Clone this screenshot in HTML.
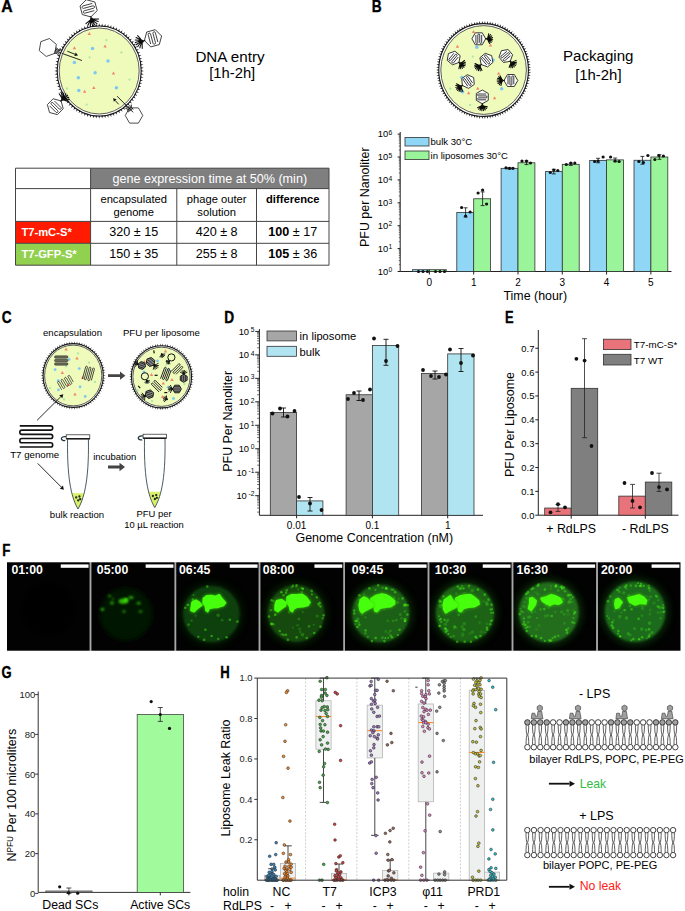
<!DOCTYPE html>
<html><head><meta charset="utf-8"><style>
html,body{margin:0;padding:0;background:#fff;overflow:hidden;}
svg{display:block;font-family:"Liberation Sans", sans-serif;}
</style></head><body>
<svg width="685" height="911" viewBox="0 0 685 911">
<rect width="685" height="911" fill="#fff"/>
<text x="0" y="0" font-size="15.8" font-weight="bold" stroke="#000" stroke-width="0.35" transform="translate(1.20 12.4) scale(0.999 1)">A</text>
<ellipse cx="99.2" cy="71" rx="40.0" ry="43.0" fill="#effbbb"/>
<ellipse cx="99.2" cy="71" rx="40.0" ry="43.0" fill="none" stroke="#4a4a4a" stroke-width="0.9"/>
<ellipse cx="99.2" cy="71" rx="42.0" ry="45.0" fill="none" stroke="#1a1a1a" stroke-width="1.1"/>
<path d="M141.20 71.75L143.90 71.00L141.20 70.25ZM141.05 74.82L143.80 74.26L141.15 73.32ZM140.71 77.87L143.48 77.50L140.91 76.38ZM140.17 80.89L142.97 80.70L140.47 79.42ZM139.44 83.86L142.24 83.87L139.84 82.42ZM138.52 86.78L141.32 86.97L139.03 85.36ZM137.42 89.62L140.20 90.00L138.02 88.24ZM136.15 92.37L138.89 92.95L136.84 91.04ZM134.70 95.02L137.39 95.78L135.48 93.74ZM133.08 97.56L135.72 98.51L133.95 96.34ZM131.31 99.98L133.87 101.10L132.25 98.82ZM129.38 102.26L131.87 103.56L130.41 101.17ZM127.32 104.40L129.71 105.86L128.42 103.38ZM125.12 106.38L127.41 108.00L126.29 105.43ZM122.81 108.20L124.98 109.97L124.03 107.33ZM120.38 109.84L122.43 111.76L121.66 109.06ZM117.86 111.30L119.76 113.35L119.19 110.61ZM115.24 112.57L117.01 114.75L116.62 111.98ZM112.56 113.65L114.17 115.95L113.97 113.15ZM109.81 114.53L111.26 116.93L111.25 114.13ZM107.01 115.21L108.29 117.70L108.48 114.91ZM104.18 115.68L105.29 118.26L105.66 115.48ZM101.32 115.95L102.25 118.59L102.81 115.84ZM98.45 116.00L99.20 118.70L99.95 116.00ZM95.59 115.84L96.15 118.59L97.08 115.95ZM92.74 115.48L93.11 118.26L94.22 115.68ZM89.92 114.91L90.11 117.70L91.39 115.21ZM87.15 114.13L87.14 116.93L88.59 114.53ZM84.43 113.15L84.23 115.95L85.84 113.65ZM81.78 111.98L81.39 114.75L83.16 112.57ZM79.21 110.61L78.64 113.35L80.54 111.30ZM76.74 109.06L75.97 111.76L78.02 109.84ZM74.37 107.33L73.42 109.97L75.59 108.20ZM72.11 105.43L70.99 108.00L73.28 106.38ZM69.98 103.38L68.69 105.86L71.08 104.40ZM67.99 101.17L66.53 103.56L69.02 102.26ZM66.15 98.82L64.53 101.10L67.09 99.98ZM64.45 96.34L62.68 98.51L65.32 97.56ZM62.92 93.74L61.01 95.78L63.70 95.02ZM61.56 91.04L59.51 92.95L62.25 92.37ZM60.38 88.24L58.20 90.00L60.98 89.62ZM59.37 85.36L57.08 86.97L59.88 86.78ZM58.56 82.42L56.16 83.87L58.96 83.86ZM57.93 79.42L55.43 80.70L58.23 80.89ZM57.49 76.38L54.92 77.50L57.69 77.87ZM57.25 73.32L54.60 74.26L57.35 74.82ZM57.20 70.25L54.50 71.00L57.20 71.75ZM57.35 67.18L54.60 67.74L57.25 68.68ZM57.69 64.13L54.92 64.50L57.49 65.62ZM58.23 61.11L55.43 61.30L57.93 62.58ZM58.96 58.14L56.16 58.13L58.56 59.58ZM59.88 55.22L57.08 55.03L59.37 56.64ZM60.98 52.38L58.20 52.00L60.38 53.76ZM62.25 49.63L59.51 49.05L61.56 50.96ZM63.70 46.98L61.01 46.22L62.92 48.26ZM65.32 44.44L62.68 43.49L64.45 45.66ZM67.09 42.02L64.53 40.90L66.15 43.18ZM69.02 39.74L66.53 38.44L67.99 40.83ZM71.08 37.60L68.69 36.14L69.98 38.62ZM73.28 35.62L70.99 34.00L72.11 36.57ZM75.59 33.80L73.42 32.03L74.37 34.67ZM78.02 32.16L75.97 30.24L76.74 32.94ZM80.54 30.70L78.64 28.65L79.21 31.39ZM83.16 29.43L81.39 27.25L81.78 30.02ZM85.84 28.35L84.23 26.05L84.43 28.85ZM88.59 27.47L87.14 25.07L87.15 27.87ZM91.39 26.79L90.11 24.30L89.92 27.09ZM94.22 26.32L93.11 23.74L92.74 26.52ZM97.08 26.05L96.15 23.41L95.59 26.16ZM99.95 26.00L99.20 23.30L98.45 26.00ZM102.81 26.16L102.25 23.41L101.32 26.05ZM105.66 26.52L105.29 23.74L104.18 26.32ZM108.48 27.09L108.29 24.30L107.01 26.79ZM111.25 27.87L111.26 25.07L109.81 27.47ZM113.97 28.85L114.17 26.05L112.56 28.35ZM116.62 30.02L117.01 27.25L115.24 29.43ZM119.19 31.39L119.76 28.65L117.86 30.70ZM121.66 32.94L122.43 30.24L120.38 32.16ZM124.03 34.67L124.98 32.03L122.81 33.80ZM126.29 36.57L127.41 34.00L125.12 35.62ZM128.42 38.62L129.71 36.14L127.32 37.60ZM130.41 40.83L131.87 38.44L129.38 39.74ZM132.25 43.18L133.87 40.90L131.31 42.02ZM133.95 45.66L135.72 43.49L133.08 44.44ZM135.48 48.26L137.39 46.22L134.70 46.98ZM136.84 50.96L138.89 49.05L136.15 49.63ZM138.02 53.76L140.20 52.00L137.42 52.38ZM139.03 56.64L141.32 55.03L138.52 55.22ZM139.84 59.58L142.24 58.13L139.44 58.14ZM140.47 62.58L142.97 61.30L140.17 61.11ZM140.91 65.62L143.48 64.50L140.71 64.13ZM141.15 68.68L143.80 67.74L141.05 67.18Z" fill="#151515"/>
<circle cx="92.5" cy="48.6" r="1.75" fill="#7dc8f2"/><circle cx="74.4" cy="62.5" r="1.75" fill="#7dc8f2"/><circle cx="108.0" cy="61.0" r="1.75" fill="#7dc8f2"/><circle cx="95.1" cy="72.8" r="1.75" fill="#7dc8f2"/><circle cx="78.3" cy="77.8" r="1.75" fill="#7dc8f2"/><circle cx="78.8" cy="90.6" r="1.75" fill="#7dc8f2"/><circle cx="116.4" cy="87.8" r="1.75" fill="#7dc8f2"/><circle cx="106.4" cy="40.2" r="1.15" fill="#a9e8ab"/><circle cx="121.4" cy="52.5" r="1.15" fill="#a9e8ab"/><circle cx="89.6" cy="57.3" r="1.15" fill="#a9e8ab"/><circle cx="129.5" cy="79.6" r="1.15" fill="#a9e8ab"/><circle cx="67.0" cy="88.5" r="1.15" fill="#a9e8ab"/><circle cx="86.7" cy="104.6" r="1.15" fill="#a9e8ab"/><path d="M87.6 35.0L91.0 35.0L89.3 32.0Z" fill="#f0876c"/><path d="M72.7 49.2L76.1 49.2L74.4 46.2Z" fill="#f0876c"/><path d="M103.4 47.6L106.8 47.6L105.1 44.6Z" fill="#f0876c"/><path d="M111.8 74.4L115.2 74.4L113.5 71.4Z" fill="#f0876c"/><path d="M92.1 88.9L95.5 88.9L93.8 85.9Z" fill="#f0876c"/><path d="M82.9 92.8L86.3 92.8L84.6 89.8Z" fill="#f0876c"/>
<polygon points="90.90,16.90 82.31,14.59 80.00,6.00 86.30,-0.30 94.89,2.01 97.20,10.60" fill="#fff" stroke="#222" stroke-width="0.85"/>
<path d="M92.36 3.42L82.90 5.96A1.25 1.25 0 0 0 83.55 8.36L93.01 5.83A1.25 1.25 0 0 1 93.65 8.24L84.19 10.77A1.25 1.25 0 0 0 84.84 13.18L94.30 10.64" stroke="#222" stroke-width="0.85" fill="none"/>
<path d="M90.79 16.47L91.48 19.05M91.48 19.05Q94.49 19.20 98.67 19.05M91.48 19.05Q94.28 20.43 98.23 21.50M91.48 19.05Q93.65 21.51 96.98 23.67M91.48 19.05Q92.70 22.31 95.07 25.27M91.48 19.05Q91.52 22.74 92.73 26.12M91.48 19.05Q90.28 22.74 90.23 26.12M91.48 19.05Q89.10 22.31 87.89 25.27M91.48 19.05Q88.15 21.51 85.97 23.67" stroke="#0a0a0a" stroke-width="1.05" fill="none" stroke-linecap="round"/>
<circle cx="91.48" cy="19.05" r="1.51" fill="#111"/>
<polygon points="144.40,40.60 146.71,32.01 155.30,29.70 161.60,36.00 159.29,44.59 150.70,46.90" fill="#fff" stroke="#222" stroke-width="0.85"/>
<path d="M157.88 42.06L155.34 32.60A1.25 1.25 0 0 0 152.94 33.25L155.47 42.71A1.25 1.25 0 0 1 153.06 43.35L150.53 33.89A1.25 1.25 0 0 0 148.12 34.54L150.66 44.00" stroke="#222" stroke-width="0.85" fill="none"/>
<path d="M144.83 40.49L142.25 41.18M142.25 41.18Q142.10 44.19 142.25 48.37M142.25 41.18Q140.87 43.98 139.80 47.93M142.25 41.18Q139.79 43.35 137.63 46.68M142.25 41.18Q138.99 42.40 136.03 44.77M142.25 41.18Q138.56 41.22 135.18 42.43M142.25 41.18Q138.56 39.98 135.18 39.93M142.25 41.18Q138.99 38.80 136.03 37.59M142.25 41.18Q139.79 37.85 137.63 35.67" stroke="#0a0a0a" stroke-width="1.05" fill="none" stroke-linecap="round"/>
<circle cx="142.25" cy="41.18" r="1.51" fill="#111"/>
<polygon points="61.10,100.90 63.22,108.82 57.42,114.62 49.50,112.50 47.38,104.58 53.18,98.78" fill="#fff" stroke="#222" stroke-width="0.85"/>
<path d="M49.68 105.95L56.05 112.32A1.15 1.15 0 0 0 57.68 110.70L51.30 104.32A1.15 1.15 0 0 1 52.92 102.70L59.30 109.08A1.15 1.15 0 0 0 60.92 107.45L54.55 101.08" stroke="#222" stroke-width="0.85" fill="none"/>
<path d="M60.81 101.19L62.55 99.45M62.55 99.45Q61.32 97.01 59.24 93.72M62.55 99.45Q62.40 96.62 61.40 92.93M62.55 99.45Q63.55 96.62 63.70 92.93M62.55 99.45Q64.63 97.01 65.86 93.72M62.55 99.45Q65.51 97.75 67.62 95.20M62.55 99.45Q66.08 98.74 68.77 97.19M62.55 99.45Q66.28 99.88 69.17 99.45M62.55 99.45Q66.08 101.01 68.77 101.72" stroke="#0a0a0a" stroke-width="1.05" fill="none" stroke-linecap="round"/>
<circle cx="62.55" cy="99.45" r="1.39" fill="#111"/>
<polygon points="46.22,56.46 39.25,50.61 40.83,41.65 49.38,38.54 56.35,44.39 54.77,53.35" fill="#fff" stroke="#222" stroke-width="0.8"/>
<polygon points="142.80,115.50 138.40,123.12 129.60,123.12 125.20,115.50 129.60,107.88 138.40,107.88" fill="#fff" stroke="#222" stroke-width="0.8"/>
<path d="M55.98 47.70Q58.33 50.60 61.01 48.85M55.49 49.05Q58.16 51.05 60.41 50.50M54.99 50.41Q58.00 51.50 59.80 52.16M54.50 51.76Q57.84 51.95 59.20 53.81M54.01 53.11Q57.67 52.40 58.60 55.46" stroke="#111" stroke-width="0.9" fill="none"/>
<path d="M128.41 112.21Q128.47 108.48 125.29 108.10M129.65 111.49Q128.88 108.24 126.82 107.22M130.90 110.77Q129.30 108.00 128.34 106.34M132.15 110.05Q129.72 107.76 129.86 105.46M133.39 109.33Q130.13 107.52 131.39 104.58" stroke="#111" stroke-width="0.9" fill="none"/>
<line x1="61.7" y1="53.3" x2="81.9" y2="60.5" stroke="#111" stroke-width="0.9"/>
<line x1="67.3" y1="51.2" x2="75.03" y2="54.31" stroke="#111" stroke-width="0.9"/>
<path d="M78.00 55.50L74.32 56.07L75.74 52.54Z" fill="#111"/>
<line x1="133.1" y1="112.3" x2="117.1" y2="96.2" stroke="#111" stroke-width="0.9"/>
<line x1="118.7" y1="104.3" x2="115.26" y2="100.56" stroke="#111" stroke-width="0.9"/>
<path d="M113.10 98.20L116.66 99.27L113.86 101.84Z" fill="#111"/>
<text x="230.00" y="62.00" font-size="15.2" text-anchor="middle" fill="#000">DNA entry</text>
<text x="232.20" y="77.80" font-size="14.8" text-anchor="middle" fill="#000">[1h-2h]</text>
<rect x="90.6" y="168.2" width="238.4" height="20.400000000000006" fill="#7f7f7f"/>
<rect x="15.5" y="221.4" width="75.1" height="21.900000000000006" fill="#ff1a00"/>
<rect x="15.5" y="243.3" width="75.1" height="21.899999999999977" fill="#92d050"/>
<path d="M15.5 168.2H329M15.5 188.6H329M15.5 221.4H329M15.5 243.3H329M15.5 265.2H329M15.5 168.2V265.2M329 168.2V265.2M90.6 168.2V265.2M176.8 188.6V265.2M256.5 188.6V265.2" stroke="#444" stroke-width="1" fill="none"/>
<text x="209.80" y="183.20" font-size="12.6" text-anchor="middle" fill="#fff">gene expression time at 50% (min)</text>
<text x="133.70" y="203.00" font-size="11.2" text-anchor="middle" fill="#000">encapsulated</text>
<text x="133.70" y="215.50" font-size="11.2" text-anchor="middle" fill="#000">genome</text>
<text x="216.65" y="203.00" font-size="11.2" text-anchor="middle" fill="#000">phage outer</text>
<text x="216.65" y="215.50" font-size="11.2" text-anchor="middle" fill="#000">solution</text>
<text x="292.75" y="203.00" font-size="11.2" text-anchor="middle" fill="#000" font-weight="bold">difference</text>
<text x="21.40" y="236.30" font-size="11.2" text-anchor="start" fill="#fff" font-weight="bold">T7-mC-S*</text>
<text x="21.40" y="258.10" font-size="11.2" text-anchor="start" fill="#fff" font-weight="bold">T7-GFP-S*</text>
<text x="133.70" y="235.90" font-size="12.6" text-anchor="middle" fill="#000">320 ± 15</text>
<text x="216.65" y="235.90" font-size="12.6" text-anchor="middle" fill="#000">420 ± 8</text>
<text x="292.8" y="235.9" font-size="12.6" text-anchor="middle"><tspan font-weight="bold">100</tspan> ± 17</text>
<text x="133.70" y="257.70" font-size="12.6" text-anchor="middle" fill="#000">150 ± 35</text>
<text x="216.65" y="257.70" font-size="12.6" text-anchor="middle" fill="#000">255 ± 8</text>
<text x="292.8" y="257.7" font-size="12.6" text-anchor="middle"><tspan font-weight="bold">105</tspan> ± 36</text>
<text x="0" y="0" font-size="15.8" font-weight="bold" stroke="#000" stroke-width="0.35" transform="translate(371.70 12.4) scale(0.867 1)">B</text>
<ellipse cx="483.6" cy="70" rx="42.8" ry="44.4" fill="#effbbb"/>
<ellipse cx="483.6" cy="70" rx="42.8" ry="44.4" fill="none" stroke="#4a4a4a" stroke-width="0.9"/>
<ellipse cx="483.6" cy="70" rx="44.8" ry="46.4" fill="none" stroke="#1a1a1a" stroke-width="1.1"/>
<path d="M528.40 70.75L531.10 70.00L528.40 69.25ZM528.28 73.40L531.02 72.80L528.37 71.90ZM528.02 76.03L530.79 75.60L528.19 74.54ZM527.62 78.65L530.40 78.37L527.87 77.17ZM527.07 81.24L529.87 81.12L527.41 79.78ZM526.37 83.79L529.18 83.83L526.80 82.35ZM525.54 86.30L528.34 86.50L526.05 84.89ZM524.57 88.75L527.35 89.11L525.16 87.37ZM523.47 91.15L526.23 91.66L524.13 89.80ZM522.24 93.47L524.96 94.14L522.98 92.16ZM520.88 95.72L523.56 96.55L521.69 94.45ZM519.40 97.88L522.03 98.86L520.28 96.67ZM517.81 99.95L520.37 101.08L518.76 98.79ZM516.10 101.93L518.60 103.20L517.11 100.82ZM514.28 103.80L516.70 105.21L515.36 102.75ZM512.37 105.56L514.71 107.11L513.50 104.58ZM510.36 107.20L512.61 108.88L511.55 106.29ZM508.27 108.73L510.41 110.53L509.51 107.88ZM506.09 110.12L508.13 112.05L507.38 109.35ZM503.84 111.39L505.77 113.43L505.17 110.69ZM501.53 112.52L503.33 114.66L502.89 111.90ZM499.15 113.51L500.83 115.75L500.55 112.97ZM496.73 114.36L498.28 116.70L498.16 113.90ZM494.26 115.07L495.68 117.49L495.71 114.68ZM491.76 115.62L493.03 118.12L493.23 115.33ZM489.23 116.03L490.36 118.60L490.72 115.82ZM486.69 116.29L487.66 118.92L488.18 116.17ZM484.13 116.40L484.96 119.08L485.63 116.36ZM481.57 116.36L482.24 119.08L483.07 116.40ZM479.02 116.17L479.54 118.92L480.51 116.29ZM476.48 115.82L476.84 118.60L477.97 116.03ZM473.97 115.33L474.17 118.12L475.44 115.62ZM471.49 114.68L471.52 117.49L472.94 115.07ZM469.04 113.90L468.92 116.70L470.47 114.36ZM466.65 112.97L466.37 115.75L468.05 113.51ZM464.31 111.90L463.87 114.66L465.67 112.52ZM462.03 110.69L461.43 113.43L463.36 111.39ZM459.82 109.35L459.07 112.05L461.11 110.12ZM457.69 107.88L456.79 110.53L458.93 108.73ZM455.65 106.29L454.59 108.88L456.84 107.20ZM453.70 104.58L452.49 107.11L454.83 105.56ZM451.84 102.75L450.50 105.21L452.92 103.80ZM450.09 100.82L448.60 103.20L451.10 101.93ZM448.44 98.79L446.83 101.08L449.39 99.95ZM446.92 96.67L445.17 98.86L447.80 97.88ZM445.51 94.45L443.64 96.55L446.32 95.72ZM444.22 92.16L442.24 94.14L444.96 93.47ZM443.07 89.80L440.97 91.66L443.73 91.15ZM442.04 87.37L439.85 89.11L442.63 88.75ZM441.15 84.89L438.86 86.50L441.66 86.30ZM440.40 82.35L438.02 83.83L440.83 83.79ZM439.79 79.78L437.33 81.12L440.13 81.24ZM439.33 77.17L436.80 78.37L439.58 78.65ZM439.01 74.54L436.41 75.60L439.18 76.03ZM438.83 71.90L436.18 72.80L438.92 73.40ZM438.80 69.25L436.10 70.00L438.80 70.75ZM438.92 66.60L436.18 67.20L438.83 68.10ZM439.18 63.97L436.41 64.40L439.01 65.46ZM439.58 61.35L436.80 61.63L439.33 62.83ZM440.13 58.76L437.33 58.88L439.79 60.22ZM440.83 56.21L438.02 56.17L440.40 57.65ZM441.66 53.70L438.86 53.50L441.15 55.11ZM442.63 51.25L439.85 50.89L442.04 52.63ZM443.73 48.85L440.97 48.34L443.07 50.20ZM444.96 46.53L442.24 45.86L444.22 47.84ZM446.32 44.28L443.64 43.45L445.51 45.55ZM447.80 42.12L445.17 41.14L446.92 43.33ZM449.39 40.05L446.83 38.92L448.44 41.21ZM451.10 38.07L448.60 36.80L450.09 39.18ZM452.92 36.20L450.50 34.79L451.84 37.25ZM454.83 34.44L452.49 32.89L453.70 35.42ZM456.84 32.80L454.59 31.12L455.65 33.71ZM458.93 31.27L456.79 29.47L457.69 32.12ZM461.11 29.88L459.07 27.95L459.82 30.65ZM463.36 28.61L461.43 26.57L462.03 29.31ZM465.67 27.48L463.87 25.34L464.31 28.10ZM468.05 26.49L466.37 24.25L466.65 27.03ZM470.47 25.64L468.92 23.30L469.04 26.10ZM472.94 24.93L471.52 22.51L471.49 25.32ZM475.44 24.38L474.17 21.88L473.97 24.67ZM477.97 23.97L476.84 21.40L476.48 24.18ZM480.51 23.71L479.54 21.08L479.02 23.83ZM483.07 23.60L482.24 20.92L481.57 23.64ZM485.63 23.64L484.96 20.92L484.13 23.60ZM488.18 23.83L487.66 21.08L486.69 23.71ZM490.72 24.18L490.36 21.40L489.23 23.97ZM493.23 24.67L493.03 21.88L491.76 24.38ZM495.71 25.32L495.68 22.51L494.26 24.93ZM498.16 26.10L498.28 23.30L496.73 25.64ZM500.55 27.03L500.83 24.25L499.15 26.49ZM502.89 28.10L503.33 25.34L501.53 27.48ZM505.17 29.31L505.77 26.57L503.84 28.61ZM507.38 30.65L508.13 27.95L506.09 29.88ZM509.51 32.12L510.41 29.47L508.27 31.27ZM511.55 33.71L512.61 31.12L510.36 32.80ZM513.50 35.42L514.71 32.89L512.37 34.44ZM515.36 37.25L516.70 34.79L514.28 36.20ZM517.11 39.18L518.60 36.80L516.10 38.07ZM518.76 41.21L520.37 38.92L517.81 40.05ZM520.28 43.33L522.03 41.14L519.40 42.12ZM521.69 45.55L523.56 43.45L520.88 44.28ZM522.98 47.84L524.96 45.86L522.24 46.53ZM524.13 50.20L526.23 48.34L523.47 48.85ZM525.16 52.63L527.35 50.89L524.57 51.25ZM526.05 55.11L528.34 53.50L525.54 53.70ZM526.80 57.65L529.18 56.17L526.37 56.21ZM527.41 60.22L529.87 58.88L527.07 58.76ZM527.87 62.83L530.40 61.63L527.62 61.35ZM528.19 65.46L530.79 64.40L528.02 63.97ZM528.37 68.10L531.02 67.20L528.28 66.60Z" fill="#151515"/>
<circle cx="476.8" cy="47.2" r="1.75" fill="#7dc8f2"/><circle cx="457.2" cy="61.1" r="1.75" fill="#7dc8f2"/><circle cx="493.2" cy="60.1" r="1.75" fill="#7dc8f2"/><circle cx="461.9" cy="77.4" r="1.75" fill="#7dc8f2"/><circle cx="462.5" cy="91.7" r="1.75" fill="#7dc8f2"/><circle cx="501.7" cy="88.7" r="1.75" fill="#7dc8f2"/><circle cx="472.7" cy="56.6" r="1.15" fill="#a9e8ab"/><circle cx="450.2" cy="88.7" r="1.15" fill="#a9e8ab"/><circle cx="470.1" cy="105.0" r="1.15" fill="#a9e8ab"/><circle cx="490.5" cy="38.6" r="1.15" fill="#a9e8ab"/><path d="M471.8 32.9L475.2 32.9L473.5 29.9Z" fill="#f0876c"/><path d="M455.7 47.8L459.1 47.8L457.4 44.8Z" fill="#f0876c"/><path d="M488.8 46.6L492.2 46.6L490.5 43.6Z" fill="#f0876c"/><path d="M497.0 74.8L500.4 74.8L498.7 71.8Z" fill="#f0876c"/><path d="M476.1 89.7L479.5 89.7L477.8 86.7Z" fill="#f0876c"/><path d="M466.9 94.2L470.3 94.2L468.6 91.2Z" fill="#f0876c"/><path d="M492.9 99.3L496.3 99.3L494.6 96.3Z" fill="#f0876c"/>
<polygon points="485.70,38.80 482.25,44.78 475.35,44.78 471.90,38.80 475.35,32.82 482.25,32.82" fill="#fff" stroke="#222" stroke-width="0.9"/>
<path d="M475.90 35.00L475.90 42.59A0.97 0.97 0 0 0 477.83 42.59L477.83 35.00A0.97 0.97 0 0 1 479.77 35.00L479.77 42.59A0.97 0.97 0 0 0 481.70 42.59L481.70 35.00" stroke="#222" stroke-width="0.9" fill="none"/>
<path d="M485.36 38.80L487.43 38.80M487.43 38.80Q488.10 36.87 488.78 33.73M487.43 38.80Q488.93 37.25 490.43 34.50M487.43 38.80Q489.57 37.90 491.72 35.79M487.43 38.80Q489.96 38.72 492.49 37.44M487.43 38.80Q490.04 39.63 492.65 39.26M487.43 38.80Q489.80 40.51 492.18 41.02M487.43 38.80Q489.28 41.25 491.13 42.51M487.43 38.80Q488.53 41.78 489.64 43.55" stroke="#0a0a0a" stroke-width="1.05" fill="none" stroke-linecap="round"/>
<circle cx="487.43" cy="38.80" r="1.17" fill="#111"/>
<polygon points="458.99,62.44 452.50,64.80 447.22,60.36 448.41,53.56 454.90,51.20 460.18,55.64" fill="#fff" stroke="#222" stroke-width="0.9"/>
<path d="M453.92 53.23L449.04 59.04A0.97 0.97 0 0 0 450.52 60.29L455.40 54.47A0.97 0.97 0 0 1 456.88 55.71L452.00 61.53A0.97 0.97 0 0 0 453.48 62.77L458.36 56.96" stroke="#222" stroke-width="0.9" fill="none"/>
<path d="M458.72 62.21L460.31 63.54M460.31 63.54Q462.07 62.50 464.60 60.54M460.31 63.54Q462.45 63.33 465.37 62.19M460.31 63.54Q462.53 64.23 465.53 64.00M460.31 63.54Q462.30 65.11 465.06 65.76M460.31 63.54Q461.78 65.86 464.02 67.25M460.31 63.54Q461.03 66.38 462.52 68.30M460.31 63.54Q460.15 66.62 460.76 68.77M460.31 63.54Q459.24 66.54 458.95 68.61" stroke="#0a0a0a" stroke-width="1.05" fill="none" stroke-linecap="round"/>
<circle cx="460.31" cy="63.54" r="1.17" fill="#111"/>
<polygon points="481.11,64.54 479.92,57.74 485.20,53.30 491.69,55.66 492.88,62.46 487.60,66.90" fill="#fff" stroke="#222" stroke-width="0.9"/>
<path d="M491.06 61.14L486.18 55.33A0.97 0.97 0 0 0 484.70 56.57L489.58 62.39A0.97 0.97 0 0 1 488.10 63.63L483.22 57.81A0.97 0.97 0 0 0 481.74 59.06L486.62 64.87" stroke="#222" stroke-width="0.9" fill="none"/>
<path d="M481.38 64.31L479.79 65.64M479.79 65.64Q480.52 67.56 482.01 70.40M479.79 65.64Q479.64 67.80 480.25 70.87M479.79 65.64Q478.73 67.72 478.44 70.71M479.79 65.64Q477.90 67.33 476.79 69.94M479.79 65.64Q477.26 66.69 475.50 68.65M479.79 65.64Q476.87 65.86 474.73 67.00M479.79 65.64Q476.80 64.96 474.57 65.19M479.79 65.64Q477.03 64.08 475.04 63.43" stroke="#0a0a0a" stroke-width="1.05" fill="none" stroke-linecap="round"/>
<circle cx="479.79" cy="65.64" r="1.17" fill="#111"/>
<polygon points="510.24,61.29 503.44,62.48 499.00,57.20 501.36,50.71 508.16,49.52 512.60,54.80" fill="#fff" stroke="#222" stroke-width="0.9"/>
<path d="M506.84 51.34L501.03 56.22A0.97 0.97 0 0 0 502.27 57.70L508.09 52.82A0.97 0.97 0 0 1 509.33 54.30L503.51 59.18A0.97 0.97 0 0 0 504.76 60.66L510.57 55.78" stroke="#222" stroke-width="0.9" fill="none"/>
<path d="M510.01 61.02L511.34 62.61M511.34 62.61Q513.26 61.88 516.10 60.39M511.34 62.61Q513.50 62.76 516.57 62.15M511.34 62.61Q513.42 63.67 516.41 63.96M511.34 62.61Q513.03 64.50 515.64 65.61M511.34 62.61Q512.39 65.14 514.35 66.90M511.34 62.61Q511.56 65.53 512.70 67.67M511.34 62.61Q510.66 65.60 510.89 67.83M511.34 62.61Q509.78 65.37 509.13 67.36" stroke="#0a0a0a" stroke-width="1.05" fill="none" stroke-linecap="round"/>
<circle cx="511.34" cy="62.61" r="1.17" fill="#111"/>
<polygon points="462.35,85.46 461.75,78.58 467.40,74.63 473.65,77.54 474.25,84.42 468.60,88.37" fill="#fff" stroke="#222" stroke-width="0.9"/>
<path d="M472.55 82.95L468.20 76.73A0.97 0.97 0 0 0 466.61 77.84L470.97 84.05A0.97 0.97 0 0 1 469.39 85.16L465.03 78.95A0.97 0.97 0 0 0 463.45 80.05L467.80 86.27" stroke="#222" stroke-width="0.9" fill="none"/>
<path d="M462.63 85.26L460.93 86.45M460.93 86.45Q461.49 88.42 462.73 91.37M460.93 86.45Q460.59 88.58 460.93 91.69M460.93 86.45Q459.69 88.42 459.14 91.37M460.93 86.45Q458.91 87.96 457.56 90.46M460.93 86.45Q458.32 87.27 456.39 89.07M460.93 86.45Q458.01 86.41 455.77 87.36M460.93 86.45Q458.01 85.50 455.77 85.54M460.93 86.45Q458.32 84.64 456.39 83.83" stroke="#0a0a0a" stroke-width="1.05" fill="none" stroke-linecap="round"/>
<circle cx="460.93" cy="86.45" r="1.17" fill="#111"/>
<polygon points="504.00,80.50 507.45,74.52 514.35,74.52 517.80,80.50 514.35,86.48 507.45,86.48" fill="#fff" stroke="#222" stroke-width="0.9"/>
<path d="M513.80 84.30L513.80 76.70A0.97 0.97 0 0 0 511.87 76.70L511.87 84.30A0.97 0.97 0 0 1 509.93 84.30L509.93 76.70A0.97 0.97 0 0 0 508.00 76.70L508.00 84.30" stroke="#222" stroke-width="0.9" fill="none"/>
<path d="M504.34 80.50L502.27 80.50M502.27 80.50Q501.60 82.43 500.92 85.57M502.27 80.50Q500.77 82.05 499.27 84.80M502.27 80.50Q500.13 81.40 497.98 83.51M502.27 80.50Q499.74 80.58 497.21 81.86M502.27 80.50Q499.66 79.67 497.05 80.04M502.27 80.50Q499.90 78.79 497.52 78.28M502.27 80.50Q500.42 78.05 498.57 76.79M502.27 80.50Q501.17 77.52 500.06 75.75" stroke="#0a0a0a" stroke-width="1.05" fill="none" stroke-linecap="round"/>
<circle cx="502.27" cy="80.50" r="1.17" fill="#111"/>
<polygon points="482.30,103.80 476.32,100.35 476.32,93.45 482.30,90.00 488.28,93.45 488.28,100.35" fill="#fff" stroke="#222" stroke-width="0.9"/>
<path d="M486.10 94.00L478.50 94.00A0.97 0.97 0 0 0 478.50 95.93L486.10 95.93A0.97 0.97 0 0 1 486.10 97.87L478.50 97.87A0.97 0.97 0 0 0 478.50 99.80L486.10 99.80" stroke="#222" stroke-width="0.9" fill="none"/>
<path d="M482.30 103.46L482.30 105.53M482.30 105.53Q484.23 106.20 487.37 106.88M482.30 105.53Q483.85 107.03 486.60 108.53M482.30 105.53Q483.20 107.67 485.31 109.82M482.30 105.53Q482.38 108.06 483.66 110.59M482.30 105.53Q481.47 108.14 481.84 110.75M482.30 105.53Q480.59 107.90 480.08 110.28M482.30 105.53Q479.85 107.38 478.59 109.23M482.30 105.53Q479.32 106.63 477.55 107.74" stroke="#0a0a0a" stroke-width="1.05" fill="none" stroke-linecap="round"/>
<circle cx="482.30" cy="105.53" r="1.17" fill="#111"/>
<text x="598.20" y="60.80" font-size="15.1" text-anchor="middle" fill="#000">Packaging</text>
<text x="598.35" y="80.20" font-size="14.9" text-anchor="middle" fill="#000">[1h-2h]</text>
<path d="M400.2 132V271.5H671.5" stroke="#222" stroke-width="1" fill="none"/>
<line x1="397.59999999999997" y1="271.5" x2="400.2" y2="271.5" stroke="#222" stroke-width="1"/>
<text x="392.3" y="274.80" font-size="9.4" text-anchor="end">10<tspan font-size="6.7" dx="0.3" dy="-2.6">0</tspan></text>
<path d="M398.8 264.61H400.2M398.8 260.57H400.2M398.8 257.71H400.2M398.8 255.49H400.2M398.8 253.68H400.2M398.8 252.15H400.2M398.8 250.82H400.2M398.8 249.65H400.2" stroke="#222" stroke-width="0.6"/>
<line x1="397.59999999999997" y1="248.6" x2="400.2" y2="248.6" stroke="#222" stroke-width="1"/>
<text x="392.3" y="251.90" font-size="9.4" text-anchor="end">10<tspan font-size="6.7" dx="0.3" dy="-2.6">1</tspan></text>
<path d="M398.8 241.71H400.2M398.8 237.67H400.2M398.8 234.81H400.2M398.8 232.59H400.2M398.8 230.78H400.2M398.8 229.25H400.2M398.8 227.92H400.2M398.8 226.75H400.2" stroke="#222" stroke-width="0.6"/>
<line x1="397.59999999999997" y1="225.7" x2="400.2" y2="225.7" stroke="#222" stroke-width="1"/>
<text x="392.3" y="229.00" font-size="9.4" text-anchor="end">10<tspan font-size="6.7" dx="0.3" dy="-2.6">2</tspan></text>
<path d="M398.8 218.81H400.2M398.8 214.77H400.2M398.8 211.91H400.2M398.8 209.69H400.2M398.8 207.88H400.2M398.8 206.35H400.2M398.8 205.02H400.2M398.8 203.85H400.2" stroke="#222" stroke-width="0.6"/>
<line x1="397.59999999999997" y1="202.8" x2="400.2" y2="202.8" stroke="#222" stroke-width="1"/>
<text x="392.3" y="206.10" font-size="9.4" text-anchor="end">10<tspan font-size="6.7" dx="0.3" dy="-2.6">3</tspan></text>
<path d="M398.8 195.91H400.2M398.8 191.87H400.2M398.8 189.01H400.2M398.8 186.79H400.2M398.8 184.98H400.2M398.8 183.45H400.2M398.8 182.12H400.2M398.8 180.95H400.2" stroke="#222" stroke-width="0.6"/>
<line x1="397.59999999999997" y1="179.9" x2="400.2" y2="179.9" stroke="#222" stroke-width="1"/>
<text x="392.3" y="183.20" font-size="9.4" text-anchor="end">10<tspan font-size="6.7" dx="0.3" dy="-2.6">4</tspan></text>
<path d="M398.8 173.01H400.2M398.8 168.97H400.2M398.8 166.11H400.2M398.8 163.89H400.2M398.8 162.08H400.2M398.8 160.55H400.2M398.8 159.22H400.2M398.8 158.05H400.2" stroke="#222" stroke-width="0.6"/>
<line x1="397.59999999999997" y1="157.0" x2="400.2" y2="157.0" stroke="#222" stroke-width="1"/>
<text x="392.3" y="160.30" font-size="9.4" text-anchor="end">10<tspan font-size="6.7" dx="0.3" dy="-2.6">5</tspan></text>
<path d="M398.8 150.11H400.2M398.8 146.07H400.2M398.8 143.21H400.2M398.8 140.99H400.2M398.8 139.18H400.2M398.8 137.65H400.2M398.8 136.32H400.2M398.8 135.15H400.2" stroke="#222" stroke-width="0.6"/>
<line x1="397.59999999999997" y1="134.10000000000002" x2="400.2" y2="134.10000000000002" stroke="#222" stroke-width="1"/>
<text x="392.3" y="137.40" font-size="9.4" text-anchor="end">10<tspan font-size="6.7" dx="0.3" dy="-2.6">6</tspan></text>
<rect x="412.50" y="269.69" width="16.9" height="1.81" fill="#8fd7f5" stroke="#333" stroke-width="0.8"/>
<rect x="429.40" y="269.69" width="16.9" height="1.81" fill="#9af59a" stroke="#333" stroke-width="0.8"/>
<line x1="429.4" y1="271.5" x2="429.4" y2="274.5" stroke="#222"/>
<text x="429.40" y="285.50" font-size="10" text-anchor="middle" fill="#000">0</text>
<rect x="456.80" y="212.42" width="16.9" height="59.08" fill="#8fd7f5" stroke="#333" stroke-width="0.8"/>
<rect x="473.70" y="198.77" width="16.9" height="72.73" fill="#9af59a" stroke="#333" stroke-width="0.8"/>
<line x1="473.7" y1="271.5" x2="473.7" y2="274.5" stroke="#222"/>
<text x="473.70" y="285.50" font-size="10" text-anchor="middle" fill="#000">1</text>
<rect x="501.10" y="168.33" width="16.9" height="103.17" fill="#8fd7f5" stroke="#333" stroke-width="0.8"/>
<rect x="518.00" y="162.77" width="16.9" height="108.73" fill="#9af59a" stroke="#333" stroke-width="0.8"/>
<line x1="518.0" y1="271.5" x2="518.0" y2="274.5" stroke="#222"/>
<text x="518.00" y="285.50" font-size="10" text-anchor="middle" fill="#000">2</text>
<rect x="545.40" y="171.62" width="16.9" height="99.88" fill="#8fd7f5" stroke="#333" stroke-width="0.8"/>
<rect x="562.30" y="164.30" width="16.9" height="107.20" fill="#9af59a" stroke="#333" stroke-width="0.8"/>
<line x1="562.3" y1="271.5" x2="562.3" y2="274.5" stroke="#222"/>
<text x="562.30" y="285.50" font-size="10" text-anchor="middle" fill="#000">3</text>
<rect x="589.70" y="160.55" width="16.9" height="110.95" fill="#8fd7f5" stroke="#333" stroke-width="0.8"/>
<rect x="606.60" y="159.86" width="16.9" height="111.64" fill="#9af59a" stroke="#333" stroke-width="0.8"/>
<line x1="606.5999999999999" y1="271.5" x2="606.5999999999999" y2="274.5" stroke="#222"/>
<text x="606.60" y="285.50" font-size="10" text-anchor="middle" fill="#000">4</text>
<rect x="634.00" y="160.27" width="16.9" height="111.23" fill="#8fd7f5" stroke="#333" stroke-width="0.8"/>
<rect x="650.90" y="157.00" width="16.9" height="114.50" fill="#9af59a" stroke="#333" stroke-width="0.8"/>
<line x1="650.9" y1="271.5" x2="650.9" y2="274.5" stroke="#222"/>
<text x="650.90" y="285.50" font-size="10" text-anchor="middle" fill="#000">5</text>
<circle cx="418.5" cy="271.5" r="1.6" fill="#111"/>
<circle cx="423.0" cy="271.5" r="1.6" fill="#111"/>
<circle cx="427.5" cy="271.5" r="1.6" fill="#111"/>
<circle cx="435.5" cy="271.5" r="1.6" fill="#111"/>
<circle cx="440.0" cy="271.5" r="1.6" fill="#111"/>
<circle cx="444.5" cy="271.5" r="1.6" fill="#111"/>
<path d="M465.6 207.8V217.0M463.6 207.8H467.6M463.6 217.0H467.6" stroke="#111" stroke-width="0.8" fill="none"/>
<path d="M482.6 191.9V205.6M480.6 191.9H484.6M480.6 205.6H484.6" stroke="#111" stroke-width="0.8" fill="none"/>
<circle cx="461.6" cy="207.5" r="1.6" fill="#111"/>
<circle cx="465.6" cy="216.0" r="1.6" fill="#111"/>
<circle cx="470.1" cy="212.0" r="1.6" fill="#111"/>
<circle cx="478.1" cy="193.0" r="1.6" fill="#111"/>
<circle cx="482.6" cy="190.0" r="1.6" fill="#111"/>
<circle cx="486.6" cy="204.0" r="1.6" fill="#111"/>
<path d="M509.5 167.6V169.0M507.5 167.6H511.5M507.5 169.0H511.5" stroke="#111" stroke-width="0.8" fill="none"/>
<path d="M526.5 160.9V164.6M524.5 160.9H528.5M524.5 164.6H528.5" stroke="#111" stroke-width="0.8" fill="none"/>
<circle cx="506.0" cy="167.8" r="1.6" fill="#111"/>
<circle cx="509.5" cy="168.3" r="1.6" fill="#111"/>
<circle cx="513.0" cy="168.3" r="1.6" fill="#111"/>
<circle cx="522.0" cy="161.0" r="1.6" fill="#111"/>
<circle cx="526.5" cy="161.0" r="1.6" fill="#111"/>
<circle cx="530.5" cy="163.0" r="1.6" fill="#111"/>
<path d="M553.8 169.3V173.9M551.8 169.3H555.8M551.8 173.9H555.8" stroke="#111" stroke-width="0.8" fill="none"/>
<path d="M570.8 163.2V165.4M568.8 163.2H572.8M568.8 165.4H572.8" stroke="#111" stroke-width="0.8" fill="none"/>
<circle cx="550.3" cy="172.5" r="1.6" fill="#111"/>
<circle cx="553.8" cy="170.0" r="1.6" fill="#111"/>
<circle cx="557.8" cy="170.5" r="1.6" fill="#111"/>
<circle cx="566.3" cy="164.5" r="1.6" fill="#111"/>
<circle cx="570.8" cy="163.0" r="1.6" fill="#111"/>
<circle cx="574.8" cy="163.0" r="1.6" fill="#111"/>
<path d="M598.0999999999999 158.3V162.8M596.0999999999999 158.3H600.0999999999999M596.0999999999999 162.8H600.0999999999999" stroke="#111" stroke-width="0.8" fill="none"/>
<path d="M615.0999999999999 158.0V161.7M613.0999999999999 158.0H617.0999999999999M613.0999999999999 161.7H617.0999999999999" stroke="#111" stroke-width="0.8" fill="none"/>
<circle cx="594.6" cy="161.5" r="1.6" fill="#111"/>
<circle cx="598.1" cy="161.0" r="1.6" fill="#111"/>
<circle cx="603.1" cy="157.0" r="1.6" fill="#111"/>
<circle cx="610.6" cy="157.0" r="1.6" fill="#111"/>
<circle cx="615.1" cy="161.0" r="1.6" fill="#111"/>
<circle cx="619.1" cy="161.5" r="1.6" fill="#111"/>
<path d="M642.4 156.4V164.2M640.4 156.4H644.4M640.4 164.2H644.4" stroke="#111" stroke-width="0.8" fill="none"/>
<path d="M659.4 154.7V159.3M657.4 154.7H661.4M657.4 159.3H661.4" stroke="#111" stroke-width="0.8" fill="none"/>
<circle cx="638.9" cy="161.5" r="1.6" fill="#111"/>
<circle cx="643.4" cy="162.5" r="1.6" fill="#111"/>
<circle cx="647.9" cy="155.5" r="1.6" fill="#111"/>
<circle cx="654.9" cy="159.5" r="1.6" fill="#111"/>
<circle cx="658.9" cy="155.5" r="1.6" fill="#111"/>
<circle cx="663.4" cy="156.0" r="1.6" fill="#111"/>
<rect x="405" y="137.4" width="24" height="8.6" fill="#8fd7f5" stroke="#333" stroke-width="0.8"/>
<rect x="405" y="151" width="24" height="8.6" fill="#9af59a" stroke="#333" stroke-width="0.8"/>
<text x="430.50" y="145.20" font-size="9.6" text-anchor="start" fill="#000">bulk 30°C</text>
<text x="430.50" y="158.80" font-size="9.6" text-anchor="start" fill="#000">in liposomes 30°C</text>
<text x="535.30" y="300.00" font-size="12.4" text-anchor="middle" fill="#000">Time (hour)</text>
<text x="368.80" y="197.20" font-size="12.45" text-anchor="middle" fill="#000" transform="rotate(-90 368.8 197.2)">PFU per Nanoliter</text>
<text x="0" y="0" font-size="15.8" font-weight="bold" stroke="#000" stroke-width="0.35" transform="translate(1.80 323.3) scale(0.867 1)">C</text>
<text x="72.50" y="335.90" font-size="9.56" text-anchor="middle" fill="#000">encapsulation</text>
<text x="161.40" y="335.80" font-size="9.62" text-anchor="middle" fill="#000">PFU per liposome</text>
<ellipse cx="73.2" cy="375.5" rx="28.6" ry="30.4" fill="#effbbb"/>
<ellipse cx="73.2" cy="375.5" rx="28.6" ry="30.4" fill="none" stroke="#4a4a4a" stroke-width="0.9"/>
<ellipse cx="73.2" cy="375.5" rx="30.1" ry="31.9" fill="none" stroke="#1a1a1a" stroke-width="1.1"/>
<path d="M103.30 376.05L105.60 375.50L103.30 374.95ZM103.16 378.62L105.49 378.25L103.25 377.52ZM102.82 381.16L105.18 380.99L103.00 380.07ZM102.29 383.67L104.66 383.68L102.56 382.60ZM101.58 386.12L103.93 386.33L101.93 385.08ZM100.68 388.51L103.01 388.91L101.11 387.50ZM99.60 390.81L101.89 391.39L100.11 389.84ZM98.35 393.01L100.58 393.78L98.93 392.08ZM96.93 395.10L99.10 396.05L97.59 394.22ZM95.37 397.07L97.45 398.18L96.09 396.24ZM93.65 398.89L95.64 400.17L94.45 398.13ZM91.81 400.56L93.69 401.99L92.66 399.86ZM89.85 402.07L91.61 403.65L90.75 401.44ZM87.77 403.40L89.40 405.12L88.73 402.85ZM85.61 404.56L87.09 406.40L86.60 404.08ZM83.36 405.52L84.69 407.48L84.39 405.13ZM81.05 406.29L82.21 408.35L82.10 405.99ZM78.68 406.87L79.68 409.01L79.76 406.65ZM76.28 407.23L77.11 409.45L77.37 407.10ZM73.86 407.40L74.50 409.67L74.96 407.35ZM71.44 407.35L71.90 409.67L72.54 407.40ZM69.03 407.10L69.29 409.45L70.12 407.23ZM66.64 406.65L66.72 409.01L67.72 406.87ZM64.30 405.99L64.19 408.35L65.35 406.29ZM62.01 405.13L61.71 407.48L63.04 405.52ZM59.80 404.08L59.31 406.40L60.79 404.56ZM57.67 402.85L57.00 405.12L58.63 403.40ZM55.65 401.44L54.79 403.65L56.55 402.07ZM53.74 399.86L52.71 401.99L54.59 400.56ZM51.95 398.13L50.76 400.17L52.75 398.89ZM50.31 396.24L48.95 398.18L51.03 397.07ZM48.81 394.22L47.30 396.05L49.47 395.10ZM47.47 392.08L45.82 393.78L48.05 393.01ZM46.29 389.84L44.51 391.39L46.80 390.81ZM45.29 387.50L43.39 388.91L45.72 388.51ZM44.47 385.08L42.47 386.33L44.82 386.12ZM43.84 382.60L41.74 383.68L44.11 383.67ZM43.40 380.07L41.22 380.99L43.58 381.16ZM43.15 377.52L40.91 378.25L43.24 378.62ZM43.10 374.95L40.80 375.50L43.10 376.05ZM43.24 372.38L40.91 372.75L43.15 373.48ZM43.58 369.84L41.22 370.01L43.40 370.93ZM44.11 367.33L41.74 367.32L43.84 368.40ZM44.82 364.88L42.47 364.67L44.47 365.92ZM45.72 362.49L43.39 362.09L45.29 363.50ZM46.80 360.19L44.51 359.61L46.29 361.16ZM48.05 357.99L45.82 357.22L47.47 358.92ZM49.47 355.90L47.30 354.95L48.81 356.78ZM51.03 353.93L48.95 352.82L50.31 354.76ZM52.75 352.11L50.76 350.83L51.95 352.87ZM54.59 350.44L52.71 349.01L53.74 351.14ZM56.55 348.93L54.79 347.35L55.65 349.56ZM58.63 347.60L57.00 345.88L57.67 348.15ZM60.79 346.44L59.31 344.60L59.80 346.92ZM63.04 345.48L61.71 343.52L62.01 345.87ZM65.35 344.71L64.19 342.65L64.30 345.01ZM67.72 344.13L66.72 341.99L66.64 344.35ZM70.12 343.77L69.29 341.55L69.03 343.90ZM72.54 343.60L71.90 341.33L71.44 343.65ZM74.96 343.65L74.50 341.33L73.86 343.60ZM77.37 343.90L77.11 341.55L76.28 343.77ZM79.76 344.35L79.68 341.99L78.68 344.13ZM82.10 345.01L82.21 342.65L81.05 344.71ZM84.39 345.87L84.69 343.52L83.36 345.48ZM86.60 346.92L87.09 344.60L85.61 346.44ZM88.73 348.15L89.40 345.88L87.77 347.60ZM90.75 349.56L91.61 347.35L89.85 348.93ZM92.66 351.14L93.69 349.01L91.81 350.44ZM94.45 352.87L95.64 350.83L93.65 352.11ZM96.09 354.76L97.45 352.82L95.37 353.93ZM97.59 356.78L99.10 354.95L96.93 355.90ZM98.93 358.92L100.58 357.22L98.35 357.99ZM100.11 361.16L101.89 359.61L99.60 360.19ZM101.11 363.50L103.01 362.09L100.68 362.49ZM101.93 365.92L103.93 364.67L101.58 364.88ZM102.56 368.40L104.66 367.32L102.29 367.33ZM103.00 370.93L105.18 370.01L102.82 369.84ZM103.25 373.48L105.49 372.75L103.16 372.38Z" fill="#151515"/>
<circle cx="69.1" cy="359.4" r="1.4" fill="#7dc8f2"/><circle cx="55.1" cy="369.6" r="1.4" fill="#7dc8f2"/><circle cx="79.3" cy="368.6" r="1.4" fill="#7dc8f2"/><circle cx="58.2" cy="380.7" r="1.4" fill="#7dc8f2"/><circle cx="58.4" cy="389.9" r="1.4" fill="#7dc8f2"/><circle cx="80.1" cy="386.8" r="1.4" fill="#7dc8f2"/><circle cx="85.2" cy="396.5" r="1.4" fill="#7dc8f2"/><circle cx="78.0" cy="353.5" r="1.15" fill="#a9e8ab"/><circle cx="89.0" cy="362.7" r="1.15" fill="#a9e8ab"/><circle cx="66.1" cy="366.4" r="1.15" fill="#a9e8ab"/><circle cx="50.0" cy="387.8" r="1.15" fill="#a9e8ab"/><circle cx="95.0" cy="381.9" r="1.15" fill="#a9e8ab"/><circle cx="64.0" cy="399.5" r="1.15" fill="#a9e8ab"/><path d="M64.4 350.6L67.8 350.6L66.1 347.6Z" fill="#f0876c"/><path d="M75.3 359.6L78.7 359.6L77.0 356.6Z" fill="#f0876c"/><path d="M60.6 374.1L64.0 374.1L62.3 371.1Z" fill="#f0876c"/><path d="M73.3 395.4L76.7 395.4L75.0 392.4Z" fill="#f0876c"/><path d="M66.9 385.9L70.3 385.9L68.6 382.9Z" fill="#f0876c"/><path d="M81.0 378.7L84.4 378.7L82.7 375.7Z" fill="#f0876c"/>
<rect x="54.5" y="355.80" width="13.5" height="2.4" rx="1.2" fill="#6b6b58" stroke="#222" stroke-width="0.5"/>
<rect x="54.5" y="359.30" width="13.5" height="2.4" rx="1.2" fill="#6b6b58" stroke="#222" stroke-width="0.5"/>
<rect x="54.5" y="362.80" width="13.5" height="2.4" rx="1.2" fill="#6b6b58" stroke="#222" stroke-width="0.5"/>
<path d="M58.50 386.90L58.50 378.90A1.00 1.00 0 0 1 60.50 378.90L60.50 385.90A1.00 1.00 0 0 0 62.50 385.90L62.50 378.90A1.00 1.00 0 0 1 64.50 378.90L64.50 385.90A1.00 1.00 0 0 0 66.50 385.90L66.50 378.90A1.00 1.00 0 0 1 68.50 378.90L68.50 385.90A1.00 1.00 0 0 0 70.50 385.90L70.50 378.90A1.00 1.00 0 0 1 72.50 378.90L72.50 385.90" fill="none" stroke="#222" stroke-width="0.65" transform="rotate(-30 65.5 382.4)"/>
<path d="M84.00 380.45L84.00 367.85A0.90 0.90 0 0 1 85.80 367.85L85.80 379.55A0.90 0.90 0 0 0 87.60 379.55L87.60 367.85A0.90 0.90 0 0 1 89.40 367.85L89.40 379.55A0.90 0.90 0 0 0 91.20 379.55L91.20 367.85A0.90 0.90 0 0 1 93.00 367.85L93.00 379.55" fill="none" stroke="#222" stroke-width="0.75" transform="rotate(15 88.5 373.7)"/>
<line x1="37.1" y1="420.3" x2="60.75" y2="396.74" stroke="#111" stroke-width="0.9"/>
<path d="M63.30 394.20L62.30 398.30L59.20 395.18Z" fill="#111"/>
<ellipse cx="161.5" cy="376.8" rx="28.6" ry="29.6" fill="#effbbb"/>
<ellipse cx="161.5" cy="376.8" rx="28.6" ry="29.6" fill="none" stroke="#4a4a4a" stroke-width="0.9"/>
<ellipse cx="161.5" cy="376.8" rx="30.1" ry="31.1" fill="none" stroke="#1a1a1a" stroke-width="1.1"/>
<path d="M191.60 377.35L193.90 376.80L191.60 376.25ZM191.46 379.85L193.79 379.49L191.55 378.75ZM191.12 382.33L193.48 382.16L191.30 381.25ZM190.59 384.78L192.96 384.79L190.86 383.71ZM189.88 387.17L192.23 387.38L190.23 386.13ZM188.98 389.50L191.31 389.89L189.41 388.48ZM187.90 391.74L190.19 392.32L188.41 390.77ZM186.65 393.89L188.88 394.65L187.23 392.96ZM185.23 395.92L187.40 396.86L185.89 395.04ZM183.67 397.83L185.75 398.95L184.39 397.01ZM181.95 399.61L183.94 400.89L182.75 398.85ZM180.11 401.24L181.99 402.67L180.96 400.54ZM178.15 402.71L179.91 404.29L179.05 402.08ZM176.07 404.01L177.70 405.73L177.03 403.46ZM173.91 405.13L175.39 406.98L174.90 404.66ZM171.66 406.07L172.99 408.03L172.69 405.68ZM169.35 406.83L170.51 408.88L170.40 406.52ZM166.98 407.38L167.98 409.53L168.06 407.16ZM164.58 407.74L165.41 409.96L165.67 407.61ZM162.16 407.90L162.80 410.17L163.26 407.85ZM159.74 407.85L160.20 410.17L160.84 407.90ZM157.33 407.61L157.59 409.96L158.42 407.74ZM154.94 407.16L155.02 409.53L156.02 407.38ZM152.60 406.52L152.49 408.88L153.65 406.83ZM150.31 405.68L150.01 408.03L151.34 406.07ZM148.10 404.66L147.61 406.98L149.09 405.13ZM145.97 403.46L145.30 405.73L146.93 404.01ZM143.95 402.08L143.09 404.29L144.85 402.71ZM142.04 400.54L141.01 402.67L142.89 401.24ZM140.25 398.85L139.06 400.89L141.05 399.61ZM138.61 397.01L137.25 398.95L139.33 397.83ZM137.11 395.04L135.60 396.86L137.77 395.92ZM135.77 392.96L134.12 394.65L136.35 393.89ZM134.59 390.77L132.81 392.32L135.10 391.74ZM133.59 388.48L131.69 389.89L134.02 389.50ZM132.77 386.13L130.77 387.38L133.12 387.17ZM132.14 383.71L130.04 384.79L132.41 384.78ZM131.70 381.25L129.52 382.16L131.88 382.33ZM131.45 378.75L129.21 379.49L131.54 379.85ZM131.40 376.25L129.10 376.80L131.40 377.35ZM131.54 373.75L129.21 374.11L131.45 374.85ZM131.88 371.27L129.52 371.44L131.70 372.35ZM132.41 368.82L130.04 368.81L132.14 369.89ZM133.12 366.43L130.77 366.22L132.77 367.47ZM134.02 364.10L131.69 363.71L133.59 365.12ZM135.10 361.86L132.81 361.28L134.59 362.83ZM136.35 359.71L134.12 358.95L135.77 360.64ZM137.77 357.68L135.60 356.74L137.11 358.56ZM139.33 355.77L137.25 354.65L138.61 356.59ZM141.05 353.99L139.06 352.71L140.25 354.75ZM142.89 352.36L141.01 350.93L142.04 353.06ZM144.85 350.89L143.09 349.31L143.95 351.52ZM146.93 349.59L145.30 347.87L145.97 350.14ZM149.09 348.47L147.61 346.62L148.10 348.94ZM151.34 347.53L150.01 345.57L150.31 347.92ZM153.65 346.77L152.49 344.72L152.60 347.08ZM156.02 346.22L155.02 344.07L154.94 346.44ZM158.42 345.86L157.59 343.64L157.33 345.99ZM160.84 345.70L160.20 343.43L159.74 345.75ZM163.26 345.75L162.80 343.43L162.16 345.70ZM165.67 345.99L165.41 343.64L164.58 345.86ZM168.06 346.44L167.98 344.07L166.98 346.22ZM170.40 347.08L170.51 344.72L169.35 346.77ZM172.69 347.92L172.99 345.57L171.66 347.53ZM174.90 348.94L175.39 346.62L173.91 348.47ZM177.03 350.14L177.70 347.87L176.07 349.59ZM179.05 351.52L179.91 349.31L178.15 350.89ZM180.96 353.06L181.99 350.93L180.11 352.36ZM182.75 354.75L183.94 352.71L181.95 353.99ZM184.39 356.59L185.75 354.65L183.67 355.77ZM185.89 358.56L187.40 356.74L185.23 357.68ZM187.23 360.64L188.88 358.95L186.65 359.71ZM188.41 362.83L190.19 361.28L187.90 361.86ZM189.41 365.12L191.31 363.71L188.98 364.10ZM190.23 367.47L192.23 366.22L189.88 366.43ZM190.86 369.89L192.96 368.81L190.59 368.82ZM191.30 372.35L193.48 371.44L191.12 371.27ZM191.55 374.85L193.79 374.11L191.46 373.75Z" fill="#151515"/>
<circle cx="157.5" cy="361.0" r="1.4" fill="#7dc8f2"/><circle cx="144.0" cy="372.0" r="1.4" fill="#7dc8f2"/><circle cx="168.5" cy="370.0" r="1.4" fill="#7dc8f2"/><circle cx="147.0" cy="382.0" r="1.4" fill="#7dc8f2"/><circle cx="168.2" cy="387.3" r="1.4" fill="#7dc8f2"/><circle cx="173.5" cy="398.5" r="1.4" fill="#7dc8f2"/><circle cx="146.5" cy="392.5" r="1.4" fill="#7dc8f2"/><circle cx="137.5" cy="390.5" r="1.15" fill="#a9e8ab"/><circle cx="166.5" cy="364.5" r="1.15" fill="#a9e8ab"/><circle cx="152.0" cy="401.0" r="1.15" fill="#a9e8ab"/><circle cx="184.5" cy="384.0" r="1.15" fill="#a9e8ab"/><path d="M142.6 362.9L146.0 362.9L144.3 359.9Z" fill="#f0876c"/><path d="M149.8 376.1L153.2 376.1L151.5 373.1Z" fill="#f0876c"/><path d="M170.3 380.9L173.7 380.9L172.0 377.9Z" fill="#f0876c"/><path d="M161.6 384.6L165.0 384.6L163.3 381.6Z" fill="#f0876c"/><path d="M160.8 397.9L164.2 397.9L162.5 394.9Z" fill="#f0876c"/><path d="M163.8 352.4L167.2 352.4L165.5 349.4Z" fill="#f0876c"/>
<polygon points="138.04,364.13 141.11,361.56 144.86,362.93 145.56,366.87 142.49,369.44 138.74,368.07" fill="#888" stroke="#111" stroke-width="0.9"/>
<path d="M143.75 368.34l-5.26 -1.92M144.43 366.46l-5.26 -1.92M145.12 364.58l-5.26 -1.92" stroke="#111" stroke-width="0.8"/>
<path d="M137.67 364.00l-2.55 2.55M137.67 364.00l-3.48 0.93M137.67 364.00l-3.55 -0.63M137.67 364.00l-2.95 -2.06M137.67 364.00l-1.80 -3.12M137.67 364.00l-0.31 -3.59" stroke="#111" stroke-width="0.9" stroke-linecap="round"/>
<circle cx="137.67" cy="364.00" r="1.08" fill="#111"/>
<polygon points="154.02,364.96 149.70,366.53 146.18,363.57 146.98,359.04 151.30,357.47 154.82,360.43" fill="#888" stroke="#111" stroke-width="0.9"/>
<path d="M149.51 358.17l4.93 4.14M148.03 359.93l4.93 4.14M146.55 361.69l4.93 4.14" stroke="#111" stroke-width="0.8"/>
<path d="M154.38 365.25l3.75 -1.75M154.38 365.25l4.12 0.36M154.38 365.25l3.59 2.07M154.38 365.25l2.37 3.39M154.38 365.25l0.72 4.08M154.38 365.25l-1.07 4.00" stroke="#111" stroke-width="0.9" stroke-linecap="round"/>
<circle cx="154.38" cy="365.25" r="1.24" fill="#111"/>
<polygon points="183.70,374.30 187.16,376.30 187.16,380.30 183.70,382.30 180.24,380.30 180.24,376.30" fill="#888" stroke="#111" stroke-width="0.9"/>
<path d="M181.70 381.10l-0.00 -5.60M183.70 381.10l-0.00 -5.60M185.70 381.10l-0.00 -5.60" stroke="#111" stroke-width="0.8"/>
<path d="M183.70 373.90l-3.26 -1.52M183.70 373.90l-2.06 -2.95M183.70 373.90l-0.63 -3.55M183.70 373.90l0.93 -3.48M183.70 373.90l2.31 -2.76M183.70 373.90l3.26 -1.52" stroke="#111" stroke-width="0.9" stroke-linecap="round"/>
<circle cx="183.70" cy="373.90" r="1.08" fill="#111"/>
<polygon points="172.60,389.00 174.80,385.19 179.20,385.19 181.40,389.00 179.20,392.81 174.80,392.81" fill="#888" stroke="#111" stroke-width="0.9"/>
<path d="M180.08 391.20l-6.16 0.00M180.08 389.00l-6.16 0.00M180.08 386.80l-6.16 0.00" stroke="#111" stroke-width="0.8"/>
<path d="M172.16 389.00l-1.67 3.59M172.16 389.00l-3.24 2.27M172.16 389.00l-3.90 0.69M172.16 389.00l-3.83 -1.02M172.16 389.00l-3.03 -2.55M172.16 389.00l-1.67 -3.59" stroke="#111" stroke-width="0.9" stroke-linecap="round"/>
<circle cx="172.16" cy="389.00" r="1.19" fill="#111"/>
<polygon points="145.37,395.70 146.13,391.37 150.26,389.87 153.63,392.70 152.87,397.03 148.74,398.53" fill="#888" stroke="#111" stroke-width="0.9"/>
<path d="M153.15 395.21l-5.79 2.11M152.39 393.15l-5.79 2.11M151.64 391.08l-5.79 2.11" stroke="#111" stroke-width="0.8"/>
<path d="M144.95 395.86l-0.35 3.94M144.95 395.86l-2.27 3.24M144.95 395.86l-3.43 1.98M144.95 395.86l-3.94 0.35M144.95 395.86l-3.72 -1.35M144.95 395.86l-2.80 -2.80" stroke="#111" stroke-width="0.9" stroke-linecap="round"/>
<circle cx="144.95" cy="395.86" r="1.19" fill="#111"/>
<circle cx="171.4" cy="357.4" r="3.6" fill="none" stroke="#111" stroke-width="1"/>
<path d="M168.90 361.30l0.96 2.63M168.90 361.30l-0.49 2.76M168.90 361.30l-1.61 2.29M168.90 361.30l-2.42 1.40M168.90 361.30l-2.79 0.24M168.90 361.30l-2.63 -0.96" stroke="#111" stroke-width="0.9" stroke-linecap="round"/>
<circle cx="168.90" cy="361.30" r="0.84" fill="#111"/>
<circle cx="144.9" cy="376.3" r="3.6" fill="none" stroke="#111" stroke-width="1"/>
<path d="M146.90 380.60l2.79 0.24M146.90 380.60l2.29 1.61M146.90 380.60l1.40 2.42M146.90 380.60l0.24 2.79M146.90 380.60l-0.96 2.63M146.90 380.60l-1.98 1.98" stroke="#111" stroke-width="0.9" stroke-linecap="round"/>
<circle cx="146.90" cy="380.60" r="0.84" fill="#111"/>
<path d="M161.70 354.30l3.19 -0.28M161.70 354.30l2.90 1.35M161.70 354.30l2.06 2.45M161.70 354.30l0.83 3.09M161.70 354.30l-0.56 3.15M161.70 354.30l-1.84 2.62" stroke="#111" stroke-width="0.9" stroke-linecap="round"/>
<circle cx="161.70" cy="354.30" r="0.96" fill="#111"/>
<path d="M166.80 399.30l-2.47 2.47M166.80 399.30l-3.38 0.91M166.80 399.30l-3.45 -0.61M166.80 399.30l-2.87 -2.01M166.80 399.30l-1.75 -3.03M166.80 399.30l-0.31 -3.49" stroke="#111" stroke-width="0.9" stroke-linecap="round"/>
<circle cx="166.80" cy="399.30" r="1.05" fill="#111"/>
<path d="M162.50 380.25L162.50 368.62A0.88 0.88 0 0 1 164.25 368.62L164.25 379.38A0.88 0.88 0 0 0 166.00 379.38L166.00 368.62A0.88 0.88 0 0 1 167.75 368.62L167.75 379.38A0.88 0.88 0 0 0 169.50 379.38L169.50 368.62" fill="none" stroke="#222" stroke-width="0.9" transform="rotate(20 166.0 374.0)"/>
<path d="M174.55 374.70L174.55 364.62A0.92 0.92 0 0 1 176.38 364.62L176.38 373.78A0.92 0.92 0 0 0 178.22 373.78L178.22 364.62A0.92 0.92 0 0 1 180.05 364.62L180.05 373.78" fill="none" stroke="#222" stroke-width="0.9" transform="rotate(45 177.3 369.2)"/>
<path d="M154.25 391.75L154.25 381.17A0.92 0.92 0 0 1 156.08 381.17L156.08 390.83A0.92 0.92 0 0 0 157.92 390.83L157.92 381.17A0.92 0.92 0 0 1 159.75 381.17L159.75 390.83" fill="none" stroke="#222" stroke-width="0.9" transform="rotate(-45 157.0 386.0)"/>
<rect x="154.6" y="374.7" width="3" height="1.2" fill="#111" transform="rotate(0 156.1 375.3)"/>
<rect x="137.7" y="386.4" width="3" height="1.2" fill="#111" transform="rotate(50 139.2 387)"/>
<rect x="164.3" y="392.0" width="3" height="1.2" fill="#111" transform="rotate(0 165.8 392.6)"/>
<rect x="152.5" y="351.2" width="3" height="1.2" fill="#111" transform="rotate(80 154 351.8)"/>
<path d="M108 374.3H120V371.6L125.4 375.7L120 379.8V377.1H108Z" fill="#444"/>
<path d="M19.8 425.90H50.59A2.11 2.11 0 0 1 50.59 430.12H21.91A2.11 2.11 0 0 0 21.91 434.34H50.59A2.11 2.11 0 0 1 50.59 438.56H21.91A2.11 2.11 0 0 0 21.91 442.78H50.59A2.11 2.11 0 0 1 50.59 447.00H21.91H19.8" fill="none" stroke="#111" stroke-width="1.6"/>
<text x="34.70" y="457.90" font-size="9.7" text-anchor="middle" fill="#000">T7 genome</text>
<line x1="37.7" y1="463.4" x2="61.36" y2="487.15" stroke="#111" stroke-width="0.9"/>
<path d="M63.90 489.70L59.80 488.70L62.92 485.60Z" fill="#111"/>
<rect x="66.20" y="434.80" width="23.60" height="4.0" fill="#fff" stroke="#222" stroke-width="0.7"/>
<line x1="66.20" y1="438.80" x2="89.80" y2="438.80" stroke="#111" stroke-width="1.4"/>
<path d="M66.00 436.70c-2.4 -0.6 -5 0.6 -4.6 2.2c0.3 1.4 2.4 1.9 3.9 1.5" fill="none" stroke="#1c3340" stroke-width="1.3"/>
<clipPath id="tc1"><path d="M67.60 439.20C66.80 483.20 72.80 500.00 78.00 509.00C83.20 500.00 89.20 483.20 88.40 439.20Z"/></clipPath>
<rect x="65.4" y="493.2" width="25.19999999999999" height="17.80000000000001" fill="#d8f06a" clip-path="url(#tc1)"/>
<path d="M67.60 439.20C66.80 483.20 72.80 500.00 78.00 509.00C83.20 500.00 89.20 483.20 88.40 439.20" fill="none" stroke="#2c3c46" stroke-width="0.85"/>
<circle cx="76.2" cy="497.4" r="1.15" fill="#222"/>
<circle cx="79.4" cy="496.5" r="1.15" fill="#222"/>
<circle cx="78.2" cy="500.4" r="1.15" fill="#222"/>
<circle cx="80.2" cy="499.2" r="1.15" fill="#222"/>
<rect x="143.10" y="434.20" width="23.30" height="4.0" fill="#fff" stroke="#222" stroke-width="0.7"/>
<line x1="143.10" y1="438.20" x2="166.40" y2="438.20" stroke="#111" stroke-width="1.4"/>
<path d="M142.90 436.10c-2.4 -0.6 -5 0.6 -4.6 2.2c0.3 1.4 2.4 1.9 3.9 1.5" fill="none" stroke="#1c3340" stroke-width="1.3"/>
<clipPath id="tc2"><path d="M144.50 438.60C143.70 482.60 149.55 498.60 154.75 507.60C159.95 498.60 165.80 482.60 165.00 438.60Z"/></clipPath>
<rect x="142.3" y="491.8" width="24.899999999999977" height="17.80000000000001" fill="#d8f06a" clip-path="url(#tc2)"/>
<path d="M144.50 438.60C143.70 482.60 149.55 498.60 154.75 507.60C159.95 498.60 165.80 482.60 165.00 438.60" fill="none" stroke="#2c3c46" stroke-width="0.85"/>
<circle cx="152.9" cy="496.0" r="1.15" fill="#222"/>
<circle cx="156.2" cy="495.1" r="1.15" fill="#222"/>
<circle cx="154.9" cy="499.0" r="1.15" fill="#222"/>
<circle cx="156.9" cy="497.8" r="1.15" fill="#222"/>
<text x="77.00" y="518.00" font-size="9.58" text-anchor="middle" fill="#000">bulk reaction</text>
<text x="114.80" y="460.00" font-size="9.48" text-anchor="middle" fill="#000">incubation</text>
<path d="M108 465.4H119.5V462.8L125 467L119.5 471.2V468.6H108Z" fill="#444"/>
<text x="154.00" y="517.20" font-size="9.43" text-anchor="middle" fill="#000">PFU per</text>
<text x="154.00" y="527.70" font-size="9.41" text-anchor="middle" fill="#000">10 µL reaction</text>
<text x="0" y="0" font-size="15.8" font-weight="bold" stroke="#000" stroke-width="0.35" transform="translate(224.20 323.4) scale(0.867 1)">D</text>
<path d="M259.4 329V515.3H483" stroke="#222" stroke-width="1" fill="none"/>
<path d="M257.0 512.10H259.4M257.0 507.97H259.4M257.0 505.04H259.4M257.0 502.77H259.4M257.0 500.91H259.4M257.0 499.34H259.4M257.0 497.97H259.4M257.0 496.77H259.4M257.0 488.63H259.4M257.0 484.50H259.4M257.0 481.57H259.4M257.0 479.30H259.4M257.0 477.44H259.4M257.0 475.87H259.4M257.0 474.50H259.4M257.0 473.30H259.4M257.0 465.16H259.4M257.0 461.03H259.4M257.0 458.10H259.4M257.0 455.83H259.4M257.0 453.97H259.4M257.0 452.40H259.4M257.0 451.03H259.4M257.0 449.83H259.4M257.0 441.69H259.4M257.0 437.56H259.4M257.0 434.63H259.4M257.0 432.36H259.4M257.0 430.50H259.4M257.0 428.93H259.4M257.0 427.56H259.4M257.0 426.36H259.4M257.0 418.22H259.4M257.0 414.09H259.4M257.0 411.16H259.4M257.0 408.89H259.4M257.0 407.03H259.4M257.0 405.46H259.4M257.0 404.09H259.4M257.0 402.89H259.4M257.0 394.75H259.4M257.0 390.62H259.4M257.0 387.69H259.4M257.0 385.42H259.4M257.0 383.56H259.4M257.0 381.99H259.4M257.0 380.62H259.4M257.0 379.42H259.4M257.0 371.28H259.4M257.0 367.15H259.4M257.0 364.22H259.4M257.0 361.95H259.4M257.0 360.09H259.4M257.0 358.52H259.4M257.0 357.15H259.4M257.0 355.95H259.4M257.0 347.81H259.4M257.0 343.68H259.4M257.0 340.75H259.4M257.0 338.48H259.4M257.0 336.62H259.4M257.0 335.05H259.4M257.0 333.68H259.4M257.0 332.48H259.4" stroke="#222" stroke-width="0.6"/>
<line x1="255.2" y1="495.70" x2="259.4" y2="495.70" stroke="#222" stroke-width="1"/>
<text x="254.39999999999998" y="499.30" font-size="9.4" text-anchor="end">10<tspan font-size="6.7" dx="1.6" dy="-2.9">-2</tspan></text>
<line x1="255.2" y1="472.23" x2="259.4" y2="472.23" stroke="#222" stroke-width="1"/>
<text x="254.39999999999998" y="475.83" font-size="9.4" text-anchor="end">10<tspan font-size="6.7" dx="1.6" dy="-2.9">-1</tspan></text>
<line x1="255.2" y1="448.76" x2="259.4" y2="448.76" stroke="#222" stroke-width="1"/>
<text x="254.39999999999998" y="452.36" font-size="9.4" text-anchor="end">10<tspan font-size="6.7" dx="1.6" dy="-2.9">0</tspan></text>
<line x1="255.2" y1="425.29" x2="259.4" y2="425.29" stroke="#222" stroke-width="1"/>
<text x="254.39999999999998" y="428.89" font-size="9.4" text-anchor="end">10<tspan font-size="6.7" dx="1.6" dy="-2.9">1</tspan></text>
<line x1="255.2" y1="401.82" x2="259.4" y2="401.82" stroke="#222" stroke-width="1"/>
<text x="254.39999999999998" y="405.42" font-size="9.4" text-anchor="end">10<tspan font-size="6.7" dx="1.6" dy="-2.9">2</tspan></text>
<line x1="255.2" y1="378.35" x2="259.4" y2="378.35" stroke="#222" stroke-width="1"/>
<text x="254.39999999999998" y="381.95" font-size="9.4" text-anchor="end">10<tspan font-size="6.7" dx="1.6" dy="-2.9">3</tspan></text>
<line x1="255.2" y1="354.88" x2="259.4" y2="354.88" stroke="#222" stroke-width="1"/>
<text x="254.39999999999998" y="358.48" font-size="9.4" text-anchor="end">10<tspan font-size="6.7" dx="1.6" dy="-2.9">4</tspan></text>
<line x1="255.2" y1="331.41" x2="259.4" y2="331.41" stroke="#222" stroke-width="1"/>
<text x="254.39999999999998" y="335.01" font-size="9.4" text-anchor="end">10<tspan font-size="6.7" dx="1.6" dy="-2.9">5</tspan></text>
<rect x="270.30" y="412.52" width="26.3" height="102.78" fill="#a6a6a6" stroke="#333" stroke-width="0.8"/>
<rect x="296.60" y="500.91" width="26.3" height="14.39" fill="#b1e4f1" stroke="#333" stroke-width="0.8"/>
<line x1="296.6" y1="515.3" x2="296.6" y2="518.3" stroke="#222"/>
<rect x="346.10" y="394.75" width="26.3" height="120.55" fill="#a6a6a6" stroke="#333" stroke-width="0.8"/>
<rect x="372.40" y="345.54" width="26.3" height="169.76" fill="#b1e4f1" stroke="#333" stroke-width="0.8"/>
<line x1="372.4" y1="515.3" x2="372.4" y2="518.3" stroke="#222"/>
<rect x="421.40" y="373.56" width="26.3" height="141.74" fill="#a6a6a6" stroke="#333" stroke-width="0.8"/>
<rect x="447.70" y="353.91" width="26.3" height="161.39" fill="#b1e4f1" stroke="#333" stroke-width="0.8"/>
<line x1="447.7" y1="515.3" x2="447.7" y2="518.3" stroke="#222"/>
<text x="296.60" y="528.80" font-size="10" text-anchor="middle" fill="#000">0.01</text>
<text x="372.40" y="528.80" font-size="10" text-anchor="middle" fill="#000">0.1</text>
<text x="447.70" y="528.80" font-size="10" text-anchor="middle" fill="#000">1</text>
<path d="M283.5 408.0V417.0M281.0 408.0H286.0M281.0 417.0H286.0" stroke="#111" stroke-width="0.9" fill="none"/>
<circle cx="272.5" cy="413.5" r="1.9" fill="#111"/>
<circle cx="280.0" cy="408.5" r="1.9" fill="#111"/>
<circle cx="287.5" cy="416.5" r="1.9" fill="#111"/>
<circle cx="294.5" cy="411.0" r="1.9" fill="#111"/>
<path d="M310 497.5V511.0M307.5 497.5H312.5M307.5 511.0H312.5" stroke="#111" stroke-width="0.9" fill="none"/>
<circle cx="299.0" cy="497.0" r="1.9" fill="#111"/>
<circle cx="310.0" cy="503.5" r="1.9" fill="#111"/>
<circle cx="321.5" cy="510.0" r="1.9" fill="#111"/>
<path d="M359 391.0V400.5M356.5 391.0H361.5M356.5 400.5H361.5" stroke="#111" stroke-width="0.9" fill="none"/>
<circle cx="348.0" cy="399.0" r="1.9" fill="#111"/>
<circle cx="354.0" cy="393.0" r="1.9" fill="#111"/>
<circle cx="363.0" cy="400.0" r="1.9" fill="#111"/>
<circle cx="370.0" cy="389.5" r="1.9" fill="#111"/>
<path d="M386 339.3V365.3M383.5 339.3H388.5M383.5 365.3H388.5" stroke="#111" stroke-width="0.9" fill="none"/>
<circle cx="374.0" cy="338.5" r="1.9" fill="#111"/>
<circle cx="386.0" cy="361.0" r="1.9" fill="#111"/>
<circle cx="397.5" cy="346.0" r="1.9" fill="#111"/>
<path d="M435 371.0V379.0M432.5 371.0H437.5M432.5 379.0H437.5" stroke="#111" stroke-width="0.9" fill="none"/>
<circle cx="423.0" cy="370.0" r="1.9" fill="#111"/>
<circle cx="431.0" cy="376.0" r="1.9" fill="#111"/>
<circle cx="439.0" cy="377.0" r="1.9" fill="#111"/>
<circle cx="446.0" cy="374.5" r="1.9" fill="#111"/>
<path d="M461 348.5V371.5M458.5 348.5H463.5M458.5 371.5H463.5" stroke="#111" stroke-width="0.9" fill="none"/>
<circle cx="450.0" cy="349.5" r="1.9" fill="#111"/>
<circle cx="461.0" cy="363.0" r="1.9" fill="#111"/>
<circle cx="473.0" cy="355.5" r="1.9" fill="#111"/>
<rect x="267" y="331" width="29.5" height="9.9" fill="#a6a6a6" stroke="#333" stroke-width="0.8"/>
<rect x="267" y="346.3" width="29.5" height="10" fill="#b1e4f1" stroke="#333" stroke-width="0.8"/>
<text x="299.60" y="340.00" font-size="11.2" text-anchor="start" fill="#000">in liposome</text>
<text x="299.60" y="355.50" font-size="11.2" text-anchor="start" fill="#000">bulk</text>
<text x="374.30" y="541.80" font-size="12.45" text-anchor="middle" fill="#000">Genome Concentration (nM)</text>
<text x="232.40" y="421.30" font-size="12.45" text-anchor="middle" fill="#000" transform="rotate(-90 232.4 421.3)">PFU Per Nanoliter</text>
<text x="0" y="0" font-size="15.8" font-weight="bold" stroke="#000" stroke-width="0.35" transform="translate(505.10 323.4) scale(0.815 1)">E</text>
<path d="M538.3 330V515.2H678.5" stroke="#222" stroke-width="1" fill="none"/>
<line x1="535.3" y1="515.20" x2="538.3" y2="515.20" stroke="#222" stroke-width="1"/>
<text x="534.40" y="518.60" font-size="9.4" text-anchor="end" fill="#000">0.0</text>
<line x1="535.3" y1="491.35" x2="538.3" y2="491.35" stroke="#222" stroke-width="1"/>
<text x="534.40" y="494.75" font-size="9.4" text-anchor="end" fill="#000">0.1</text>
<line x1="535.3" y1="467.50" x2="538.3" y2="467.50" stroke="#222" stroke-width="1"/>
<text x="534.40" y="470.90" font-size="9.4" text-anchor="end" fill="#000">0.2</text>
<line x1="535.3" y1="443.65" x2="538.3" y2="443.65" stroke="#222" stroke-width="1"/>
<text x="534.40" y="447.05" font-size="9.4" text-anchor="end" fill="#000">0.3</text>
<line x1="535.3" y1="419.80" x2="538.3" y2="419.80" stroke="#222" stroke-width="1"/>
<text x="534.40" y="423.20" font-size="9.4" text-anchor="end" fill="#000">0.4</text>
<line x1="535.3" y1="395.95" x2="538.3" y2="395.95" stroke="#222" stroke-width="1"/>
<text x="534.40" y="399.35" font-size="9.4" text-anchor="end" fill="#000">0.5</text>
<line x1="535.3" y1="372.10" x2="538.3" y2="372.10" stroke="#222" stroke-width="1"/>
<text x="534.40" y="375.50" font-size="9.4" text-anchor="end" fill="#000">0.6</text>
<line x1="535.3" y1="348.25" x2="538.3" y2="348.25" stroke="#222" stroke-width="1"/>
<text x="534.40" y="351.65" font-size="9.4" text-anchor="end" fill="#000">0.7</text>
<rect x="544.70" y="508.05" width="26.5" height="7.15" fill="#e8737a" stroke="#333" stroke-width="0.8"/>
<rect x="571.20" y="388.32" width="26.5" height="126.88" fill="#7f7f7f" stroke="#333" stroke-width="0.8"/>
<line x1="571.2" y1="515.2" x2="571.2" y2="518.7" stroke="#222"/>
<rect x="618.80" y="496.12" width="26.5" height="19.08" fill="#e8737a" stroke="#333" stroke-width="0.8"/>
<rect x="645.30" y="482.05" width="26.5" height="33.15" fill="#7f7f7f" stroke="#333" stroke-width="0.8"/>
<line x1="645.3" y1="515.2" x2="645.3" y2="518.7" stroke="#222"/>
<path d="M558 504.5V511.4M555.5 504.5H560.5M555.5 511.4H560.5" stroke="#222" stroke-width="0.8" fill="none"/>
<circle cx="550.5" cy="512.3" r="1.9" fill="#111"/>
<circle cx="558.0" cy="504.2" r="1.9" fill="#111"/>
<circle cx="565.0" cy="507.3" r="1.9" fill="#111"/>
<path d="M584.5 338.7V437.7M582.0 338.7H587.0M582.0 437.7H587.0" stroke="#222" stroke-width="0.8" fill="none"/>
<circle cx="576.4" cy="358.8" r="1.9" fill="#111"/>
<circle cx="584.6" cy="360.6" r="1.9" fill="#111"/>
<circle cx="591.5" cy="446.0" r="1.9" fill="#111"/>
<path d="M632.5 484.4V508.0M630.0 484.4H635.0M630.0 508.0H635.0" stroke="#222" stroke-width="0.8" fill="none"/>
<circle cx="624.5" cy="483.0" r="1.9" fill="#111"/>
<circle cx="632.5" cy="500.9" r="1.9" fill="#111"/>
<circle cx="640.0" cy="507.3" r="1.9" fill="#111"/>
<path d="M659 473.2V491.4M656.5 473.2H661.5M656.5 491.4H661.5" stroke="#222" stroke-width="0.8" fill="none"/>
<circle cx="652.0" cy="473.0" r="1.9" fill="#111"/>
<circle cx="659.0" cy="487.1" r="1.9" fill="#111"/>
<circle cx="667.0" cy="489.4" r="1.9" fill="#111"/>
<rect x="603.4" y="339.2" width="27.6" height="10.4" fill="#e8737a" stroke="#333" stroke-width="0.8"/>
<rect x="603.4" y="354.3" width="27.6" height="10.7" fill="#7f7f7f" stroke="#333" stroke-width="0.8"/>
<text x="633.80" y="348.20" font-size="9.8" text-anchor="start" fill="#000">T7-mC-S*</text>
<text x="633.80" y="363.60" font-size="9.8" text-anchor="start" fill="#000">T7 WT</text>
<text x="571.20" y="532.50" font-size="12.36" text-anchor="middle" fill="#000">+ RdLPS</text>
<text x="645.30" y="532.50" font-size="12.36" text-anchor="middle" fill="#000">- RdLPS</text>
<text x="513.80" y="424.55" font-size="12.45" text-anchor="middle" fill="#000" transform="rotate(-90 513.8 424.55)">PFU Per Liposome</text>
<text x="0" y="0" font-size="15.8" font-weight="bold" stroke="#000" stroke-width="0.35" transform="translate(2.30 555.7) scale(0.840 1)">F</text>
<defs><filter id="b1" x="-50%" y="-50%" width="200%" height="200%"><feGaussianBlur stdDeviation="0.7"/></filter><filter id="b2" x="-50%" y="-50%" width="200%" height="200%"><feGaussianBlur stdDeviation="1.6"/></filter><filter id="b3" x="-50%" y="-50%" width="200%" height="200%"><feGaussianBlur stdDeviation="2.6"/></filter><filter id="b4" x="-50%" y="-50%" width="200%" height="200%"><feGaussianBlur stdDeviation="4"/></filter><filter id="b15" x="-50%" y="-50%" width="200%" height="200%"><feGaussianBlur stdDeviation="1.3"/></filter></defs>
<rect x="7" y="562.2" width="673.6" height="88.59999999999991" fill="#a8a8a8"/>
<clipPath id="fc0"><rect x="7" y="562.2" width="82.75" height="88.59999999999991"/></clipPath>
<g clip-path="url(#fc0)"><rect x="7" y="562.2" width="82.75" height="88.59999999999991" fill="#010201"/>
<circle cx="48.2" cy="609" r="27" fill="#020602" filter="url(#b3)"/>
</g>
<text x="11.40" y="574.30" font-size="12.3" text-anchor="start" fill="#fff" font-weight="bold">01:00</text>
<rect x="60.75" y="564.4" width="27.8" height="3.4" fill="#fff"/>
<clipPath id="fc1"><rect x="91.25" y="562.2" width="83.4" height="88.59999999999991"/></clipPath>
<g clip-path="url(#fc1)"><rect x="91.25" y="562.2" width="83.4" height="88.59999999999991" fill="#010201"/>
<circle cx="126" cy="614.1" r="26.7" fill="#061306" filter="url(#b3)"/>
<ellipse cx="123.5" cy="601.2" rx="4.95" ry="2.75" fill="#46ff0a" opacity="0.68" filter="url(#b15)"/>
<ellipse cx="126" cy="599.5" rx="2.20" ry="1.65" fill="#46ff0a" opacity="0.77" filter="url(#b15)"/>
<ellipse cx="131" cy="597.5" rx="2.75" ry="1.87" fill="#46ff0a" opacity="0.51" filter="url(#b15)"/>
<ellipse cx="112" cy="603" rx="2.20" ry="1.65" fill="#46ff0a" opacity="0.51" filter="url(#b15)"/>
<ellipse cx="109.5" cy="596" rx="1.76" ry="1.43" fill="#46ff0a" opacity="0.42" filter="url(#b15)"/>
<ellipse cx="102.4" cy="609.2" rx="1.98" ry="1.54" fill="#46ff0a" opacity="0.59" filter="url(#b15)"/>
<ellipse cx="138.6" cy="603.2" rx="2.20" ry="1.43" fill="#46ff0a" opacity="0.51" filter="url(#b15)"/>
<ellipse cx="140.5" cy="611.5" rx="1.98" ry="1.54" fill="#46ff0a" opacity="0.42" filter="url(#b15)"/>
<ellipse cx="124" cy="611.5" rx="1.65" ry="1.65" fill="#46ff0a" opacity="0.42" filter="url(#b15)"/>
<ellipse cx="113" cy="599" rx="1.32" ry="1.32" fill="#46ff0a" opacity="0.34" filter="url(#b15)"/>
</g>
<text x="96.80" y="574.30" font-size="12.3" text-anchor="start" fill="#fff" font-weight="bold">05:00</text>
<rect x="145.65" y="564.4" width="27.8" height="3.4" fill="#fff"/>
<clipPath id="fc2"><rect x="176.15" y="562.2" width="82.6" height="88.59999999999991"/></clipPath>
<g clip-path="url(#fc2)"><rect x="176.15" y="562.2" width="82.6" height="88.59999999999991" fill="#010201"/>
<circle cx="211.4" cy="614.1" r="31.2" fill="#11400d" opacity="0.45" filter="url(#b4)"/>
<circle cx="211.4" cy="614.1" r="28.2" fill="#11400d" filter="url(#b15)"/>
<g filter="url(#b1)"><circle cx="191.56" cy="620.64" r="1.15" fill="#3fd020" opacity="0.33"/><circle cx="217.48" cy="607.58" r="1.56" fill="#3fd020" opacity="0.29"/><circle cx="218.15" cy="615.21" r="1.79" fill="#3fd020" opacity="0.33"/><circle cx="204.47" cy="598.69" r="1.12" fill="#3fd020" opacity="0.35"/><circle cx="222.10" cy="620.27" r="1.40" fill="#3fd020" opacity="0.28"/><circle cx="195.72" cy="615.82" r="1.13" fill="#3fd020" opacity="0.31"/><circle cx="193.52" cy="595.02" r="1.02" fill="#46f018" opacity="0.33"/><circle cx="198.35" cy="636.83" r="1.15" fill="#46f018" opacity="0.52"/><circle cx="188.57" cy="624.66" r="1.35" fill="#46f018" opacity="0.35"/><circle cx="218.24" cy="639.02" r="1.22" fill="#46f018" opacity="0.43"/><circle cx="187.76" cy="605.07" r="1.23" fill="#46f018" opacity="0.57"/></g>
<polygon points="203.50,598.41 206.64,595.90 211.66,595.65 215.43,596.53 219.20,594.89 221.71,598.41 225.48,602.80 223.59,605.31 217.94,607.20 211.66,607.83 209.15,608.45 207.65,611.59 206.02,610.34 205.39,605.94 203.13,603.43" fill="#3acc10" stroke="#3acc10" stroke-width="3" stroke-linejoin="round" filter="url(#b2)" opacity="0.7"/>
<polygon points="203.50,598.41 206.64,595.90 211.66,595.65 215.43,596.53 219.20,594.89 221.71,598.41 225.48,602.80 223.59,605.31 217.94,607.20 211.66,607.83 209.15,608.45 207.65,611.59 206.02,610.34 205.39,605.94 203.13,603.43" fill="#46ff0a" stroke="#46ff0a" stroke-width="1.8" stroke-linejoin="round" filter="url(#b1)"/>
<polygon points="192.20,602.18 195.97,600.29 199.11,602.18 201.62,605.31 197.23,608.45 194.09,611.59 190.95,610.34 191.58,605.94" fill="#3acc10" stroke="#3acc10" stroke-width="3" stroke-linejoin="round" filter="url(#b2)" opacity="0.7"/>
<polygon points="192.20,602.18 195.97,600.29 199.11,602.18 201.62,605.31 197.23,608.45 194.09,611.59 190.95,610.34 191.58,605.94" fill="#46ff0a" stroke="#46ff0a" stroke-width="1.8" stroke-linejoin="round" filter="url(#b1)"/>
<circle cx="207.27" cy="586.48" r="1.3" fill="#46ff0a" opacity="0.45" filter="url(#b1)"/>
<circle cx="185.30" cy="607.83" r="1.3" fill="#46ff0a" opacity="0.45" filter="url(#b1)"/>
<circle cx="229.87" cy="619.75" r="1.3" fill="#46ff0a" opacity="0.45" filter="url(#b1)"/>
<circle cx="237.40" cy="621.64" r="1.3" fill="#46ff0a" opacity="0.45" filter="url(#b1)"/>
<circle cx="205.39" cy="629.80" r="1.3" fill="#46ff0a" opacity="0.45" filter="url(#b1)"/>
<circle cx="204.13" cy="639.84" r="1.3" fill="#46ff0a" opacity="0.45" filter="url(#b1)"/>
<circle cx="211.66" cy="636.07" r="1.3" fill="#46ff0a" opacity="0.45" filter="url(#b1)"/>
<circle cx="226.73" cy="637.33" r="1.3" fill="#46ff0a" opacity="0.45" filter="url(#b1)"/>
<circle cx="192.83" cy="599.66" r="1.3" fill="#46ff0a" opacity="0.45" filter="url(#b1)"/>
</g>
<text x="179.00" y="574.30" font-size="12.3" text-anchor="start" fill="#fff" font-weight="bold">06:45</text>
<rect x="229.75" y="564.4" width="27.8" height="3.4" fill="#fff"/>
<clipPath id="fc3"><rect x="260.25" y="562.2" width="83.19999999999999" height="88.59999999999991"/></clipPath>
<g clip-path="url(#fc3)"><rect x="260.25" y="562.2" width="83.19999999999999" height="88.59999999999991" fill="#010201"/>
<circle cx="296" cy="613.5" r="31.4" fill="#144a10" opacity="0.45" filter="url(#b4)"/>
<circle cx="296" cy="613.5" r="28.4" fill="#144a10" filter="url(#b15)"/>
<g filter="url(#b1)"><circle cx="308.43" cy="626.84" r="1.19" fill="#3fd020" opacity="0.17"/><circle cx="301.84" cy="592.03" r="1.34" fill="#3fd020" opacity="0.37"/><circle cx="274.85" cy="614.83" r="1.17" fill="#3fd020" opacity="0.25"/><circle cx="309.24" cy="626.17" r="1.37" fill="#3fd020" opacity="0.35"/><circle cx="300.12" cy="632.07" r="1.22" fill="#3fd020" opacity="0.24"/><circle cx="302.72" cy="612.06" r="1.23" fill="#3fd020" opacity="0.22"/><circle cx="297.62" cy="625.34" r="1.27" fill="#3fd020" opacity="0.27"/><circle cx="275.87" cy="608.96" r="1.23" fill="#3fd020" opacity="0.17"/><circle cx="313.77" cy="624.84" r="1.08" fill="#3fd020" opacity="0.27"/><circle cx="299.60" cy="628.94" r="1.64" fill="#3fd020" opacity="0.22"/><circle cx="298.84" cy="619.01" r="1.35" fill="#3fd020" opacity="0.35"/><circle cx="292.83" cy="627.67" r="1.06" fill="#3fd020" opacity="0.26"/><circle cx="317.17" cy="615.97" r="1.51" fill="#3fd020" opacity="0.31"/><circle cx="280.61" cy="607.04" r="1.52" fill="#3fd020" opacity="0.31"/><circle cx="289.19" cy="612.22" r="1.30" fill="#3fd020" opacity="0.29"/><circle cx="306.00" cy="603.72" r="1.62" fill="#3fd020" opacity="0.36"/><circle cx="277.93" cy="605.74" r="1.74" fill="#3fd020" opacity="0.16"/><circle cx="302.50" cy="634.59" r="1.85" fill="#3fd020" opacity="0.32"/><circle cx="281.83" cy="634.20" r="1.22" fill="#46f018" opacity="0.32"/><circle cx="322.69" cy="618.27" r="1.21" fill="#46f018" opacity="0.35"/><circle cx="273.53" cy="624.29" r="1.33" fill="#46f018" opacity="0.39"/><circle cx="291.74" cy="587.24" r="1.06" fill="#46f018" opacity="0.38"/><circle cx="270.89" cy="610.15" r="1.20" fill="#46f018" opacity="0.40"/><circle cx="303.01" cy="589.08" r="0.97" fill="#46f018" opacity="0.53"/><circle cx="316.84" cy="597.34" r="1.17" fill="#46f018" opacity="0.56"/><circle cx="317.85" cy="603.85" r="1.14" fill="#46f018" opacity="0.31"/><circle cx="283.60" cy="634.92" r="1.13" fill="#46f018" opacity="0.50"/><circle cx="311.92" cy="594.46" r="0.91" fill="#46f018" opacity="0.60"/><circle cx="301.19" cy="588.14" r="0.96" fill="#46f018" opacity="0.32"/><circle cx="319.63" cy="603.12" r="1.33" fill="#46f018" opacity="0.54"/><circle cx="296.19" cy="586.67" r="1.03" fill="#46f018" opacity="0.37"/><circle cx="271.59" cy="624.30" r="1.30" fill="#46f018" opacity="0.53"/><circle cx="273.52" cy="601.22" r="1.00" fill="#46f018" opacity="0.50"/><circle cx="281.34" cy="592.32" r="1.26" fill="#46f018" opacity="0.59"/><circle cx="318.74" cy="605.08" r="1.04" fill="#46f018" opacity="0.48"/><circle cx="286.79" cy="590.36" r="1.37" fill="#46f018" opacity="0.44"/><circle cx="298.30" cy="589.56" r="1.04" fill="#46f018" opacity="0.31"/><circle cx="302.58" cy="588.57" r="1.38" fill="#46f018" opacity="0.48"/></g>
<polygon points="287.25,597.15 291.64,594.89 296.66,594.89 302.31,594.39 306.08,597.15 309.85,602.18 307.96,605.31 302.94,606.57 296.66,607.20 293.53,609.08 292.27,611.59 290.39,610.34 289.76,606.57 286.87,602.18" fill="#3acc10" stroke="#3acc10" stroke-width="3" stroke-linejoin="round" filter="url(#b2)" opacity="0.7"/>
<polygon points="287.25,597.15 291.64,594.89 296.66,594.89 302.31,594.39 306.08,597.15 309.85,602.18 307.96,605.31 302.94,606.57 296.66,607.20 293.53,609.08 292.27,611.59 290.39,610.34 289.76,606.57 286.87,602.18" fill="#46ff0a" stroke="#46ff0a" stroke-width="1.8" stroke-linejoin="round" filter="url(#b1)"/>
<polygon points="276.58,600.92 281.60,599.66 285.99,602.80 285.37,605.94 281.60,608.45 277.83,611.59 275.07,609.71 275.32,604.69" fill="#3acc10" stroke="#3acc10" stroke-width="3" stroke-linejoin="round" filter="url(#b2)" opacity="0.7"/>
<polygon points="276.58,600.92 281.60,599.66 285.99,602.80 285.37,605.94 281.60,608.45 277.83,611.59 275.07,609.71 275.32,604.69" fill="#46ff0a" stroke="#46ff0a" stroke-width="1.8" stroke-linejoin="round" filter="url(#b1)"/>
<circle cx="283.48" cy="595.27" r="1.3" fill="#46ff0a" opacity="0.45" filter="url(#b1)"/>
<circle cx="285.99" cy="592.76" r="1.3" fill="#46ff0a" opacity="0.45" filter="url(#b1)"/>
<circle cx="271.55" cy="600.29" r="1.3" fill="#46ff0a" opacity="0.45" filter="url(#b1)"/>
<circle cx="275.32" cy="614.73" r="1.3" fill="#46ff0a" opacity="0.45" filter="url(#b1)"/>
<circle cx="269.04" cy="616.61" r="1.3" fill="#46ff0a" opacity="0.45" filter="url(#b1)"/>
<circle cx="271.55" cy="623.52" r="1.3" fill="#46ff0a" opacity="0.45" filter="url(#b1)"/>
<circle cx="320.52" cy="606.57" r="1.3" fill="#46ff0a" opacity="0.45" filter="url(#b1)"/>
<circle cx="323.66" cy="615.36" r="1.3" fill="#46ff0a" opacity="0.45" filter="url(#b1)"/>
<circle cx="320.52" cy="626.66" r="1.3" fill="#46ff0a" opacity="0.45" filter="url(#b1)"/>
<circle cx="285.99" cy="634.82" r="1.3" fill="#46ff0a" opacity="0.45" filter="url(#b1)"/>
<circle cx="296.66" cy="637.33" r="1.3" fill="#46ff0a" opacity="0.45" filter="url(#b1)"/>
<circle cx="306.71" cy="637.96" r="1.3" fill="#46ff0a" opacity="0.45" filter="url(#b1)"/>
<circle cx="287.88" cy="639.84" r="1.3" fill="#46ff0a" opacity="0.45" filter="url(#b1)"/>
<circle cx="279.72" cy="631.05" r="1.3" fill="#46ff0a" opacity="0.45" filter="url(#b1)"/>
<circle cx="314.24" cy="632.94" r="1.3" fill="#46ff0a" opacity="0.45" filter="url(#b1)"/>
<circle cx="292.90" cy="585.85" r="1.3" fill="#46ff0a" opacity="0.45" filter="url(#b1)"/>
<circle cx="296.66" cy="585.23" r="1.3" fill="#46ff0a" opacity="0.45" filter="url(#b1)"/>
<circle cx="311.73" cy="590.88" r="1.3" fill="#46ff0a" opacity="0.45" filter="url(#b1)"/>
</g>
<text x="262.80" y="574.30" font-size="12.3" text-anchor="start" fill="#fff" font-weight="bold">08:00</text>
<rect x="314.45" y="564.4" width="27.8" height="3.4" fill="#fff"/>
<clipPath id="fc4"><rect x="344.95" y="562.2" width="82.80000000000001" height="88.59999999999991"/></clipPath>
<g clip-path="url(#fc4)"><rect x="344.95" y="562.2" width="82.80000000000001" height="88.59999999999991" fill="#010201"/>
<circle cx="380.7" cy="613.5" r="31.7" fill="#1a5e16" opacity="0.45" filter="url(#b4)"/>
<circle cx="380.7" cy="613.5" r="28.7" fill="#1a5e16" filter="url(#b15)"/>
<g filter="url(#b1)"><circle cx="394.01" cy="597.87" r="1.30" fill="#3fd020" opacity="0.33"/><circle cx="358.78" cy="622.42" r="1.30" fill="#3fd020" opacity="0.31"/><circle cx="401.49" cy="618.18" r="1.35" fill="#3fd020" opacity="0.23"/><circle cx="387.67" cy="620.87" r="1.37" fill="#3fd020" opacity="0.27"/><circle cx="382.79" cy="599.63" r="1.16" fill="#3fd020" opacity="0.29"/><circle cx="357.76" cy="619.11" r="1.72" fill="#3fd020" opacity="0.36"/><circle cx="366.48" cy="608.61" r="1.83" fill="#3fd020" opacity="0.24"/><circle cx="390.32" cy="631.04" r="1.49" fill="#3fd020" opacity="0.31"/><circle cx="362.29" cy="614.80" r="1.04" fill="#3fd020" opacity="0.24"/><circle cx="387.87" cy="589.65" r="1.14" fill="#3fd020" opacity="0.15"/><circle cx="398.70" cy="598.79" r="1.07" fill="#3fd020" opacity="0.31"/><circle cx="393.19" cy="620.99" r="1.49" fill="#3fd020" opacity="0.28"/><circle cx="393.30" cy="602.61" r="1.76" fill="#3fd020" opacity="0.32"/><circle cx="400.20" cy="614.60" r="1.47" fill="#3fd020" opacity="0.33"/><circle cx="379.81" cy="610.77" r="1.08" fill="#3fd020" opacity="0.29"/><circle cx="385.88" cy="631.47" r="1.55" fill="#3fd020" opacity="0.23"/><circle cx="388.54" cy="633.23" r="1.01" fill="#3fd020" opacity="0.32"/><circle cx="364.12" cy="594.14" r="1.30" fill="#3fd020" opacity="0.19"/><circle cx="365.23" cy="599.12" r="1.72" fill="#3fd020" opacity="0.17"/><circle cx="381.06" cy="597.95" r="1.48" fill="#3fd020" opacity="0.21"/><circle cx="363.28" cy="612.81" r="1.06" fill="#3fd020" opacity="0.37"/><circle cx="384.29" cy="607.49" r="1.49" fill="#3fd020" opacity="0.39"/><circle cx="380.38" cy="607.43" r="1.20" fill="#3fd020" opacity="0.25"/><circle cx="396.41" cy="619.99" r="1.25" fill="#3fd020" opacity="0.37"/><circle cx="359.65" cy="605.22" r="1.70" fill="#3fd020" opacity="0.38"/><circle cx="384.19" cy="609.31" r="1.03" fill="#3fd020" opacity="0.24"/><circle cx="397.79" cy="602.45" r="1.62" fill="#3fd020" opacity="0.32"/><circle cx="380.09" cy="605.95" r="1.73" fill="#3fd020" opacity="0.36"/><circle cx="370.54" cy="602.76" r="1.40" fill="#3fd020" opacity="0.26"/><circle cx="365.41" cy="617.38" r="1.14" fill="#3fd020" opacity="0.30"/><circle cx="397.91" cy="635.05" r="1.05" fill="#46f018" opacity="0.57"/><circle cx="385.33" cy="637.95" r="1.02" fill="#46f018" opacity="0.55"/><circle cx="393.35" cy="589.77" r="1.19" fill="#46f018" opacity="0.34"/><circle cx="382.44" cy="637.67" r="1.37" fill="#46f018" opacity="0.34"/><circle cx="375.55" cy="589.95" r="1.04" fill="#46f018" opacity="0.48"/><circle cx="390.70" cy="635.72" r="1.35" fill="#46f018" opacity="0.39"/><circle cx="407.41" cy="614.61" r="1.39" fill="#46f018" opacity="0.46"/><circle cx="405.74" cy="619.12" r="1.20" fill="#46f018" opacity="0.37"/><circle cx="357.39" cy="626.88" r="1.23" fill="#46f018" opacity="0.55"/><circle cx="405.49" cy="605.50" r="1.39" fill="#46f018" opacity="0.34"/><circle cx="354.23" cy="610.57" r="1.36" fill="#46f018" opacity="0.44"/><circle cx="355.41" cy="624.14" r="1.14" fill="#46f018" opacity="0.32"/><circle cx="356.74" cy="621.04" r="1.23" fill="#46f018" opacity="0.54"/><circle cx="404.89" cy="620.87" r="1.35" fill="#46f018" opacity="0.54"/><circle cx="386.02" cy="588.50" r="1.38" fill="#46f018" opacity="0.55"/><circle cx="391.66" cy="589.77" r="1.22" fill="#46f018" opacity="0.34"/><circle cx="404.27" cy="618.83" r="0.93" fill="#46f018" opacity="0.45"/><circle cx="405.40" cy="604.59" r="1.29" fill="#46f018" opacity="0.53"/><circle cx="404.32" cy="604.90" r="1.15" fill="#46f018" opacity="0.58"/><circle cx="367.81" cy="636.90" r="1.11" fill="#46f018" opacity="0.35"/><circle cx="388.09" cy="637.86" r="0.91" fill="#46f018" opacity="0.56"/><circle cx="365.34" cy="633.23" r="1.30" fill="#46f018" opacity="0.30"/><circle cx="382.64" cy="587.79" r="0.94" fill="#46f018" opacity="0.42"/><circle cx="404.86" cy="611.39" r="1.04" fill="#46f018" opacity="0.35"/><circle cx="359.86" cy="599.96" r="1.32" fill="#46f018" opacity="0.41"/><circle cx="404.07" cy="605.95" r="1.01" fill="#46f018" opacity="0.31"/></g>
<polygon points="371.25,598.41 375.64,595.65 381.92,594.02 385.69,594.89 390.08,597.15 394.48,600.92 394.48,604.06 390.71,606.57 384.43,607.20 379.41,608.45 376.90,611.59 375.02,610.96 374.14,607.20 372.50,604.69 369.99,602.18" fill="#3acc10" stroke="#3acc10" stroke-width="3" stroke-linejoin="round" filter="url(#b2)" opacity="0.7"/>
<polygon points="371.25,598.41 375.64,595.65 381.92,594.02 385.69,594.89 390.08,597.15 394.48,600.92 394.48,604.06 390.71,606.57 384.43,607.20 379.41,608.45 376.90,611.59 375.02,610.96 374.14,607.20 372.50,604.69 369.99,602.18" fill="#46ff0a" stroke="#46ff0a" stroke-width="1.8" stroke-linejoin="round" filter="url(#b1)"/>
<polygon points="360.58,599.66 363.72,597.15 366.85,598.41 369.99,601.92 373.13,604.69 371.88,607.20 365.60,610.34 361.83,612.85 359.95,609.71 359.32,604.69" fill="#3acc10" stroke="#3acc10" stroke-width="3" stroke-linejoin="round" filter="url(#b2)" opacity="0.7"/>
<polygon points="360.58,599.66 363.72,597.15 366.85,598.41 369.99,601.92 373.13,604.69 371.88,607.20 365.60,610.34 361.83,612.85 359.95,609.71 359.32,604.69" fill="#46ff0a" stroke="#46ff0a" stroke-width="1.8" stroke-linejoin="round" filter="url(#b1)"/>
<circle cx="369.37" cy="588.37" r="1.3" fill="#46ff0a" opacity="0.45" filter="url(#b1)"/>
<circle cx="378.15" cy="585.23" r="1.3" fill="#46ff0a" opacity="0.45" filter="url(#b1)"/>
<circle cx="359.32" cy="595.27" r="1.3" fill="#46ff0a" opacity="0.45" filter="url(#b1)"/>
<circle cx="395.10" cy="592.13" r="1.3" fill="#46ff0a" opacity="0.45" filter="url(#b1)"/>
<circle cx="402.64" cy="598.41" r="1.3" fill="#46ff0a" opacity="0.45" filter="url(#b1)"/>
<circle cx="407.66" cy="605.31" r="1.3" fill="#46ff0a" opacity="0.45" filter="url(#b1)"/>
<circle cx="354.30" cy="613.48" r="1.3" fill="#46ff0a" opacity="0.45" filter="url(#b1)"/>
<circle cx="359.32" cy="624.77" r="1.3" fill="#46ff0a" opacity="0.45" filter="url(#b1)"/>
<circle cx="365.60" cy="630.42" r="1.3" fill="#46ff0a" opacity="0.45" filter="url(#b1)"/>
<circle cx="371.88" cy="641.10" r="1.3" fill="#46ff0a" opacity="0.45" filter="url(#b1)"/>
<circle cx="384.43" cy="641.10" r="1.3" fill="#46ff0a" opacity="0.45" filter="url(#b1)"/>
<circle cx="375.64" cy="637.96" r="1.3" fill="#46ff0a" opacity="0.45" filter="url(#b1)"/>
<circle cx="391.96" cy="637.33" r="1.3" fill="#46ff0a" opacity="0.45" filter="url(#b1)"/>
<circle cx="399.50" cy="629.80" r="1.3" fill="#46ff0a" opacity="0.45" filter="url(#b1)"/>
<circle cx="405.15" cy="621.01" r="1.3" fill="#46ff0a" opacity="0.45" filter="url(#b1)"/>
<circle cx="386.31" cy="588.37" r="1.3" fill="#46ff0a" opacity="0.45" filter="url(#b1)"/>
<circle cx="355.55" cy="621.01" r="1.3" fill="#46ff0a" opacity="0.45" filter="url(#b1)"/>
</g>
<text x="351.80" y="574.30" font-size="12.3" text-anchor="start" fill="#fff" font-weight="bold">09:45</text>
<rect x="398.75" y="564.4" width="27.8" height="3.4" fill="#fff"/>
<clipPath id="fc5"><rect x="429.25" y="562.2" width="82.5" height="88.59999999999991"/></clipPath>
<g clip-path="url(#fc5)"><rect x="429.25" y="562.2" width="82.5" height="88.59999999999991" fill="#010201"/>
<circle cx="465" cy="613" r="32.2" fill="#1c6418" opacity="0.45" filter="url(#b4)"/>
<circle cx="465" cy="613" r="29.2" fill="#1c6418" filter="url(#b15)"/>
<g filter="url(#b1)"><circle cx="487.08" cy="604.19" r="1.71" fill="#3fd020" opacity="0.39"/><circle cx="454.03" cy="628.67" r="1.30" fill="#3fd020" opacity="0.19"/><circle cx="456.14" cy="627.67" r="1.13" fill="#3fd020" opacity="0.31"/><circle cx="456.31" cy="593.67" r="1.39" fill="#3fd020" opacity="0.25"/><circle cx="462.68" cy="635.26" r="1.83" fill="#3fd020" opacity="0.21"/><circle cx="466.50" cy="598.45" r="1.84" fill="#3fd020" opacity="0.40"/><circle cx="472.29" cy="590.60" r="1.74" fill="#3fd020" opacity="0.34"/><circle cx="458.72" cy="614.88" r="1.45" fill="#3fd020" opacity="0.34"/><circle cx="472.37" cy="632.04" r="1.46" fill="#3fd020" opacity="0.30"/><circle cx="443.06" cy="608.27" r="1.26" fill="#3fd020" opacity="0.22"/><circle cx="463.90" cy="629.52" r="1.78" fill="#3fd020" opacity="0.39"/><circle cx="486.50" cy="602.48" r="1.65" fill="#3fd020" opacity="0.26"/><circle cx="469.90" cy="633.54" r="1.59" fill="#3fd020" opacity="0.17"/><circle cx="472.88" cy="604.57" r="1.88" fill="#3fd020" opacity="0.22"/><circle cx="459.98" cy="588.64" r="1.72" fill="#3fd020" opacity="0.38"/><circle cx="464.54" cy="593.56" r="1.78" fill="#3fd020" opacity="0.23"/><circle cx="442.83" cy="605.05" r="1.63" fill="#3fd020" opacity="0.40"/><circle cx="448.13" cy="619.86" r="1.24" fill="#3fd020" opacity="0.37"/><circle cx="464.26" cy="623.73" r="1.75" fill="#3fd020" opacity="0.28"/><circle cx="445.48" cy="624.23" r="1.68" fill="#3fd020" opacity="0.29"/><circle cx="479.63" cy="622.52" r="1.31" fill="#3fd020" opacity="0.24"/><circle cx="446.91" cy="621.38" r="1.31" fill="#3fd020" opacity="0.35"/><circle cx="449.35" cy="599.19" r="1.08" fill="#3fd020" opacity="0.22"/><circle cx="481.22" cy="631.98" r="1.83" fill="#3fd020" opacity="0.16"/><circle cx="475.82" cy="616.65" r="1.31" fill="#3fd020" opacity="0.39"/><circle cx="475.64" cy="602.09" r="1.75" fill="#3fd020" opacity="0.26"/><circle cx="463.28" cy="611.65" r="1.43" fill="#3fd020" opacity="0.16"/><circle cx="483.69" cy="601.45" r="1.41" fill="#3fd020" opacity="0.19"/><circle cx="468.99" cy="587.92" r="1.03" fill="#3fd020" opacity="0.20"/><circle cx="487.12" cy="623.66" r="1.65" fill="#3fd020" opacity="0.17"/><circle cx="462.15" cy="626.79" r="1.67" fill="#3fd020" opacity="0.26"/><circle cx="440.29" cy="605.96" r="1.85" fill="#3fd020" opacity="0.37"/><circle cx="471.65" cy="604.39" r="1.54" fill="#3fd020" opacity="0.29"/><circle cx="462.78" cy="633.59" r="1.51" fill="#3fd020" opacity="0.17"/><circle cx="461.97" cy="585.99" r="0.95" fill="#46f018" opacity="0.46"/><circle cx="491.73" cy="609.28" r="1.24" fill="#46f018" opacity="0.44"/><circle cx="439.83" cy="625.87" r="1.04" fill="#46f018" opacity="0.44"/><circle cx="486.93" cy="627.84" r="1.23" fill="#46f018" opacity="0.51"/><circle cx="490.28" cy="609.46" r="1.00" fill="#46f018" opacity="0.41"/><circle cx="450.76" cy="637.10" r="1.00" fill="#46f018" opacity="0.44"/><circle cx="491.08" cy="612.87" r="1.13" fill="#46f018" opacity="0.43"/><circle cx="453.62" cy="636.09" r="1.32" fill="#46f018" opacity="0.30"/><circle cx="490.23" cy="624.18" r="1.26" fill="#46f018" opacity="0.43"/><circle cx="438.88" cy="616.28" r="1.03" fill="#46f018" opacity="0.43"/><circle cx="448.41" cy="634.01" r="1.07" fill="#46f018" opacity="0.48"/><circle cx="492.35" cy="620.21" r="0.91" fill="#46f018" opacity="0.44"/><circle cx="447.17" cy="630.56" r="1.39" fill="#46f018" opacity="0.43"/><circle cx="475.13" cy="636.70" r="0.99" fill="#46f018" opacity="0.46"/><circle cx="493.19" cy="612.73" r="1.02" fill="#46f018" opacity="0.51"/><circle cx="439.72" cy="602.35" r="0.98" fill="#46f018" opacity="0.31"/><circle cx="485.24" cy="632.31" r="0.93" fill="#46f018" opacity="0.31"/><circle cx="440.92" cy="618.76" r="0.99" fill="#46f018" opacity="0.59"/><circle cx="476.59" cy="637.85" r="1.32" fill="#46f018" opacity="0.44"/><circle cx="441.28" cy="621.90" r="1.06" fill="#46f018" opacity="0.46"/><circle cx="441.02" cy="601.60" r="1.08" fill="#46f018" opacity="0.57"/><circle cx="439.90" cy="619.67" r="1.14" fill="#46f018" opacity="0.55"/><circle cx="443.30" cy="596.36" r="1.31" fill="#46f018" opacity="0.41"/><circle cx="460.64" cy="588.49" r="1.14" fill="#46f018" opacity="0.44"/><circle cx="445.61" cy="629.03" r="1.30" fill="#46f018" opacity="0.40"/><circle cx="445.40" cy="628.48" r="1.33" fill="#46f018" opacity="0.56"/><circle cx="475.78" cy="636.66" r="1.04" fill="#46f018" opacity="0.36"/><circle cx="478.01" cy="589.50" r="1.35" fill="#46f018" opacity="0.51"/></g>
<polygon points="455.88,598.41 460.90,595.90 467.18,594.89 470.94,594.89 474.71,597.78 478.48,600.92 479.10,604.06 474.71,606.57 468.43,607.20 463.41,608.45 460.90,611.59 459.02,610.96 458.14,607.20 456.50,604.69 455.25,602.18" fill="#3acc10" stroke="#3acc10" stroke-width="3" stroke-linejoin="round" filter="url(#b2)" opacity="0.7"/>
<polygon points="455.88,598.41 460.90,595.90 467.18,594.89 470.94,594.89 474.71,597.78 478.48,600.92 479.10,604.06 474.71,606.57 468.43,607.20 463.41,608.45 460.90,611.59 459.02,610.96 458.14,607.20 456.50,604.69 455.25,602.18" fill="#46ff0a" stroke="#46ff0a" stroke-width="1.8" stroke-linejoin="round" filter="url(#b1)"/>
<polygon points="444.58,599.66 447.72,597.78 450.23,595.90 453.99,601.92 457.13,604.69 455.88,607.20 449.60,610.34 445.83,612.85 443.95,609.71 443.32,604.69" fill="#3acc10" stroke="#3acc10" stroke-width="3" stroke-linejoin="round" filter="url(#b2)" opacity="0.7"/>
<polygon points="444.58,599.66 447.72,597.78 450.23,595.90 453.99,601.92 457.13,604.69 455.88,607.20 449.60,610.34 445.83,612.85 443.95,609.71 443.32,604.69" fill="#46ff0a" stroke="#46ff0a" stroke-width="1.8" stroke-linejoin="round" filter="url(#b1)"/>
<circle cx="439.55" cy="600.92" r="1.3" fill="#46ff0a" opacity="0.45" filter="url(#b1)"/>
<circle cx="457.76" cy="586.48" r="1.3" fill="#46ff0a" opacity="0.45" filter="url(#b1)"/>
<circle cx="469.06" cy="585.85" r="1.3" fill="#46ff0a" opacity="0.45" filter="url(#b1)"/>
<circle cx="484.75" cy="594.64" r="1.3" fill="#46ff0a" opacity="0.45" filter="url(#b1)"/>
<circle cx="488.52" cy="599.66" r="1.3" fill="#46ff0a" opacity="0.45" filter="url(#b1)"/>
<circle cx="491.66" cy="604.69" r="1.3" fill="#46ff0a" opacity="0.45" filter="url(#b1)"/>
<circle cx="439.55" cy="626.03" r="1.3" fill="#46ff0a" opacity="0.45" filter="url(#b1)"/>
<circle cx="445.83" cy="631.68" r="1.3" fill="#46ff0a" opacity="0.45" filter="url(#b1)"/>
<circle cx="457.13" cy="641.72" r="1.3" fill="#46ff0a" opacity="0.45" filter="url(#b1)"/>
<circle cx="464.66" cy="641.72" r="1.3" fill="#46ff0a" opacity="0.45" filter="url(#b1)"/>
<circle cx="470.94" cy="641.72" r="1.3" fill="#46ff0a" opacity="0.45" filter="url(#b1)"/>
<circle cx="480.36" cy="636.07" r="1.3" fill="#46ff0a" opacity="0.45" filter="url(#b1)"/>
<circle cx="487.26" cy="629.80" r="1.3" fill="#46ff0a" opacity="0.45" filter="url(#b1)"/>
<circle cx="491.03" cy="621.01" r="1.3" fill="#46ff0a" opacity="0.45" filter="url(#b1)"/>
<circle cx="454.62" cy="626.66" r="1.3" fill="#46ff0a" opacity="0.45" filter="url(#b1)"/>
<circle cx="444.58" cy="619.75" r="1.3" fill="#46ff0a" opacity="0.45" filter="url(#b1)"/>
<circle cx="463.41" cy="588.37" r="1.3" fill="#46ff0a" opacity="0.45" filter="url(#b1)"/>
</g>
<text x="434.80" y="574.30" font-size="12.3" text-anchor="start" fill="#fff" font-weight="bold">10:30</text>
<rect x="482.75" y="564.4" width="27.8" height="3.4" fill="#fff"/>
<clipPath id="fc6"><rect x="513.25" y="562.2" width="83.04999999999995" height="88.59999999999991"/></clipPath>
<g clip-path="url(#fc6)"><rect x="513.25" y="562.2" width="83.04999999999995" height="88.59999999999991" fill="#010201"/>
<circle cx="548.7" cy="612.2" r="33.0" fill="#206e1b" opacity="0.45" filter="url(#b4)"/>
<circle cx="548.7" cy="612.2" r="30.0" fill="#206e1b" filter="url(#b15)"/>
<g filter="url(#b1)"><circle cx="567.08" cy="630.47" r="1.17" fill="#3fd020" opacity="0.39"/><circle cx="540.54" cy="609.25" r="1.59" fill="#3fd020" opacity="0.32"/><circle cx="563.49" cy="598.89" r="1.44" fill="#3fd020" opacity="0.18"/><circle cx="535.19" cy="611.64" r="1.07" fill="#3fd020" opacity="0.24"/><circle cx="529.61" cy="626.92" r="1.40" fill="#3fd020" opacity="0.29"/><circle cx="555.25" cy="612.00" r="1.38" fill="#3fd020" opacity="0.19"/><circle cx="533.38" cy="601.48" r="1.80" fill="#3fd020" opacity="0.20"/><circle cx="526.57" cy="598.33" r="1.12" fill="#3fd020" opacity="0.36"/><circle cx="545.88" cy="605.28" r="1.59" fill="#3fd020" opacity="0.21"/><circle cx="550.11" cy="605.57" r="1.60" fill="#3fd020" opacity="0.37"/><circle cx="558.19" cy="590.55" r="1.53" fill="#3fd020" opacity="0.33"/><circle cx="550.96" cy="586.16" r="1.08" fill="#3fd020" opacity="0.28"/><circle cx="561.75" cy="611.89" r="1.66" fill="#3fd020" opacity="0.29"/><circle cx="568.10" cy="595.15" r="1.75" fill="#3fd020" opacity="0.34"/><circle cx="536.31" cy="629.36" r="1.57" fill="#3fd020" opacity="0.17"/><circle cx="562.82" cy="600.63" r="1.78" fill="#3fd020" opacity="0.22"/><circle cx="524.81" cy="602.08" r="1.42" fill="#3fd020" opacity="0.26"/><circle cx="550.93" cy="588.67" r="1.25" fill="#3fd020" opacity="0.16"/><circle cx="535.89" cy="592.27" r="1.54" fill="#3fd020" opacity="0.15"/><circle cx="528.18" cy="622.28" r="1.48" fill="#3fd020" opacity="0.33"/><circle cx="569.57" cy="601.66" r="1.69" fill="#3fd020" opacity="0.35"/><circle cx="568.31" cy="614.32" r="1.69" fill="#3fd020" opacity="0.16"/><circle cx="530.18" cy="616.80" r="1.50" fill="#3fd020" opacity="0.30"/><circle cx="537.91" cy="594.19" r="1.60" fill="#3fd020" opacity="0.21"/><circle cx="564.29" cy="614.37" r="1.35" fill="#3fd020" opacity="0.30"/><circle cx="572.05" cy="602.13" r="1.05" fill="#3fd020" opacity="0.37"/><circle cx="536.08" cy="635.71" r="1.43" fill="#3fd020" opacity="0.25"/><circle cx="570.60" cy="598.85" r="1.70" fill="#3fd020" opacity="0.39"/><circle cx="568.95" cy="602.43" r="1.87" fill="#3fd020" opacity="0.28"/><circle cx="536.55" cy="604.12" r="1.08" fill="#3fd020" opacity="0.31"/><circle cx="545.38" cy="615.95" r="1.80" fill="#3fd020" opacity="0.26"/><circle cx="523.92" cy="618.06" r="1.49" fill="#3fd020" opacity="0.26"/><circle cx="558.33" cy="587.50" r="1.32" fill="#3fd020" opacity="0.20"/><circle cx="539.05" cy="625.46" r="1.82" fill="#3fd020" opacity="0.16"/><circle cx="524.08" cy="606.40" r="1.82" fill="#3fd020" opacity="0.24"/><circle cx="528.59" cy="617.18" r="1.56" fill="#3fd020" opacity="0.34"/><circle cx="532.01" cy="612.43" r="1.17" fill="#3fd020" opacity="0.38"/><circle cx="567.65" cy="610.45" r="1.76" fill="#3fd020" opacity="0.31"/><circle cx="562.32" cy="598.61" r="1.36" fill="#3fd020" opacity="0.30"/><circle cx="539.39" cy="605.50" r="1.09" fill="#3fd020" opacity="0.17"/><circle cx="564.48" cy="623.32" r="1.44" fill="#3fd020" opacity="0.26"/><circle cx="573.58" cy="610.32" r="1.16" fill="#3fd020" opacity="0.28"/><circle cx="548.09" cy="615.41" r="1.31" fill="#3fd020" opacity="0.28"/><circle cx="548.28" cy="607.58" r="1.67" fill="#3fd020" opacity="0.21"/><circle cx="537.02" cy="618.00" r="1.03" fill="#3fd020" opacity="0.39"/><circle cx="574.57" cy="612.92" r="1.56" fill="#3fd020" opacity="0.24"/><circle cx="523.97" cy="618.70" r="1.07" fill="#46f018" opacity="0.36"/><circle cx="525.87" cy="628.00" r="1.33" fill="#46f018" opacity="0.32"/><circle cx="567.04" cy="632.86" r="1.37" fill="#46f018" opacity="0.47"/><circle cx="520.35" cy="608.74" r="1.00" fill="#46f018" opacity="0.30"/><circle cx="521.22" cy="611.35" r="0.96" fill="#46f018" opacity="0.51"/><circle cx="527.27" cy="593.49" r="1.07" fill="#46f018" opacity="0.32"/><circle cx="552.53" cy="638.03" r="1.06" fill="#46f018" opacity="0.49"/><circle cx="544.77" cy="640.97" r="0.98" fill="#46f018" opacity="0.56"/><circle cx="550.06" cy="640.97" r="1.01" fill="#46f018" opacity="0.47"/><circle cx="549.36" cy="640.19" r="1.21" fill="#46f018" opacity="0.52"/><circle cx="527.46" cy="626.89" r="1.06" fill="#46f018" opacity="0.56"/><circle cx="522.82" cy="611.94" r="0.94" fill="#46f018" opacity="0.46"/><circle cx="562.44" cy="587.98" r="1.29" fill="#46f018" opacity="0.32"/><circle cx="524.13" cy="621.77" r="1.02" fill="#46f018" opacity="0.58"/><circle cx="564.97" cy="591.20" r="1.39" fill="#46f018" opacity="0.36"/><circle cx="561.93" cy="588.67" r="1.12" fill="#46f018" opacity="0.60"/><circle cx="556.21" cy="585.32" r="1.23" fill="#46f018" opacity="0.49"/><circle cx="560.73" cy="587.00" r="1.08" fill="#46f018" opacity="0.48"/><circle cx="525.80" cy="624.50" r="0.94" fill="#46f018" opacity="0.57"/><circle cx="525.02" cy="625.62" r="0.98" fill="#46f018" opacity="0.46"/><circle cx="570.74" cy="595.03" r="1.23" fill="#46f018" opacity="0.47"/><circle cx="573.86" cy="614.05" r="0.95" fill="#46f018" opacity="0.48"/><circle cx="563.91" cy="587.62" r="1.27" fill="#46f018" opacity="0.52"/><circle cx="558.24" cy="635.80" r="1.28" fill="#46f018" opacity="0.38"/><circle cx="531.49" cy="589.24" r="0.93" fill="#46f018" opacity="0.54"/><circle cx="536.08" cy="636.48" r="1.11" fill="#46f018" opacity="0.54"/><circle cx="537.72" cy="585.64" r="1.26" fill="#46f018" opacity="0.54"/><circle cx="555.77" cy="586.00" r="1.17" fill="#46f018" opacity="0.46"/><circle cx="568.26" cy="628.30" r="1.05" fill="#46f018" opacity="0.42"/><circle cx="574.45" cy="623.04" r="1.05" fill="#46f018" opacity="0.45"/><circle cx="572.88" cy="597.10" r="1.12" fill="#46f018" opacity="0.44"/><circle cx="573.36" cy="618.01" r="1.17" fill="#46f018" opacity="0.31"/></g>
<polygon points="541.13,598.41 546.15,597.15 551.18,594.89 554.94,595.90 559.96,598.41 561.85,602.18 558.71,604.06 553.69,603.43 549.92,605.31 546.15,603.43 542.39,600.92" fill="#3acc10" stroke="#3acc10" stroke-width="3" stroke-linejoin="round" filter="url(#b2)" opacity="0.7"/>
<polygon points="541.13,598.41 546.15,597.15 551.18,594.89 554.94,595.90 559.96,598.41 561.85,602.18 558.71,604.06 553.69,603.43 549.92,605.31 546.15,603.43 542.39,600.92" fill="#46ff0a" stroke="#46ff0a" stroke-width="1.8" stroke-linejoin="round" filter="url(#b1)"/>
<polygon points="529.83,598.41 532.34,597.78 536.11,600.92 534.85,605.31 531.09,610.34 528.58,608.45 529.83,603.43" fill="#3acc10" stroke="#3acc10" stroke-width="3" stroke-linejoin="round" filter="url(#b2)" opacity="0.7"/>
<polygon points="529.83,598.41 532.34,597.78 536.11,600.92 534.85,605.31 531.09,610.34 528.58,608.45 529.83,603.43" fill="#46ff0a" stroke="#46ff0a" stroke-width="1.8" stroke-linejoin="round" filter="url(#b1)"/>
<circle cx="538.62" cy="584.60" r="1.3" fill="#46ff0a" opacity="0.45" filter="url(#b1)"/>
<circle cx="555.57" cy="586.48" r="1.3" fill="#46ff0a" opacity="0.45" filter="url(#b1)"/>
<circle cx="561.85" cy="586.48" r="1.3" fill="#46ff0a" opacity="0.45" filter="url(#b1)"/>
<circle cx="527.95" cy="592.13" r="1.3" fill="#46ff0a" opacity="0.45" filter="url(#b1)"/>
<circle cx="526.07" cy="594.02" r="1.3" fill="#46ff0a" opacity="0.45" filter="url(#b1)"/>
<circle cx="568.75" cy="595.27" r="1.3" fill="#46ff0a" opacity="0.45" filter="url(#b1)"/>
<circle cx="519.79" cy="614.10" r="1.3" fill="#46ff0a" opacity="0.45" filter="url(#b1)"/>
<circle cx="523.55" cy="624.15" r="1.3" fill="#46ff0a" opacity="0.45" filter="url(#b1)"/>
<circle cx="526.69" cy="631.05" r="1.3" fill="#46ff0a" opacity="0.45" filter="url(#b1)"/>
<circle cx="531.72" cy="636.07" r="1.3" fill="#46ff0a" opacity="0.45" filter="url(#b1)"/>
<circle cx="541.13" cy="637.96" r="1.3" fill="#46ff0a" opacity="0.45" filter="url(#b1)"/>
<circle cx="551.18" cy="640.47" r="1.3" fill="#46ff0a" opacity="0.45" filter="url(#b1)"/>
<circle cx="554.94" cy="636.70" r="1.3" fill="#46ff0a" opacity="0.45" filter="url(#b1)"/>
<circle cx="566.24" cy="629.80" r="1.3" fill="#46ff0a" opacity="0.45" filter="url(#b1)"/>
<circle cx="572.52" cy="622.26" r="1.3" fill="#46ff0a" opacity="0.45" filter="url(#b1)"/>
<circle cx="575.03" cy="612.22" r="1.3" fill="#46ff0a" opacity="0.45" filter="url(#b1)"/>
<circle cx="544.27" cy="609.08" r="1.3" fill="#46ff0a" opacity="0.45" filter="url(#b1)"/>
<circle cx="551.80" cy="615.99" r="1.3" fill="#46ff0a" opacity="0.45" filter="url(#b1)"/>
<circle cx="532.97" cy="588.37" r="1.3" fill="#46ff0a" opacity="0.45" filter="url(#b1)"/>
<circle cx="544.90" cy="589.62" r="1.3" fill="#46ff0a" opacity="0.45" filter="url(#b1)"/>
</g>
<text x="516.60" y="574.30" font-size="12.3" text-anchor="start" fill="#fff" font-weight="bold">16:30</text>
<rect x="567.30" y="564.4" width="27.8" height="3.4" fill="#fff"/>
<clipPath id="fc7"><rect x="597.8" y="562.2" width="82.80000000000007" height="88.59999999999991"/></clipPath>
<g clip-path="url(#fc7)"><rect x="597.8" y="562.2" width="82.80000000000007" height="88.59999999999991" fill="#010201"/>
<circle cx="635.1" cy="611.8" r="33.3" fill="#1e6a1a" opacity="0.45" filter="url(#b4)"/>
<circle cx="635.1" cy="611.8" r="30.3" fill="#1e6a1a" filter="url(#b15)"/>
<g filter="url(#b1)"><circle cx="619.74" cy="616.73" r="1.88" fill="#3fd020" opacity="0.31"/><circle cx="634.04" cy="600.22" r="1.12" fill="#3fd020" opacity="0.40"/><circle cx="650.51" cy="596.66" r="1.53" fill="#3fd020" opacity="0.33"/><circle cx="623.80" cy="592.85" r="1.53" fill="#3fd020" opacity="0.38"/><circle cx="649.31" cy="589.96" r="1.33" fill="#3fd020" opacity="0.17"/><circle cx="614.55" cy="611.38" r="1.14" fill="#3fd020" opacity="0.22"/><circle cx="619.53" cy="607.10" r="1.77" fill="#3fd020" opacity="0.21"/><circle cx="641.95" cy="605.74" r="1.26" fill="#3fd020" opacity="0.22"/><circle cx="652.00" cy="632.57" r="1.66" fill="#3fd020" opacity="0.37"/><circle cx="648.94" cy="599.60" r="1.21" fill="#3fd020" opacity="0.29"/><circle cx="641.71" cy="629.06" r="1.82" fill="#3fd020" opacity="0.35"/><circle cx="646.16" cy="629.94" r="1.45" fill="#3fd020" opacity="0.35"/><circle cx="657.84" cy="612.55" r="1.31" fill="#3fd020" opacity="0.25"/><circle cx="641.92" cy="615.80" r="1.45" fill="#3fd020" opacity="0.25"/><circle cx="649.54" cy="623.00" r="1.84" fill="#3fd020" opacity="0.39"/><circle cx="649.83" cy="613.98" r="1.56" fill="#3fd020" opacity="0.21"/><circle cx="628.15" cy="633.67" r="1.60" fill="#3fd020" opacity="0.37"/><circle cx="629.88" cy="606.21" r="1.40" fill="#3fd020" opacity="0.34"/><circle cx="630.80" cy="586.45" r="1.12" fill="#3fd020" opacity="0.17"/><circle cx="628.96" cy="599.97" r="1.85" fill="#3fd020" opacity="0.19"/><circle cx="660.66" cy="612.54" r="1.49" fill="#3fd020" opacity="0.23"/><circle cx="628.85" cy="598.60" r="1.09" fill="#3fd020" opacity="0.39"/><circle cx="613.77" cy="620.10" r="1.05" fill="#3fd020" opacity="0.33"/><circle cx="609.04" cy="618.41" r="1.14" fill="#3fd020" opacity="0.39"/><circle cx="660.10" cy="607.28" r="1.83" fill="#3fd020" opacity="0.35"/><circle cx="645.37" cy="599.98" r="1.02" fill="#3fd020" opacity="0.26"/><circle cx="647.25" cy="596.06" r="1.36" fill="#3fd020" opacity="0.17"/><circle cx="626.45" cy="617.95" r="1.75" fill="#3fd020" opacity="0.39"/><circle cx="642.48" cy="608.41" r="1.79" fill="#3fd020" opacity="0.30"/><circle cx="653.97" cy="603.04" r="1.80" fill="#3fd020" opacity="0.20"/><circle cx="628.75" cy="595.34" r="1.34" fill="#3fd020" opacity="0.30"/><circle cx="640.09" cy="594.73" r="1.74" fill="#3fd020" opacity="0.34"/><circle cx="644.08" cy="597.23" r="1.65" fill="#3fd020" opacity="0.26"/><circle cx="658.98" cy="607.92" r="1.13" fill="#3fd020" opacity="0.21"/><circle cx="650.11" cy="609.89" r="1.27" fill="#3fd020" opacity="0.23"/><circle cx="621.41" cy="612.43" r="1.51" fill="#3fd020" opacity="0.17"/><circle cx="630.05" cy="634.77" r="1.64" fill="#3fd020" opacity="0.28"/><circle cx="628.99" cy="601.07" r="1.13" fill="#3fd020" opacity="0.23"/><circle cx="626.20" cy="588.44" r="1.31" fill="#3fd020" opacity="0.30"/><circle cx="619.37" cy="608.49" r="1.16" fill="#3fd020" opacity="0.28"/><circle cx="613.86" cy="600.88" r="1.37" fill="#3fd020" opacity="0.22"/><circle cx="634.49" cy="628.73" r="1.39" fill="#3fd020" opacity="0.36"/><circle cx="648.91" cy="636.45" r="1.31" fill="#46f018" opacity="0.59"/><circle cx="625.25" cy="586.99" r="1.25" fill="#46f018" opacity="0.49"/><circle cx="612.69" cy="628.28" r="0.92" fill="#46f018" opacity="0.30"/><circle cx="646.99" cy="638.33" r="0.91" fill="#46f018" opacity="0.38"/><circle cx="637.94" cy="583.02" r="1.11" fill="#46f018" opacity="0.45"/><circle cx="657.30" cy="597.17" r="0.95" fill="#46f018" opacity="0.38"/><circle cx="630.75" cy="585.41" r="1.19" fill="#46f018" opacity="0.32"/><circle cx="648.68" cy="585.91" r="1.35" fill="#46f018" opacity="0.35"/><circle cx="663.23" cy="604.97" r="1.01" fill="#46f018" opacity="0.43"/><circle cx="649.67" cy="634.42" r="1.28" fill="#46f018" opacity="0.33"/><circle cx="619.63" cy="587.77" r="0.93" fill="#46f018" opacity="0.35"/><circle cx="640.83" cy="583.71" r="1.04" fill="#46f018" opacity="0.57"/><circle cx="619.32" cy="591.76" r="1.27" fill="#46f018" opacity="0.35"/><circle cx="620.21" cy="636.31" r="0.91" fill="#46f018" opacity="0.55"/><circle cx="617.89" cy="633.68" r="1.05" fill="#46f018" opacity="0.47"/><circle cx="639.28" cy="639.25" r="1.12" fill="#46f018" opacity="0.48"/><circle cx="663.44" cy="612.02" r="1.01" fill="#46f018" opacity="0.55"/><circle cx="607.34" cy="616.04" r="1.12" fill="#46f018" opacity="0.34"/><circle cx="663.11" cy="607.86" r="1.39" fill="#46f018" opacity="0.50"/><circle cx="611.84" cy="625.53" r="1.30" fill="#46f018" opacity="0.55"/><circle cx="639.64" cy="585.91" r="1.03" fill="#46f018" opacity="0.42"/><circle cx="660.52" cy="618.23" r="1.08" fill="#46f018" opacity="0.35"/><circle cx="638.87" cy="639.17" r="1.25" fill="#46f018" opacity="0.40"/><circle cx="649.82" cy="590.94" r="0.93" fill="#46f018" opacity="0.36"/><circle cx="639.99" cy="585.93" r="1.27" fill="#46f018" opacity="0.39"/><circle cx="643.80" cy="585.85" r="1.00" fill="#46f018" opacity="0.57"/><circle cx="664.16" cy="611.67" r="1.12" fill="#46f018" opacity="0.47"/><circle cx="631.38" cy="640.31" r="1.09" fill="#46f018" opacity="0.47"/><circle cx="610.33" cy="596.46" r="1.12" fill="#46f018" opacity="0.42"/><circle cx="658.27" cy="600.10" r="0.93" fill="#46f018" opacity="0.39"/></g>
<polygon points="628.07,597.81 635.08,596.06 638.58,595.19 642.96,596.94 646.46,600.44 645.59,603.95 640.33,603.07 635.08,604.82 629.82,602.19" fill="#3acc10" stroke="#3acc10" stroke-width="3" stroke-linejoin="round" filter="url(#b2)" opacity="0.7"/>
<polygon points="628.07,597.81 635.08,596.06 638.58,595.19 642.96,596.94 646.46,600.44 645.59,603.95 640.33,603.07 635.08,604.82 629.82,602.19" fill="#46ff0a" stroke="#46ff0a" stroke-width="1.8" stroke-linejoin="round" filter="url(#b1)"/>
<polygon points="615.81,599.57 618.43,598.69 621.94,602.19 618.43,607.45 615.81,608.33 614.93,603.95" fill="#3acc10" stroke="#3acc10" stroke-width="3" stroke-linejoin="round" filter="url(#b2)" opacity="0.7"/>
<polygon points="615.81,599.57 618.43,598.69 621.94,602.19 618.43,607.45 615.81,608.33 614.93,603.95" fill="#46ff0a" stroke="#46ff0a" stroke-width="1.8" stroke-linejoin="round" filter="url(#b1)"/>
<circle cx="617.56" cy="589.93" r="1.3" fill="#46ff0a" opacity="0.45" filter="url(#b1)"/>
<circle cx="626.32" cy="585.55" r="1.3" fill="#46ff0a" opacity="0.45" filter="url(#b1)"/>
<circle cx="635.95" cy="585.90" r="1.3" fill="#46ff0a" opacity="0.45" filter="url(#b1)"/>
<circle cx="641.21" cy="585.90" r="1.3" fill="#46ff0a" opacity="0.45" filter="url(#b1)"/>
<circle cx="649.09" cy="588.18" r="1.3" fill="#46ff0a" opacity="0.45" filter="url(#b1)"/>
<circle cx="656.10" cy="596.06" r="1.3" fill="#46ff0a" opacity="0.45" filter="url(#b1)"/>
<circle cx="657.85" cy="606.57" r="1.3" fill="#46ff0a" opacity="0.45" filter="url(#b1)"/>
<circle cx="607.92" cy="601.32" r="1.3" fill="#46ff0a" opacity="0.45" filter="url(#b1)"/>
<circle cx="612.30" cy="622.34" r="1.3" fill="#46ff0a" opacity="0.45" filter="url(#b1)"/>
<circle cx="613.18" cy="627.60" r="1.3" fill="#46ff0a" opacity="0.45" filter="url(#b1)"/>
<circle cx="618.43" cy="631.10" r="1.3" fill="#46ff0a" opacity="0.45" filter="url(#b1)"/>
<circle cx="620.19" cy="636.36" r="1.3" fill="#46ff0a" opacity="0.45" filter="url(#b1)"/>
<circle cx="633.33" cy="638.98" r="1.3" fill="#46ff0a" opacity="0.45" filter="url(#b1)"/>
<circle cx="642.08" cy="637.23" r="1.3" fill="#46ff0a" opacity="0.45" filter="url(#b1)"/>
<circle cx="649.09" cy="629.35" r="1.3" fill="#46ff0a" opacity="0.45" filter="url(#b1)"/>
<circle cx="624.57" cy="610.08" r="1.3" fill="#46ff0a" opacity="0.45" filter="url(#b1)"/>
<circle cx="631.57" cy="609.20" r="1.3" fill="#46ff0a" opacity="0.45" filter="url(#b1)"/>
<circle cx="638.58" cy="618.84" r="1.3" fill="#46ff0a" opacity="0.45" filter="url(#b1)"/>
</g>
<text x="600.90" y="574.30" font-size="12.3" text-anchor="start" fill="#fff" font-weight="bold">20:00</text>
<rect x="651.60" y="564.4" width="27.8" height="3.4" fill="#fff"/>
<text x="0" y="0" font-size="15.8" font-weight="bold" stroke="#000" stroke-width="0.35" transform="translate(1.60 677.8) scale(0.822 1)">G</text>
<path d="M38.2 691.5V892.4H190.4" stroke="#333" stroke-width="1" fill="none"/>
<line x1="35.2" y1="893.40" x2="38.2" y2="893.40" stroke="#333" stroke-width="1"/>
<text x="35.30" y="896.80" font-size="9.5" text-anchor="end" fill="#222">0</text>
<line x1="35.2" y1="853.64" x2="38.2" y2="853.64" stroke="#333" stroke-width="1"/>
<text x="35.30" y="857.04" font-size="9.5" text-anchor="end" fill="#222">20</text>
<line x1="35.2" y1="813.88" x2="38.2" y2="813.88" stroke="#333" stroke-width="1"/>
<text x="35.30" y="817.28" font-size="9.5" text-anchor="end" fill="#222">40</text>
<line x1="35.2" y1="774.12" x2="38.2" y2="774.12" stroke="#333" stroke-width="1"/>
<text x="35.30" y="777.52" font-size="9.5" text-anchor="end" fill="#222">60</text>
<line x1="35.2" y1="734.36" x2="38.2" y2="734.36" stroke="#333" stroke-width="1"/>
<text x="35.30" y="737.76" font-size="9.5" text-anchor="end" fill="#222">80</text>
<line x1="35.2" y1="694.60" x2="38.2" y2="694.60" stroke="#333" stroke-width="1"/>
<text x="35.30" y="698.00" font-size="9.5" text-anchor="end" fill="#222">100</text>
<rect x="45.8" y="891.01" width="46.2" height="1.39" fill="#a0a0a0" stroke="#444" stroke-width="0.8"/>
<rect x="137.2" y="714.48" width="46.2" height="177.92" fill="#a1fa9c" stroke="#444" stroke-width="0.8"/>
<line x1="68.9" y1="892.4" x2="68.9" y2="895.4" stroke="#333"/>
<line x1="160.3" y1="892.4" x2="160.3" y2="895.4" stroke="#333"/>
<path d="M68.9 888.0V893.4M66.4 888.0H71.4M66.4 893.4H71.4" stroke="#222" stroke-width="0.8" fill="none"/>
<circle cx="59.7" cy="886.8" r="1.6" fill="#111"/>
<circle cx="68.5" cy="892.8" r="1.6" fill="#111"/>
<circle cx="77.7" cy="893.2" r="1.6" fill="#111"/>
<path d="M160.3 707.5V721.4M157.8 707.5H162.8M157.8 721.4H162.8" stroke="#222" stroke-width="0.8" fill="none"/>
<circle cx="151.2" cy="701.6" r="1.6" fill="#111"/>
<circle cx="160.3" cy="714.5" r="1.6" fill="#111"/>
<circle cx="169.5" cy="728.4" r="1.6" fill="#111"/>
<text x="70.30" y="908.50" font-size="12.3" text-anchor="middle" fill="#000">Dead SCs</text>
<text x="160.20" y="908.50" font-size="12.3" text-anchor="middle" fill="#000">Active SCs</text>
<text x="16.5" y="861.6" font-size="12.45" transform="rotate(-90 16.5 861.6)">N<tspan font-size="8.3" dy="-3.6">PFU</tspan><tspan dy="3.6"> Per 100 microliters</tspan></text>
<text x="0" y="0" font-size="15.8" font-weight="bold" stroke="#000" stroke-width="0.35" transform="translate(220.30 677.7) scale(0.832 1)">H</text>
<line x1="305.6" y1="678.1" x2="305.6" y2="880.2" stroke="#bbb" stroke-width="0.7" stroke-dasharray="2 1.5"/>
<line x1="356.9" y1="678.1" x2="356.9" y2="880.2" stroke="#bbb" stroke-width="0.7" stroke-dasharray="2 1.5"/>
<line x1="408.8" y1="678.1" x2="408.8" y2="880.2" stroke="#bbb" stroke-width="0.7" stroke-dasharray="2 1.5"/>
<line x1="460.4" y1="678.1" x2="460.4" y2="880.2" stroke="#bbb" stroke-width="0.7" stroke-dasharray="2 1.5"/>
<rect x="264.40" y="875.35" width="15.2" height="4.85" fill="#eeefef" stroke="#b5b5b5" stroke-width="0.8"/>
<rect x="280.40" y="863.43" width="15.2" height="16.77" fill="#eeefef" stroke="#b5b5b5" stroke-width="0.8"/>
<rect x="315.90" y="700.74" width="15.2" height="48.50" fill="#eeefef" stroke="#b5b5b5" stroke-width="0.8"/>
<rect x="331.40" y="873.53" width="15.2" height="6.67" fill="#eeefef" stroke="#b5b5b5" stroke-width="0.8"/>
<rect x="367.20" y="705.18" width="15.2" height="52.75" fill="#eeefef" stroke="#b5b5b5" stroke-width="0.8"/>
<rect x="382.60" y="870.50" width="15.2" height="9.70" fill="#eeefef" stroke="#b5b5b5" stroke-width="0.8"/>
<rect x="418.20" y="703.97" width="15.2" height="97.82" fill="#eeefef" stroke="#b5b5b5" stroke-width="0.8"/>
<rect x="433.60" y="873.13" width="15.2" height="7.07" fill="#eeefef" stroke="#b5b5b5" stroke-width="0.8"/>
<rect x="469.20" y="690.23" width="15.2" height="189.97" fill="#eeefef" stroke="#b5b5b5" stroke-width="0.8"/>
<rect x="484.40" y="872.12" width="15.2" height="8.08" fill="#eeefef" stroke="#b5b5b5" stroke-width="0.8"/>
<path d="M272 875.35V868.68M268.2 868.68H275.8" stroke="#333" stroke-width="0.9" fill="none"/>
<line x1="264.40" y1="879.39" x2="279.60" y2="879.39" stroke="#ff8c2a" stroke-width="1.1"/>
<path d="M288 863.43V845.84M284.2 845.84H291.8" stroke="#333" stroke-width="0.9" fill="none"/>
<line x1="280.40" y1="878.18" x2="295.60" y2="878.18" stroke="#ff8c2a" stroke-width="1.1"/>
<path d="M323.5 700.74V678.10M319.7 678.10H327.3" stroke="#333" stroke-width="0.9" fill="none"/>
<path d="M323.5 749.24V802.39M319.7 802.39H327.3" stroke="#333" stroke-width="0.9" fill="none"/>
<line x1="315.90" y1="716.50" x2="331.10" y2="716.50" stroke="#ff8c2a" stroke-width="1.1"/>
<path d="M339 873.53V864.03M335.2 864.03H342.8" stroke="#333" stroke-width="0.9" fill="none"/>
<line x1="331.40" y1="879.80" x2="346.60" y2="879.80" stroke="#ff8c2a" stroke-width="1.1"/>
<path d="M374.8 705.18V678.10M371.0 678.10H378.6" stroke="#333" stroke-width="0.9" fill="none"/>
<path d="M374.8 757.93V835.33M371.0 835.33H378.6" stroke="#333" stroke-width="0.9" fill="none"/>
<line x1="367.20" y1="730.65" x2="382.40" y2="730.65" stroke="#ff8c2a" stroke-width="1.1"/>
<path d="M390.2 870.50V859.99M386.4 859.99H394.0" stroke="#333" stroke-width="0.9" fill="none"/>
<line x1="382.60" y1="879.80" x2="397.80" y2="879.80" stroke="#ff8c2a" stroke-width="1.1"/>
<path d="M425.8 703.97V678.10M422.0 678.10H429.6" stroke="#333" stroke-width="0.9" fill="none"/>
<path d="M425.8 801.79V880.20M422.0 880.20H429.6" stroke="#333" stroke-width="0.9" fill="none"/>
<line x1="418.20" y1="722.56" x2="433.40" y2="722.56" stroke="#ff8c2a" stroke-width="1.1"/>
<line x1="433.60" y1="880.20" x2="448.80" y2="880.20" stroke="#ff8c2a" stroke-width="1.1"/>
<path d="M476.8 690.23V678.10M473.0 678.10H480.6" stroke="#333" stroke-width="0.9" fill="none"/>
<line x1="469.20" y1="752.47" x2="484.40" y2="752.47" stroke="#ff8c2a" stroke-width="1.1"/>
<line x1="484.40" y1="880.20" x2="499.60" y2="880.20" stroke="#ff8c2a" stroke-width="1.1"/>
<g fill="#3987bd" stroke="#222" stroke-width="0.55"><circle cx="276.19" cy="842.72" r="1.35"/><circle cx="269.66" cy="856.25" r="1.35"/><circle cx="275.72" cy="854.57" r="1.35"/><circle cx="271.06" cy="864.37" r="1.35"/><circle cx="273.67" cy="864.37" r="1.35"/><circle cx="274.79" cy="867.16" r="1.35"/><circle cx="271.99" cy="869.03" r="1.35"/><circle cx="275.26" cy="869.96" r="1.35"/><circle cx="269.19" cy="872.29" r="1.35"/><circle cx="272.46" cy="873.69" r="1.35"/><circle cx="266.86" cy="876.49" r="1.35"/><circle cx="269.19" cy="876.96" r="1.35"/><circle cx="271.06" cy="877.43" r="1.35"/><circle cx="273.86" cy="876.96" r="1.35"/><circle cx="276.19" cy="876.49" r="1.35"/><circle cx="267.79" cy="878.82" r="1.35"/><circle cx="270.13" cy="879.29" r="1.35"/><circle cx="272.93" cy="878.82" r="1.35"/><circle cx="275.26" cy="878.82" r="1.35"/><circle cx="267.33" cy="880.20" r="1.35"/><circle cx="269.19" cy="880.20" r="1.35"/><circle cx="271.99" cy="880.20" r="1.35"/><circle cx="274.32" cy="880.20" r="1.35"/><circle cx="276.66" cy="880.20" r="1.35"/><circle cx="268.26" cy="880.20" r="1.35"/><circle cx="270.59" cy="880.20" r="1.35"/><circle cx="272.93" cy="880.20" r="1.35"/><circle cx="275.26" cy="880.20" r="1.35"/><circle cx="277.12" cy="880.20" r="1.35"/><circle cx="266.40" cy="880.20" r="1.35"/><circle cx="270.13" cy="874.63" r="1.35"/><circle cx="273.86" cy="874.63" r="1.35"/><circle cx="271.99" cy="871.36" r="1.35"/><circle cx="268.73" cy="875.37" r="1.35"/></g>
<g fill="#ff8e2a" stroke="#222" stroke-width="0.55"><circle cx="284.31" cy="844.96" r="1.35"/><circle cx="283.37" cy="853.36" r="1.35"/><circle cx="290.46" cy="854.57" r="1.35"/><circle cx="288.60" cy="859.70" r="1.35"/><circle cx="285.99" cy="862.03" r="1.35"/><circle cx="288.78" cy="862.03" r="1.35"/><circle cx="291.12" cy="864.18" r="1.35"/><circle cx="285.05" cy="866.23" r="1.35"/><circle cx="288.78" cy="866.42" r="1.35"/><circle cx="291.12" cy="867.16" r="1.35"/><circle cx="284.12" cy="868.56" r="1.35"/><circle cx="286.45" cy="869.03" r="1.35"/><circle cx="289.72" cy="869.50" r="1.35"/><circle cx="285.99" cy="870.43" r="1.35"/><circle cx="286.92" cy="871.83" r="1.35"/><circle cx="291.12" cy="872.29" r="1.35"/><circle cx="284.59" cy="873.69" r="1.35"/><circle cx="287.38" cy="873.69" r="1.35"/><circle cx="285.99" cy="875.09" r="1.35"/><circle cx="287.85" cy="876.03" r="1.35"/><circle cx="285.05" cy="876.96" r="1.35"/><circle cx="287.38" cy="878.36" r="1.35"/><circle cx="283.19" cy="880.20" r="1.35"/><circle cx="285.52" cy="880.20" r="1.35"/><circle cx="287.85" cy="880.20" r="1.35"/><circle cx="290.18" cy="880.20" r="1.35"/><circle cx="283.19" cy="880.20" r="1.35"/><circle cx="285.99" cy="880.20" r="1.35"/><circle cx="288.78" cy="880.20" r="1.35"/><circle cx="291.12" cy="880.20" r="1.35"/><circle cx="287.58" cy="690.77" r="1.35"/><circle cx="286.40" cy="692.43" r="1.35"/><circle cx="285.69" cy="724.77" r="1.35"/><circle cx="284.98" cy="741.29" r="1.35"/><circle cx="283.56" cy="756.40" r="1.35"/><circle cx="288.05" cy="768.21" r="1.35"/><circle cx="282.86" cy="797.48" r="1.35"/><circle cx="289.94" cy="821.09" r="1.35"/></g>
<g fill="#45ab45" stroke="#222" stroke-width="0.55"><circle cx="326.93" cy="677.69" r="1.35"/><circle cx="320.17" cy="681.25" r="1.35"/><circle cx="321.60" cy="689.54" r="1.35"/><circle cx="325.39" cy="689.54" r="1.35"/><circle cx="325.15" cy="693.10" r="1.35"/><circle cx="321.60" cy="695.47" r="1.35"/><circle cx="326.93" cy="695.47" r="1.35"/><circle cx="321.36" cy="697.13" r="1.35"/><circle cx="318.99" cy="700.21" r="1.35"/><circle cx="322.19" cy="700.69" r="1.35"/><circle cx="322.19" cy="707.56" r="1.35"/><circle cx="324.20" cy="706.61" r="1.35"/><circle cx="327.29" cy="706.97" r="1.35"/><circle cx="321.00" cy="710.17" r="1.35"/><circle cx="324.91" cy="710.53" r="1.35"/><circle cx="327.76" cy="709.70" r="1.35"/><circle cx="326.10" cy="713.49" r="1.35"/><circle cx="327.52" cy="716.45" r="1.35"/><circle cx="319.82" cy="717.40" r="1.35"/><circle cx="322.54" cy="720.60" r="1.35"/><circle cx="320.17" cy="724.39" r="1.35"/><circle cx="324.91" cy="724.75" r="1.35"/><circle cx="320.65" cy="727.95" r="1.35"/><circle cx="321.00" cy="730.91" r="1.35"/><circle cx="323.37" cy="731.03" r="1.35"/><circle cx="327.52" cy="732.22" r="1.35"/><circle cx="323.14" cy="736.60" r="1.35"/><circle cx="320.17" cy="739.80" r="1.35"/><circle cx="321.60" cy="744.90" r="1.35"/><circle cx="327.52" cy="743.12" r="1.35"/><circle cx="325.39" cy="749.05" r="1.35"/><circle cx="328.12" cy="749.41" r="1.35"/><circle cx="319.22" cy="751.42" r="1.35"/><circle cx="324.56" cy="763.51" r="1.35"/><circle cx="323.61" cy="766.83" r="1.35"/><circle cx="323.14" cy="775.13" r="1.35"/><circle cx="319.51" cy="782.36" r="1.35"/><circle cx="320.14" cy="787.66" r="1.35"/><circle cx="327.45" cy="802.55" r="1.35"/><circle cx="323.67" cy="864.36" r="1.35"/><circle cx="319.51" cy="880.20" r="1.35"/><circle cx="322.03" cy="880.20" r="1.35"/></g>
<g fill="#da4041" stroke="#222" stroke-width="0.55"><circle cx="335.23" cy="692.39" r="1.35"/><circle cx="337.24" cy="693.93" r="1.35"/><circle cx="340.56" cy="725.70" r="1.35"/><circle cx="340.56" cy="760.43" r="1.35"/><circle cx="334.65" cy="824.24" r="1.35"/><circle cx="335.02" cy="840.01" r="1.35"/><circle cx="338.81" cy="857.04" r="1.35"/><circle cx="340.32" cy="855.78" r="1.35"/><circle cx="335.91" cy="863.60" r="1.35"/><circle cx="342.85" cy="862.72" r="1.35"/><circle cx="336.54" cy="869.66" r="1.35"/><circle cx="336.29" cy="870.92" r="1.35"/><circle cx="340.95" cy="871.93" r="1.35"/><circle cx="337.80" cy="874.07" r="1.35"/><circle cx="335.02" cy="875.71" r="1.35"/><circle cx="338.43" cy="876.60" r="1.35"/><circle cx="340.95" cy="877.86" r="1.35"/><circle cx="336.54" cy="878.49" r="1.35"/><circle cx="334.01" cy="880.20" r="1.35"/><circle cx="337.17" cy="880.20" r="1.35"/><circle cx="340.32" cy="880.20" r="1.35"/><circle cx="342.85" cy="880.20" r="1.35"/><circle cx="335.28" cy="880.20" r="1.35"/><circle cx="338.05" cy="872.81" r="1.35"/><circle cx="339.69" cy="874.71" r="1.35"/><circle cx="335.91" cy="877.48" r="1.35"/><circle cx="341.58" cy="879.75" r="1.35"/><circle cx="339.06" cy="879.75" r="1.35"/></g>
<g fill="#a079c4" stroke="#222" stroke-width="0.55"><circle cx="371.17" cy="681.48" r="1.35"/><circle cx="378.29" cy="679.35" r="1.35"/><circle cx="369.99" cy="685.99" r="1.35"/><circle cx="371.17" cy="685.28" r="1.35"/><circle cx="375.56" cy="690.37" r="1.35"/><circle cx="377.10" cy="690.37" r="1.35"/><circle cx="374.73" cy="694.52" r="1.35"/><circle cx="371.41" cy="698.67" r="1.35"/><circle cx="373.54" cy="701.04" r="1.35"/><circle cx="374.97" cy="700.21" r="1.35"/><circle cx="371.41" cy="704.24" r="1.35"/><circle cx="375.20" cy="703.41" r="1.35"/><circle cx="377.57" cy="707.32" r="1.35"/><circle cx="371.77" cy="708.98" r="1.35"/><circle cx="373.78" cy="712.30" r="1.35"/><circle cx="377.10" cy="716.45" r="1.35"/><circle cx="379.47" cy="716.10" r="1.35"/><circle cx="373.78" cy="726.77" r="1.35"/><circle cx="377.10" cy="726.77" r="1.35"/><circle cx="378.76" cy="726.77" r="1.35"/><circle cx="371.41" cy="730.08" r="1.35"/><circle cx="374.02" cy="730.91" r="1.35"/><circle cx="372.83" cy="732.69" r="1.35"/><circle cx="370.22" cy="735.77" r="1.35"/><circle cx="374.37" cy="736.60" r="1.35"/><circle cx="378.29" cy="734.83" r="1.35"/><circle cx="377.10" cy="738.15" r="1.35"/><circle cx="377.57" cy="738.97" r="1.35"/><circle cx="374.02" cy="744.55" r="1.35"/><circle cx="373.78" cy="747.87" r="1.35"/><circle cx="370.46" cy="750.83" r="1.35"/><circle cx="371.41" cy="755.21" r="1.35"/><circle cx="369.63" cy="763.04" r="1.35"/><circle cx="371.41" cy="761.85" r="1.35"/><circle cx="376.18" cy="777.32" r="1.35"/><circle cx="372.15" cy="779.46" r="1.35"/><circle cx="371.77" cy="783.62" r="1.35"/><circle cx="373.03" cy="787.66" r="1.35"/><circle cx="377.70" cy="792.96" r="1.35"/><circle cx="378.08" cy="800.02" r="1.35"/><circle cx="375.93" cy="835.60" r="1.35"/><circle cx="376.18" cy="853.26" r="1.35"/><circle cx="373.66" cy="880.20" r="1.35"/><circle cx="378.71" cy="880.20" r="1.35"/></g>
<g fill="#996a60" stroke="#222" stroke-width="0.55"><circle cx="387.06" cy="681.25" r="1.35"/><circle cx="393.34" cy="690.73" r="1.35"/><circle cx="390.97" cy="733.40" r="1.35"/><circle cx="391.80" cy="742.53" r="1.35"/><circle cx="387.41" cy="744.90" r="1.35"/><circle cx="393.21" cy="828.28" r="1.35"/><circle cx="390.06" cy="830.55" r="1.35"/><circle cx="385.39" cy="833.33" r="1.35"/><circle cx="389.81" cy="841.91" r="1.35"/><circle cx="387.79" cy="854.52" r="1.35"/><circle cx="391.95" cy="859.57" r="1.35"/><circle cx="388.17" cy="860.20" r="1.35"/><circle cx="388.55" cy="870.92" r="1.35"/><circle cx="389.43" cy="870.29" r="1.35"/><circle cx="393.85" cy="872.81" r="1.35"/><circle cx="388.17" cy="875.97" r="1.35"/><circle cx="391.32" cy="878.24" r="1.35"/><circle cx="385.01" cy="880.20" r="1.35"/><circle cx="388.17" cy="880.20" r="1.35"/><circle cx="391.32" cy="880.20" r="1.35"/><circle cx="393.85" cy="880.20" r="1.35"/><circle cx="386.91" cy="879.75" r="1.35"/></g>
<g fill="#e687c9" stroke="#222" stroke-width="0.55"><circle cx="428.15" cy="680.53" r="1.35"/><circle cx="428.15" cy="684.80" r="1.35"/><circle cx="421.63" cy="690.73" r="1.35"/><circle cx="428.74" cy="690.73" r="1.35"/><circle cx="421.63" cy="693.57" r="1.35"/><circle cx="429.34" cy="693.93" r="1.35"/><circle cx="425.78" cy="694.76" r="1.35"/><circle cx="422.82" cy="696.30" r="1.35"/><circle cx="425.19" cy="696.89" r="1.35"/><circle cx="426.02" cy="698.67" r="1.35"/><circle cx="421.63" cy="701.40" r="1.35"/><circle cx="424.00" cy="703.06" r="1.35"/><circle cx="422.82" cy="707.56" r="1.35"/><circle cx="425.54" cy="709.34" r="1.35"/><circle cx="426.97" cy="710.17" r="1.35"/><circle cx="430.29" cy="710.17" r="1.35"/><circle cx="424.00" cy="711.71" r="1.35"/><circle cx="428.39" cy="714.44" r="1.35"/><circle cx="421.28" cy="716.10" r="1.35"/><circle cx="423.65" cy="716.81" r="1.35"/><circle cx="421.99" cy="719.42" r="1.35"/><circle cx="423.17" cy="720.36" r="1.35"/><circle cx="425.54" cy="721.55" r="1.35"/><circle cx="423.65" cy="722.73" r="1.35"/><circle cx="425.78" cy="722.73" r="1.35"/><circle cx="428.15" cy="724.16" r="1.35"/><circle cx="422.82" cy="726.53" r="1.35"/><circle cx="427.91" cy="727.71" r="1.35"/><circle cx="429.34" cy="728.90" r="1.35"/><circle cx="424.36" cy="731.27" r="1.35"/><circle cx="429.57" cy="756.16" r="1.35"/><circle cx="421.99" cy="762.09" r="1.35"/><circle cx="421.99" cy="772.76" r="1.35"/><circle cx="428.74" cy="773.00" r="1.35"/><circle cx="424.00" cy="776.31" r="1.35"/><circle cx="427.55" cy="803.81" r="1.35"/><circle cx="429.70" cy="815.16" r="1.35"/><circle cx="425.03" cy="830.80" r="1.35"/><circle cx="423.39" cy="852.63" r="1.35"/><circle cx="420.62" cy="867.14" r="1.35"/><circle cx="421.88" cy="875.34" r="1.35"/><circle cx="420.62" cy="880.20" r="1.35"/><circle cx="423.77" cy="880.20" r="1.35"/><circle cx="426.92" cy="880.20" r="1.35"/></g>
<g fill="#8e8e8e" stroke="#222" stroke-width="0.55"><circle cx="439.41" cy="684.80" r="1.35"/><circle cx="442.38" cy="681.48" r="1.35"/><circle cx="444.15" cy="680.89" r="1.35"/><circle cx="445.34" cy="680.53" r="1.35"/><circle cx="444.15" cy="683.26" r="1.35"/><circle cx="444.15" cy="686.22" r="1.35"/><circle cx="444.15" cy="688.60" r="1.35"/><circle cx="444.15" cy="690.97" r="1.35"/><circle cx="438.82" cy="693.10" r="1.35"/><circle cx="444.51" cy="696.30" r="1.35"/><circle cx="439.77" cy="707.32" r="1.35"/><circle cx="436.69" cy="711.12" r="1.35"/><circle cx="437.04" cy="733.40" r="1.35"/><circle cx="443.32" cy="740.52" r="1.35"/><circle cx="437.04" cy="771.81" r="1.35"/><circle cx="440.17" cy="831.56" r="1.35"/><circle cx="438.91" cy="874.07" r="1.35"/><circle cx="444.58" cy="871.93" r="1.35"/><circle cx="444.58" cy="874.71" r="1.35"/><circle cx="435.12" cy="880.20" r="1.35"/><circle cx="437.65" cy="880.20" r="1.35"/><circle cx="440.17" cy="880.20" r="1.35"/><circle cx="442.69" cy="880.20" r="1.35"/><circle cx="445.21" cy="880.20" r="1.35"/></g>
<g fill="#c4c43c" stroke="#222" stroke-width="0.55"><circle cx="473.41" cy="679.11" r="1.35"/><circle cx="481.12" cy="677.93" r="1.35"/><circle cx="476.97" cy="680.89" r="1.35"/><circle cx="479.93" cy="680.53" r="1.35"/><circle cx="475.78" cy="682.43" r="1.35"/><circle cx="478.74" cy="682.67" r="1.35"/><circle cx="474.60" cy="685.28" r="1.35"/><circle cx="476.97" cy="685.99" r="1.35"/><circle cx="479.93" cy="684.80" r="1.35"/><circle cx="473.41" cy="689.78" r="1.35"/><circle cx="475.78" cy="689.54" r="1.35"/><circle cx="478.74" cy="688.60" r="1.35"/><circle cx="481.12" cy="689.19" r="1.35"/><circle cx="472.82" cy="690.97" r="1.35"/><circle cx="479.10" cy="691.56" r="1.35"/><circle cx="473.17" cy="693.93" r="1.35"/><circle cx="478.74" cy="694.29" r="1.35"/><circle cx="480.52" cy="693.93" r="1.35"/><circle cx="479.34" cy="696.30" r="1.35"/><circle cx="481.12" cy="697.49" r="1.35"/><circle cx="474.00" cy="703.41" r="1.35"/><circle cx="480.52" cy="704.24" r="1.35"/><circle cx="473.41" cy="705.78" r="1.35"/><circle cx="475.54" cy="707.32" r="1.35"/><circle cx="480.76" cy="712.54" r="1.35"/><circle cx="476.02" cy="720.60" r="1.35"/><circle cx="474.83" cy="728.66" r="1.35"/><circle cx="480.29" cy="727.48" r="1.35"/><circle cx="481.12" cy="728.90" r="1.35"/><circle cx="480.52" cy="736.60" r="1.35"/><circle cx="472.82" cy="741.70" r="1.35"/><circle cx="476.37" cy="742.18" r="1.35"/><circle cx="481.12" cy="750.47" r="1.35"/><circle cx="473.41" cy="752.61" r="1.35"/><circle cx="475.54" cy="753.79" r="1.35"/><circle cx="477.56" cy="753.79" r="1.35"/><circle cx="479.10" cy="755.93" r="1.35"/><circle cx="480.29" cy="755.57" r="1.35"/><circle cx="479.57" cy="761.85" r="1.35"/><circle cx="475.54" cy="766.83" r="1.35"/><circle cx="478.39" cy="767.42" r="1.35"/><circle cx="475.41" cy="778.58" r="1.35"/><circle cx="477.93" cy="785.77" r="1.35"/><circle cx="477.55" cy="811.63" r="1.35"/><circle cx="476.04" cy="816.05" r="1.35"/><circle cx="478.81" cy="843.17" r="1.35"/><circle cx="477.93" cy="846.32" r="1.35"/><circle cx="478.81" cy="871.17" r="1.35"/><circle cx="472.51" cy="877.23" r="1.35"/><circle cx="473.14" cy="880.20" r="1.35"/><circle cx="475.66" cy="880.20" r="1.35"/><circle cx="478.18" cy="880.20" r="1.35"/><circle cx="480.71" cy="880.20" r="1.35"/></g>
<g fill="#32c5d4" stroke="#222" stroke-width="0.55"><circle cx="489.06" cy="680.53" r="1.35"/><circle cx="492.73" cy="687.17" r="1.35"/><circle cx="495.70" cy="709.70" r="1.35"/><circle cx="493.56" cy="762.33" r="1.35"/><circle cx="492.82" cy="799.27" r="1.35"/><circle cx="490.55" cy="809.49" r="1.35"/><circle cx="492.82" cy="829.92" r="1.35"/><circle cx="491.05" cy="849.48" r="1.35"/><circle cx="495.21" cy="853.89" r="1.35"/><circle cx="488.91" cy="858.94" r="1.35"/><circle cx="491.05" cy="867.77" r="1.35"/><circle cx="495.85" cy="868.40" r="1.35"/><circle cx="488.91" cy="869.66" r="1.35"/><circle cx="490.17" cy="871.55" r="1.35"/><circle cx="492.06" cy="872.81" r="1.35"/><circle cx="493.95" cy="874.07" r="1.35"/><circle cx="490.80" cy="875.34" r="1.35"/><circle cx="492.69" cy="876.60" r="1.35"/><circle cx="495.21" cy="877.23" r="1.35"/><circle cx="490.17" cy="878.24" r="1.35"/><circle cx="493.32" cy="878.49" r="1.35"/><circle cx="488.28" cy="880.20" r="1.35"/><circle cx="490.80" cy="880.20" r="1.35"/><circle cx="493.32" cy="880.20" r="1.35"/><circle cx="495.85" cy="880.20" r="1.35"/><circle cx="489.54" cy="879.75" r="1.35"/></g>
<line x1="415.3" y1="687.2" x2="417.6" y2="687.2" stroke="#222" stroke-width="0.9"/>
<path d="M257.3 678.1H506.8V880.2M257.3 678.1V880.2H506.8" stroke="#333" stroke-width="1" fill="none"/>
<line x1="254.3" y1="839.78" x2="257.3" y2="839.78" stroke="#333" stroke-width="1"/>
<text x="252.50" y="843.08" font-size="9.3" text-anchor="end" fill="#222">0.2</text>
<line x1="254.3" y1="799.36" x2="257.3" y2="799.36" stroke="#333" stroke-width="1"/>
<text x="252.50" y="802.66" font-size="9.3" text-anchor="end" fill="#222">0.4</text>
<line x1="254.3" y1="758.94" x2="257.3" y2="758.94" stroke="#333" stroke-width="1"/>
<text x="252.50" y="762.24" font-size="9.3" text-anchor="end" fill="#222">0.6</text>
<line x1="254.3" y1="718.52" x2="257.3" y2="718.52" stroke="#333" stroke-width="1"/>
<text x="252.50" y="721.82" font-size="9.3" text-anchor="end" fill="#222">0.8</text>
<line x1="254.3" y1="678.10" x2="257.3" y2="678.10" stroke="#333" stroke-width="1"/>
<text x="252.50" y="681.40" font-size="9.3" text-anchor="end" fill="#222">1.0</text>
<text x="230.00" y="778.05" font-size="12.45" text-anchor="middle" fill="#000" transform="rotate(-90 230.0 778.05)">Liposome Leak Ratio</text>
<text x="223.00" y="896.00" font-size="12.3" text-anchor="start" fill="#000">holin</text>
<text x="223.00" y="910.00" font-size="12.3" text-anchor="start" fill="#000">RdLPS</text>
<text x="281.40" y="896.00" font-size="12.3" text-anchor="middle" fill="#000">NC</text>
<text x="329.60" y="896.00" font-size="12.3" text-anchor="middle" fill="#000">T7</text>
<text x="383.00" y="896.00" font-size="12.3" text-anchor="middle" fill="#000">ICP3</text>
<text x="432.50" y="896.00" font-size="12.3" text-anchor="middle" fill="#000">φ11</text>
<text x="483.80" y="896.00" font-size="12.3" text-anchor="middle" fill="#000">PRD1</text>
<text x="272.00" y="910.00" font-size="12.3" text-anchor="middle" fill="#000">-</text>
<text x="323.50" y="910.00" font-size="12.3" text-anchor="middle" fill="#000">-</text>
<text x="374.80" y="910.00" font-size="12.3" text-anchor="middle" fill="#000">-</text>
<text x="425.80" y="910.00" font-size="12.3" text-anchor="middle" fill="#000">-</text>
<text x="476.80" y="910.00" font-size="12.3" text-anchor="middle" fill="#000">-</text>
<text x="288.00" y="910.00" font-size="12.3" text-anchor="middle" fill="#000">+</text>
<text x="339.00" y="910.00" font-size="12.3" text-anchor="middle" fill="#000">+</text>
<text x="390.20" y="910.00" font-size="12.3" text-anchor="middle" fill="#000">+</text>
<text x="441.20" y="910.00" font-size="12.3" text-anchor="middle" fill="#000">+</text>
<text x="492.00" y="910.00" font-size="12.3" text-anchor="middle" fill="#000">+</text>
<text x="594.60" y="698.00" font-size="12.5" text-anchor="middle" fill="#000">- LPS</text>
<path d="M531.20 718.70L532.00 713.20H534.80L535.50 716.20H537.20L538.00 711.20H541.60L542.90 718.70Z" fill="#a0a0a0" stroke="#333" stroke-width="0.6" stroke-linejoin="round"/>
<polygon points="542.40,709.60 539.80,711.10 537.20,709.60 537.20,706.60 539.80,705.10 542.40,706.60" fill="#a0a0a0" stroke="#333" stroke-width="0.6"/>
<path d="M569.40 718.70L570.20 713.20H573.00L573.70 716.20H575.40L576.20 711.20H579.80L581.10 718.70Z" fill="#a0a0a0" stroke="#333" stroke-width="0.6" stroke-linejoin="round"/>
<polygon points="580.60,709.60 578.00,711.10 575.40,709.60 575.40,706.60 578.00,705.10 580.60,706.60" fill="#a0a0a0" stroke="#333" stroke-width="0.6"/>
<path d="M615.90 718.70L616.70 713.20H619.50L620.20 716.20H621.90L622.70 711.20H626.30L627.60 718.70Z" fill="#a0a0a0" stroke="#333" stroke-width="0.6" stroke-linejoin="round"/>
<polygon points="627.10,709.60 624.50,711.10 621.90,709.60 621.90,706.60 624.50,705.10 627.10,706.60" fill="#a0a0a0" stroke="#333" stroke-width="0.6"/>
<path d="M661.40 718.70L662.20 713.20H665.00L665.70 716.20H667.40L668.20 711.20H671.80L673.10 718.70Z" fill="#a0a0a0" stroke="#333" stroke-width="0.6" stroke-linejoin="round"/>
<polygon points="672.60,709.60 670.00,711.10 667.40,709.60 667.40,706.60 670.00,705.10 672.60,706.60" fill="#a0a0a0" stroke="#333" stroke-width="0.6"/>
<path d="M526.10 725.15L526.10 727.95Q526.20 732.80 527.05 734.80M526.10 744.45L526.10 741.65Q526.20 736.80 527.05 734.80M528.70 725.15L528.70 727.95Q528.60 732.80 527.75 734.80M528.70 744.45L528.70 741.65Q528.60 736.80 527.75 734.80M532.53 725.15L532.53 727.95Q532.63 732.80 533.48 734.80M532.53 744.45L532.53 741.65Q532.63 736.80 533.48 734.80M535.13 725.15L535.13 727.95Q535.03 732.80 534.18 734.80M535.13 744.45L535.13 741.65Q535.03 736.80 534.18 734.80M538.96 725.15L538.96 727.95Q539.06 732.80 539.91 734.80M538.96 744.45L538.96 741.65Q539.06 736.80 539.91 734.80M541.56 725.15L541.56 727.95Q541.46 732.80 540.61 734.80M541.56 744.45L541.56 741.65Q541.46 736.80 540.61 734.80M545.39 725.15L545.39 727.95Q545.49 732.80 546.34 734.80M545.39 744.45L545.39 741.65Q545.49 736.80 546.34 734.80M547.99 725.15L547.99 727.95Q547.89 732.80 547.04 734.80M547.99 744.45L547.99 741.65Q547.89 736.80 547.04 734.80M551.82 725.15L551.82 727.95Q551.92 732.80 552.77 734.80M551.82 744.45L551.82 741.65Q551.92 736.80 552.77 734.80M554.42 725.15L554.42 727.95Q554.32 732.80 553.47 734.80M554.42 744.45L554.42 741.65Q554.32 736.80 553.47 734.80M558.25 725.15L558.25 727.95Q558.35 732.80 559.20 734.80M558.25 744.45L558.25 741.65Q558.35 736.80 559.20 734.80M560.85 725.15L560.85 727.95Q560.75 732.80 559.90 734.80M560.85 744.45L560.85 741.65Q560.75 736.80 559.90 734.80M564.68 725.15L564.68 727.95Q564.78 732.80 565.63 734.80M564.68 744.45L564.68 741.65Q564.78 736.80 565.63 734.80M567.28 725.15L567.28 727.95Q567.18 732.80 566.33 734.80M567.28 744.45L567.28 741.65Q567.18 736.80 566.33 734.80M571.11 725.15L571.11 727.95Q571.21 732.80 572.06 734.80M571.11 744.45L571.11 741.65Q571.21 736.80 572.06 734.80M573.71 725.15L573.71 727.95Q573.61 732.80 572.76 734.80M573.71 744.45L573.71 741.65Q573.61 736.80 572.76 734.80M577.54 725.15L577.54 727.95Q577.64 732.80 578.49 734.80M577.54 744.45L577.54 741.65Q577.64 736.80 578.49 734.80M580.14 725.15L580.14 727.95Q580.04 732.80 579.19 734.80M580.14 744.45L580.14 741.65Q580.04 736.80 579.19 734.80M583.97 725.15L583.97 727.95Q584.07 732.80 584.92 734.80M583.97 744.45L583.97 741.65Q584.07 736.80 584.92 734.80M586.57 725.15L586.57 727.95Q586.47 732.80 585.62 734.80M586.57 744.45L586.57 741.65Q586.47 736.80 585.62 734.80M590.40 725.15L590.40 727.95Q590.50 732.80 591.35 734.80M590.40 744.45L590.40 741.65Q590.50 736.80 591.35 734.80M593.00 725.15L593.00 727.95Q592.90 732.80 592.05 734.80M593.00 744.45L593.00 741.65Q592.90 736.80 592.05 734.80M596.83 725.15L596.83 727.95Q596.93 732.80 597.78 734.80M596.83 744.45L596.83 741.65Q596.93 736.80 597.78 734.80M599.43 725.15L599.43 727.95Q599.33 732.80 598.48 734.80M599.43 744.45L599.43 741.65Q599.33 736.80 598.48 734.80M603.27 725.15L603.27 727.95Q603.37 732.80 604.22 734.80M603.27 744.45L603.27 741.65Q603.37 736.80 604.22 734.80M605.87 725.15L605.87 727.95Q605.77 732.80 604.92 734.80M605.87 744.45L605.87 741.65Q605.77 736.80 604.92 734.80M609.70 725.15L609.70 727.95Q609.80 732.80 610.65 734.80M609.70 744.45L609.70 741.65Q609.80 736.80 610.65 734.80M612.30 725.15L612.30 727.95Q612.20 732.80 611.35 734.80M612.30 744.45L612.30 741.65Q612.20 736.80 611.35 734.80M616.13 725.15L616.13 727.95Q616.23 732.80 617.08 734.80M616.13 744.45L616.13 741.65Q616.23 736.80 617.08 734.80M618.73 725.15L618.73 727.95Q618.63 732.80 617.78 734.80M618.73 744.45L618.73 741.65Q618.63 736.80 617.78 734.80M622.56 725.15L622.56 727.95Q622.66 732.80 623.51 734.80M622.56 744.45L622.56 741.65Q622.66 736.80 623.51 734.80M625.16 725.15L625.16 727.95Q625.06 732.80 624.21 734.80M625.16 744.45L625.16 741.65Q625.06 736.80 624.21 734.80M628.99 725.15L628.99 727.95Q629.09 732.80 629.94 734.80M628.99 744.45L628.99 741.65Q629.09 736.80 629.94 734.80M631.59 725.15L631.59 727.95Q631.49 732.80 630.64 734.80M631.59 744.45L631.59 741.65Q631.49 736.80 630.64 734.80M635.42 725.15L635.42 727.95Q635.52 732.80 636.37 734.80M635.42 744.45L635.42 741.65Q635.52 736.80 636.37 734.80M638.02 725.15L638.02 727.95Q637.92 732.80 637.07 734.80M638.02 744.45L638.02 741.65Q637.92 736.80 637.07 734.80M641.85 725.15L641.85 727.95Q641.95 732.80 642.80 734.80M641.85 744.45L641.85 741.65Q641.95 736.80 642.80 734.80M644.45 725.15L644.45 727.95Q644.35 732.80 643.50 734.80M644.45 744.45L644.45 741.65Q644.35 736.80 643.50 734.80M648.28 725.15L648.28 727.95Q648.38 732.80 649.23 734.80M648.28 744.45L648.28 741.65Q648.38 736.80 649.23 734.80M650.88 725.15L650.88 727.95Q650.78 732.80 649.93 734.80M650.88 744.45L650.88 741.65Q650.78 736.80 649.93 734.80M654.71 725.15L654.71 727.95Q654.81 732.80 655.66 734.80M654.71 744.45L654.71 741.65Q654.81 736.80 655.66 734.80M657.31 725.15L657.31 727.95Q657.21 732.80 656.36 734.80M657.31 744.45L657.31 741.65Q657.21 736.80 656.36 734.80M661.14 725.15L661.14 727.95Q661.24 732.80 662.09 734.80M661.14 744.45L661.14 741.65Q661.24 736.80 662.09 734.80M663.74 725.15L663.74 727.95Q663.64 732.80 662.79 734.80M663.74 744.45L663.74 741.65Q663.64 736.80 662.79 734.80M667.57 725.15L667.57 727.95Q667.67 732.80 668.52 734.80M667.57 744.45L667.57 741.65Q667.67 736.80 668.52 734.80M670.17 725.15L670.17 727.95Q670.07 732.80 669.22 734.80M670.17 744.45L670.17 741.65Q670.07 736.80 669.22 734.80M674.00 725.15L674.00 727.95Q674.10 732.80 674.95 734.80M674.00 744.45L674.00 741.65Q674.10 736.80 674.95 734.80M676.60 725.15L676.60 727.95Q676.50 732.80 675.65 734.80M676.60 744.45L676.60 741.65Q676.50 736.80 675.65 734.80" stroke="#2a2a2a" stroke-width="0.75" fill="none"/>
<g stroke="#222" stroke-width="0.85"><circle cx="527.40" cy="722.4" r="2.75" fill="#a0a0a0"/><circle cx="527.40" cy="747.2" r="2.75" fill="#fff"/><circle cx="533.83" cy="722.4" r="2.75" fill="#a0a0a0"/><circle cx="533.83" cy="747.2" r="2.75" fill="#fff"/><circle cx="540.26" cy="722.4" r="2.75" fill="#a0a0a0"/><circle cx="540.26" cy="747.2" r="2.75" fill="#fff"/><circle cx="546.69" cy="722.4" r="2.75" fill="#a0a0a0"/><circle cx="546.69" cy="747.2" r="2.75" fill="#fff"/><circle cx="553.12" cy="722.4" r="2.75" fill="#fff"/><circle cx="553.12" cy="747.2" r="2.75" fill="#fff"/><circle cx="559.55" cy="722.4" r="2.75" fill="#fff"/><circle cx="559.55" cy="747.2" r="2.75" fill="#fff"/><circle cx="565.98" cy="722.4" r="2.75" fill="#a0a0a0"/><circle cx="565.98" cy="747.2" r="2.75" fill="#fff"/><circle cx="572.41" cy="722.4" r="2.75" fill="#a0a0a0"/><circle cx="572.41" cy="747.2" r="2.75" fill="#fff"/><circle cx="578.84" cy="722.4" r="2.75" fill="#a0a0a0"/><circle cx="578.84" cy="747.2" r="2.75" fill="#fff"/><circle cx="585.27" cy="722.4" r="2.75" fill="#a0a0a0"/><circle cx="585.27" cy="747.2" r="2.75" fill="#fff"/><circle cx="591.70" cy="722.4" r="2.75" fill="#fff"/><circle cx="591.70" cy="747.2" r="2.75" fill="#fff"/><circle cx="598.13" cy="722.4" r="2.75" fill="#fff"/><circle cx="598.13" cy="747.2" r="2.75" fill="#fff"/><circle cx="604.57" cy="722.4" r="2.75" fill="#fff"/><circle cx="604.57" cy="747.2" r="2.75" fill="#fff"/><circle cx="611.00" cy="722.4" r="2.75" fill="#a0a0a0"/><circle cx="611.00" cy="747.2" r="2.75" fill="#fff"/><circle cx="617.43" cy="722.4" r="2.75" fill="#a0a0a0"/><circle cx="617.43" cy="747.2" r="2.75" fill="#fff"/><circle cx="623.86" cy="722.4" r="2.75" fill="#a0a0a0"/><circle cx="623.86" cy="747.2" r="2.75" fill="#fff"/><circle cx="630.29" cy="722.4" r="2.75" fill="#a0a0a0"/><circle cx="630.29" cy="747.2" r="2.75" fill="#fff"/><circle cx="636.72" cy="722.4" r="2.75" fill="#fff"/><circle cx="636.72" cy="747.2" r="2.75" fill="#fff"/><circle cx="643.15" cy="722.4" r="2.75" fill="#fff"/><circle cx="643.15" cy="747.2" r="2.75" fill="#fff"/><circle cx="649.58" cy="722.4" r="2.75" fill="#fff"/><circle cx="649.58" cy="747.2" r="2.75" fill="#fff"/><circle cx="656.01" cy="722.4" r="2.75" fill="#a0a0a0"/><circle cx="656.01" cy="747.2" r="2.75" fill="#fff"/><circle cx="662.44" cy="722.4" r="2.75" fill="#a0a0a0"/><circle cx="662.44" cy="747.2" r="2.75" fill="#fff"/><circle cx="668.87" cy="722.4" r="2.75" fill="#a0a0a0"/><circle cx="668.87" cy="747.2" r="2.75" fill="#fff"/><circle cx="675.30" cy="722.4" r="2.75" fill="#a0a0a0"/><circle cx="675.30" cy="747.2" r="2.75" fill="#fff"/></g>
<text x="606.50" y="763.10" font-size="10.95" text-anchor="middle" fill="#000">bilayer RdLPS, POPC, PE-PEG</text>
<line x1="548.9" y1="783.7" x2="569.50" y2="783.70" stroke="#111" stroke-width="1.8"/>
<path d="M575.00 783.70L569.50 786.70L569.50 780.70Z" fill="#111"/>
<text x="579.70" y="788.00" font-size="12.22" text-anchor="start" fill="#33bb44">Leak</text>
<text x="596.50" y="819.90" font-size="12.5" text-anchor="middle" fill="#000">+ LPS</text>
<path d="M526.00 832.80L526.00 835.60Q526.10 840.60 526.95 842.60M526.00 852.40L526.00 849.60Q526.10 844.60 526.95 842.60M528.60 832.80L528.60 835.60Q528.50 840.60 527.65 842.60M528.60 852.40L528.60 849.60Q528.50 844.60 527.65 842.60M532.63 832.80L532.63 835.60Q532.73 840.60 533.58 842.60M532.63 852.40L532.63 849.60Q532.73 844.60 533.58 842.60M535.23 832.80L535.23 835.60Q535.13 840.60 534.28 842.60M535.23 852.40L535.23 849.60Q535.13 844.60 534.28 842.60M539.25 832.80L539.25 835.60Q539.35 840.60 540.20 842.60M539.25 852.40L539.25 849.60Q539.35 844.60 540.20 842.60M541.85 832.80L541.85 835.60Q541.75 840.60 540.90 842.60M541.85 852.40L541.85 849.60Q541.75 844.60 540.90 842.60M545.88 832.80L545.88 835.60Q545.98 840.60 546.83 842.60M545.88 852.40L545.88 849.60Q545.98 844.60 546.83 842.60M548.48 832.80L548.48 835.60Q548.38 840.60 547.53 842.60M548.48 852.40L548.48 849.60Q548.38 844.60 547.53 842.60M552.51 832.80L552.51 835.60Q552.61 840.60 553.46 842.60M552.51 852.40L552.51 849.60Q552.61 844.60 553.46 842.60M555.11 832.80L555.11 835.60Q555.01 840.60 554.16 842.60M555.11 852.40L555.11 849.60Q555.01 844.60 554.16 842.60M559.14 832.80L559.14 835.60Q559.24 840.60 560.09 842.60M559.14 852.40L559.14 849.60Q559.24 844.60 560.09 842.60M561.74 832.80L561.74 835.60Q561.64 840.60 560.79 842.60M561.74 852.40L561.74 849.60Q561.64 844.60 560.79 842.60M565.76 832.80L565.76 835.60Q565.86 840.60 566.71 842.60M565.76 852.40L565.76 849.60Q565.86 844.60 566.71 842.60M568.36 832.80L568.36 835.60Q568.26 840.60 567.41 842.60M568.36 852.40L568.36 849.60Q568.26 844.60 567.41 842.60M572.39 832.80L572.39 835.60Q572.49 840.60 573.34 842.60M572.39 852.40L572.39 849.60Q572.49 844.60 573.34 842.60M574.99 832.80L574.99 835.60Q574.89 840.60 574.04 842.60M574.99 852.40L574.99 849.60Q574.89 844.60 574.04 842.60M579.02 832.80L579.02 835.60Q579.12 840.60 579.97 842.60M579.02 852.40L579.02 849.60Q579.12 844.60 579.97 842.60M581.62 832.80L581.62 835.60Q581.52 840.60 580.67 842.60M581.62 852.40L581.62 849.60Q581.52 844.60 580.67 842.60M585.65 832.80L585.65 835.60Q585.75 840.60 586.60 842.60M585.65 852.40L585.65 849.60Q585.75 844.60 586.60 842.60M588.25 832.80L588.25 835.60Q588.15 840.60 587.30 842.60M588.25 852.40L588.25 849.60Q588.15 844.60 587.30 842.60M592.27 832.80L592.27 835.60Q592.37 840.60 593.22 842.60M592.27 852.40L592.27 849.60Q592.37 844.60 593.22 842.60M594.87 832.80L594.87 835.60Q594.77 840.60 593.92 842.60M594.87 852.40L594.87 849.60Q594.77 844.60 593.92 842.60M598.90 832.80L598.90 835.60Q599.00 840.60 599.85 842.60M598.90 852.40L598.90 849.60Q599.00 844.60 599.85 842.60M601.50 832.80L601.50 835.60Q601.40 840.60 600.55 842.60M601.50 852.40L601.50 849.60Q601.40 844.60 600.55 842.60M605.53 832.80L605.53 835.60Q605.63 840.60 606.48 842.60M605.53 852.40L605.53 849.60Q605.63 844.60 606.48 842.60M608.13 832.80L608.13 835.60Q608.03 840.60 607.18 842.60M608.13 852.40L608.13 849.60Q608.03 844.60 607.18 842.60M612.15 832.80L612.15 835.60Q612.25 840.60 613.10 842.60M612.15 852.40L612.15 849.60Q612.25 844.60 613.10 842.60M614.75 832.80L614.75 835.60Q614.65 840.60 613.80 842.60M614.75 852.40L614.75 849.60Q614.65 844.60 613.80 842.60M618.78 832.80L618.78 835.60Q618.88 840.60 619.73 842.60M618.78 852.40L618.78 849.60Q618.88 844.60 619.73 842.60M621.38 832.80L621.38 835.60Q621.28 840.60 620.43 842.60M621.38 852.40L621.38 849.60Q621.28 844.60 620.43 842.60M625.41 832.80L625.41 835.60Q625.51 840.60 626.36 842.60M625.41 852.40L625.41 849.60Q625.51 844.60 626.36 842.60M628.01 832.80L628.01 835.60Q627.91 840.60 627.06 842.60M628.01 852.40L628.01 849.60Q627.91 844.60 627.06 842.60M632.04 832.80L632.04 835.60Q632.14 840.60 632.99 842.60M632.04 852.40L632.04 849.60Q632.14 844.60 632.99 842.60M634.64 832.80L634.64 835.60Q634.54 840.60 633.69 842.60M634.64 852.40L634.64 849.60Q634.54 844.60 633.69 842.60M638.66 832.80L638.66 835.60Q638.76 840.60 639.61 842.60M638.66 852.40L638.66 849.60Q638.76 844.60 639.61 842.60M641.26 832.80L641.26 835.60Q641.16 840.60 640.31 842.60M641.26 852.40L641.26 849.60Q641.16 844.60 640.31 842.60M645.29 832.80L645.29 835.60Q645.39 840.60 646.24 842.60M645.29 852.40L645.29 849.60Q645.39 844.60 646.24 842.60M647.89 832.80L647.89 835.60Q647.79 840.60 646.94 842.60M647.89 852.40L647.89 849.60Q647.79 844.60 646.94 842.60M651.92 832.80L651.92 835.60Q652.02 840.60 652.87 842.60M651.92 852.40L651.92 849.60Q652.02 844.60 652.87 842.60M654.52 832.80L654.52 835.60Q654.42 840.60 653.57 842.60M654.52 852.40L654.52 849.60Q654.42 844.60 653.57 842.60M658.55 832.80L658.55 835.60Q658.65 840.60 659.50 842.60M658.55 852.40L658.55 849.60Q658.65 844.60 659.50 842.60M661.15 832.80L661.15 835.60Q661.05 840.60 660.20 842.60M661.15 852.40L661.15 849.60Q661.05 844.60 660.20 842.60M665.17 832.80L665.17 835.60Q665.27 840.60 666.12 842.60M665.17 852.40L665.17 849.60Q665.27 844.60 666.12 842.60M667.77 832.80L667.77 835.60Q667.67 840.60 666.82 842.60M667.77 852.40L667.77 849.60Q667.67 844.60 666.82 842.60M671.80 832.80L671.80 835.60Q671.90 840.60 672.75 842.60M671.80 852.40L671.80 849.60Q671.90 844.60 672.75 842.60M674.40 832.80L674.40 835.60Q674.30 840.60 673.45 842.60M674.40 852.40L674.40 849.60Q674.30 844.60 673.45 842.60" stroke="#2a2a2a" stroke-width="0.75" fill="none"/>
<g stroke="#222" stroke-width="0.85"><circle cx="527.30" cy="830.1" r="2.7" fill="#fff"/><circle cx="527.30" cy="855.1" r="2.7" fill="#fff"/><circle cx="533.93" cy="830.1" r="2.7" fill="#fff"/><circle cx="533.93" cy="855.1" r="2.7" fill="#fff"/><circle cx="540.55" cy="830.1" r="2.7" fill="#fff"/><circle cx="540.55" cy="855.1" r="2.7" fill="#fff"/><circle cx="547.18" cy="830.1" r="2.7" fill="#fff"/><circle cx="547.18" cy="855.1" r="2.7" fill="#fff"/><circle cx="553.81" cy="830.1" r="2.7" fill="#fff"/><circle cx="553.81" cy="855.1" r="2.7" fill="#fff"/><circle cx="560.44" cy="830.1" r="2.7" fill="#fff"/><circle cx="560.44" cy="855.1" r="2.7" fill="#fff"/><circle cx="567.06" cy="830.1" r="2.7" fill="#fff"/><circle cx="567.06" cy="855.1" r="2.7" fill="#fff"/><circle cx="573.69" cy="830.1" r="2.7" fill="#fff"/><circle cx="573.69" cy="855.1" r="2.7" fill="#fff"/><circle cx="580.32" cy="830.1" r="2.7" fill="#fff"/><circle cx="580.32" cy="855.1" r="2.7" fill="#fff"/><circle cx="586.95" cy="830.1" r="2.7" fill="#fff"/><circle cx="586.95" cy="855.1" r="2.7" fill="#fff"/><circle cx="593.57" cy="830.1" r="2.7" fill="#fff"/><circle cx="593.57" cy="855.1" r="2.7" fill="#fff"/><circle cx="600.20" cy="830.1" r="2.7" fill="#fff"/><circle cx="600.20" cy="855.1" r="2.7" fill="#fff"/><circle cx="606.83" cy="830.1" r="2.7" fill="#fff"/><circle cx="606.83" cy="855.1" r="2.7" fill="#fff"/><circle cx="613.45" cy="830.1" r="2.7" fill="#fff"/><circle cx="613.45" cy="855.1" r="2.7" fill="#fff"/><circle cx="620.08" cy="830.1" r="2.7" fill="#fff"/><circle cx="620.08" cy="855.1" r="2.7" fill="#fff"/><circle cx="626.71" cy="830.1" r="2.7" fill="#fff"/><circle cx="626.71" cy="855.1" r="2.7" fill="#fff"/><circle cx="633.34" cy="830.1" r="2.7" fill="#fff"/><circle cx="633.34" cy="855.1" r="2.7" fill="#fff"/><circle cx="639.96" cy="830.1" r="2.7" fill="#fff"/><circle cx="639.96" cy="855.1" r="2.7" fill="#fff"/><circle cx="646.59" cy="830.1" r="2.7" fill="#fff"/><circle cx="646.59" cy="855.1" r="2.7" fill="#fff"/><circle cx="653.22" cy="830.1" r="2.7" fill="#fff"/><circle cx="653.22" cy="855.1" r="2.7" fill="#fff"/><circle cx="659.85" cy="830.1" r="2.7" fill="#fff"/><circle cx="659.85" cy="855.1" r="2.7" fill="#fff"/><circle cx="666.47" cy="830.1" r="2.7" fill="#fff"/><circle cx="666.47" cy="855.1" r="2.7" fill="#fff"/><circle cx="673.10" cy="830.1" r="2.7" fill="#fff"/><circle cx="673.10" cy="855.1" r="2.7" fill="#fff"/></g>
<text x="600.10" y="868.70" font-size="11.0" text-anchor="middle" fill="#000">bilayer POPC, PE-PEG</text>
<line x1="548.9" y1="886.8" x2="569.50" y2="886.80" stroke="#111" stroke-width="1.8"/>
<path d="M575.00 886.80L569.50 889.80L569.50 883.80Z" fill="#111"/>
<text x="579.70" y="890.40" font-size="12.24" text-anchor="start" fill="#ff2020">No leak</text>
</svg></body></html>
